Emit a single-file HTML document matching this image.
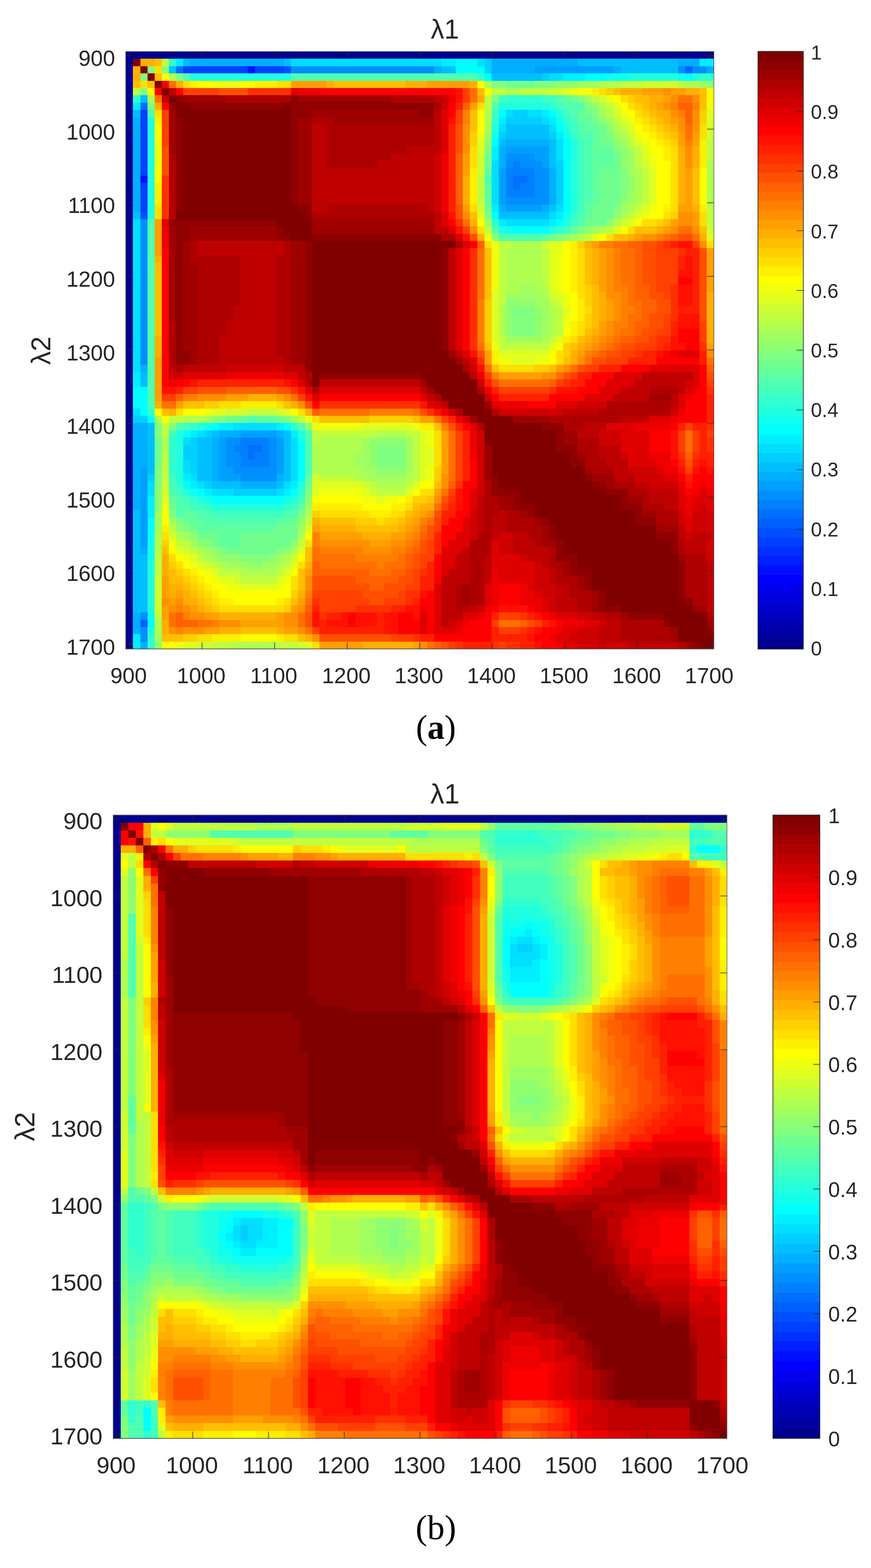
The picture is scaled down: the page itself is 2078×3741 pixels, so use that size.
<!DOCTYPE html>
<html lang="en"><head><meta charset="utf-8"><title>Correlation maps</title>
<style>
html,body{margin:0;padding:0;background:#fff;}
body{width:2078px;height:3741px;overflow:hidden;}
svg{display:block;}
text{font-family:"Liberation Sans","DejaVu Sans",sans-serif;fill:#262626;}
text.cap{font-family:"Liberation Serif","DejaVu Serif",serif;fill:#000;}
</style></head><body>
<svg width="2078" height="3741" viewBox="0 0 2078 3741">
<rect width="2078" height="3741" fill="#fff"/>
<g transform="translate(300.30 123.10) scale(17.10732 17.37927)" shape-rendering="crispEdges">
<path fill="#00008f" d="M0 0h82v1h-82zM0 1h1v1h-1zM0 2h1v1h-1zM0 3h1v1h-1zM0 4h1v1h-1zM0 5h1v1h-1zM0 6h1v1h-1zM0 7h1v1h-1zM0 8h1v1h-1zM0 9h1v1h-1zM0 10h1v1h-1zM0 11h1v1h-1zM0 12h1v1h-1zM0 13h1v1h-1zM0 14h1v1h-1zM0 15h1v1h-1zM0 16h1v1h-1zM0 17h1v1h-1zM0 18h1v1h-1zM0 19h1v1h-1zM0 20h1v1h-1zM0 21h1v1h-1zM0 22h1v1h-1zM0 23h1v1h-1zM0 24h1v1h-1zM0 25h1v1h-1zM0 26h1v1h-1zM0 27h1v1h-1zM0 28h1v1h-1zM0 29h1v1h-1zM0 30h1v1h-1zM0 31h1v1h-1zM0 32h1v1h-1zM0 33h1v1h-1zM0 34h1v1h-1zM0 35h1v1h-1zM0 36h1v1h-1zM0 37h1v1h-1zM0 38h1v1h-1zM0 39h1v1h-1zM0 40h1v1h-1zM0 41h1v1h-1zM0 42h1v1h-1zM0 43h1v1h-1zM0 44h1v1h-1zM0 45h1v1h-1zM0 46h1v1h-1zM0 47h1v1h-1zM0 48h1v1h-1zM0 49h1v1h-1zM0 50h1v1h-1zM0 51h1v1h-1zM0 52h1v1h-1zM0 53h1v1h-1zM0 54h1v1h-1zM0 55h1v1h-1zM0 56h1v1h-1zM0 57h1v1h-1zM0 58h1v1h-1zM0 59h1v1h-1zM0 60h1v1h-1zM0 61h1v1h-1zM0 62h1v1h-1zM0 63h1v1h-1zM0 64h1v1h-1zM0 65h1v1h-1zM0 66h1v1h-1zM0 67h1v1h-1zM0 68h1v1h-1zM0 69h1v1h-1zM0 70h1v1h-1zM0 71h1v1h-1zM0 72h1v1h-1zM0 73h1v1h-1zM0 74h1v1h-1zM0 75h1v1h-1zM0 76h1v1h-1zM0 77h1v1h-1zM0 78h1v1h-1zM0 79h1v1h-1zM0 80h1v1h-1zM0 81h1v1h-1z"/>
<path fill="#800000" d="M1 1h1v1h-1zM2 2h1v1h-1zM3 3h1v1h-1zM4 4h1v1h-1zM5 5h1v1h-1zM6 6h1v1h-1zM7 7h2v1h-2zM22 7h1v1h-1zM7 8h16v1h-16zM8 9h15v1h-15zM8 10h15v1h-15zM8 11h15v1h-15zM8 12h15v1h-15zM8 13h15v1h-15zM8 14h15v1h-15zM8 15h15v1h-15zM8 16h15v1h-15zM8 17h15v1h-15zM8 18h15v1h-15zM8 19h15v1h-15zM8 20h15v1h-15zM8 21h16v1h-16zM7 22h18v1h-18zM21 23h5v1h-5zM22 24h4v1h-4zM23 25h3v1h-3zM26 26h20v1h-20zM26 27h18v1h-18zM26 28h18v1h-18zM26 29h18v1h-18zM26 30h18v1h-18zM26 31h18v1h-18zM26 32h18v1h-18zM26 33h18v1h-18zM26 34h18v1h-18zM26 35h18v1h-18zM26 36h18v1h-18zM26 37h18v1h-18zM26 38h18v1h-18zM26 39h18v1h-18zM26 40h18v1h-18zM26 41h19v1h-19zM26 42h20v1h-20zM26 43h21v1h-21zM26 44h1v1h-1zM41 44h7v1h-7zM26 45h1v1h-1zM42 45h7v1h-7zM43 46h6v1h-6zM44 47h6v1h-6zM45 48h5v1h-5zM47 49h4v1h-4zM49 50h5v1h-5zM50 51h8v1h-8zM50 52h10v1h-10zM50 53h10v1h-10zM51 54h9v1h-9zM51 55h11v1h-11zM51 56h11v1h-11zM51 57h13v1h-13zM52 58h12v1h-12zM52 59h13v1h-13zM55 60h12v1h-12zM55 61h14v1h-14zM57 62h12v1h-12zM57 63h14v1h-14zM59 64h12v1h-12zM60 65h14v1h-14zM60 66h14v1h-14zM61 67h15v1h-15zM61 68h15v1h-15zM63 69h14v1h-14zM63 70h14v1h-14zM65 71h12v1h-12zM65 72h12v1h-12zM65 73h12v1h-12zM67 74h10v1h-10zM67 75h11v1h-11zM69 76h10v1h-10zM75 77h6v1h-6zM76 78h5v1h-5zM77 79h4v1h-4zM77 80h5v1h-5zM80 81h2v1h-2z"/>
<path fill="#ffaf00" d="M2 1h2v1h-2zM1 2h1v1h-1zM1 3h1v1h-1zM7 4h1v1h-1zM28 4h1v1h-1zM39 4h3v1h-3zM48 4h1v1h-1zM69 5h3v1h-3zM78 5h2v1h-2zM49 6h1v1h-1zM73 6h2v1h-2zM4 7h1v1h-1zM73 7h1v1h-1zM74 8h2v1h-2zM75 9h1v1h-1zM76 10h1v1h-1zM77 13h1v1h-1zM79 13h1v1h-1zM77 14h1v1h-1zM79 14h1v1h-1zM77 15h1v1h-1zM79 15h1v1h-1zM77 16h1v1h-1zM47 17h1v1h-1zM77 17h1v1h-1zM47 18h1v1h-1zM77 18h1v1h-1zM47 19h1v1h-1zM77 19h1v1h-1zM47 20h1v1h-1zM77 20h1v1h-1zM79 21h1v1h-1zM48 23h1v1h-1zM74 24h1v1h-1zM49 25h1v1h-1zM70 25h1v1h-1zM80 25h1v1h-1zM64 26h1v1h-1zM65 27h1v1h-1zM4 28h1v1h-1zM65 28h1v1h-1zM65 29h1v1h-1zM65 30h1v1h-1zM65 31h1v1h-1zM66 33h1v1h-1zM81 33h1v1h-1zM66 34h1v1h-1zM81 34h1v1h-1zM66 35h1v1h-1zM81 35h1v1h-1zM66 36h1v1h-1zM81 36h1v1h-1zM81 37h1v1h-1zM65 38h1v1h-1zM81 38h1v1h-1zM4 39h1v1h-1zM64 39h1v1h-1zM81 39h1v1h-1zM4 40h1v1h-1zM63 40h1v1h-1zM4 41h1v1h-1zM62 41h1v1h-1zM62 42h1v1h-1zM17 47h4v1h-4zM4 48h1v1h-1zM23 48h1v1h-1zM6 49h1v1h-1zM25 49h1v1h-1zM41 62h2v1h-2zM40 63h1v1h-1zM26 64h1v1h-1zM39 64h1v1h-1zM27 65h5v1h-5zM38 65h1v1h-1zM33 66h4v1h-4zM5 69h1v1h-1zM5 70h1v1h-1zM25 70h1v1h-1zM5 71h1v1h-1zM6 73h2v1h-2zM6 74h1v1h-1zM8 74h1v1h-1zM24 74h1v1h-1zM8 75h2v1h-2zM10 76h1v1h-1zM13 77h8v1h-8zM5 78h1v1h-1zM5 79h1v1h-1zM13 79h3v1h-3zM21 79h1v1h-1zM25 80h1v1h-1zM33 81h7v1h-7z"/>
<path fill="#ffbf00" d="M4 1h1v1h-1zM4 3h1v1h-1zM1 4h1v1h-1zM3 4h1v1h-1zM29 4h10v1h-10zM49 5h1v1h-1zM68 5h1v1h-1zM80 5h1v1h-1zM71 6h2v1h-2zM80 6h1v1h-1zM72 7h1v1h-1zM80 7h1v1h-1zM48 8h1v1h-1zM73 8h1v1h-1zM48 9h1v1h-1zM74 9h1v1h-1zM48 10h1v1h-1zM75 10h1v1h-1zM76 11h1v1h-1zM79 16h1v1h-1zM79 17h1v1h-1zM79 18h1v1h-1zM79 19h1v1h-1zM79 20h1v1h-1zM48 22h1v1h-1zM75 23h1v1h-1zM71 24h3v1h-3zM80 24h1v1h-1zM68 25h2v1h-2zM50 27h1v1h-1zM64 27h1v1h-1zM50 28h1v1h-1zM64 28h1v1h-1zM4 29h1v1h-1zM50 29h1v1h-1zM64 29h1v1h-1zM4 30h1v1h-1zM50 30h1v1h-1zM64 30h1v1h-1zM4 31h1v1h-1zM50 31h1v1h-1zM64 31h1v1h-1zM4 32h1v1h-1zM50 32h1v1h-1zM65 32h1v1h-1zM4 33h1v1h-1zM50 33h1v1h-1zM65 33h1v1h-1zM4 34h1v1h-1zM65 34h1v1h-1zM4 35h1v1h-1zM65 35h1v1h-1zM4 36h1v1h-1zM65 36h1v1h-1zM4 37h1v1h-1zM65 37h1v1h-1zM4 38h1v1h-1zM64 38h1v1h-1zM63 39h1v1h-1zM50 40h1v1h-1zM62 40h1v1h-1zM61 42h1v1h-1zM51 43h1v1h-1zM59 43h1v1h-1zM8 48h3v1h-3zM22 48h1v1h-1zM5 49h1v1h-1zM27 50h7v1h-7zM40 50h1v1h-1zM43 51h1v1h-1zM43 59h1v1h-1zM42 61h1v1h-1zM40 62h1v1h-1zM39 63h1v1h-1zM27 64h5v1h-5zM38 64h1v1h-1zM32 65h6v1h-6zM5 68h1v1h-1zM25 68h1v1h-1zM25 69h1v1h-1zM6 71h1v1h-1zM24 71h1v1h-1zM6 72h2v1h-2zM24 72h1v1h-1zM8 73h1v1h-1zM24 73h1v1h-1zM9 74h1v1h-1zM10 75h1v1h-1zM23 75h1v1h-1zM11 76h1v1h-1zM16 79h5v1h-5zM5 80h3v1h-3zM24 80h1v1h-1z"/>
<path fill="#bfff40" d="M5 1h1v1h-1zM69 4h3v1h-3zM77 4h1v1h-1zM1 5h1v1h-1zM51 5h2v1h-2zM55 5h4v1h-4zM50 6h1v1h-1zM65 6h1v1h-1zM50 7h1v1h-1zM67 7h1v1h-1zM67 8h1v1h-1zM68 9h1v1h-1zM69 10h1v1h-1zM70 12h1v1h-1zM81 12h1v1h-1zM71 13h1v1h-1zM81 13h1v1h-1zM71 14h1v1h-1zM81 14h1v1h-1zM71 15h1v1h-1zM72 16h1v1h-1zM49 17h1v1h-1zM72 17h1v1h-1zM49 18h1v1h-1zM72 18h1v1h-1zM49 19h1v1h-1zM72 19h1v1h-1zM49 20h1v1h-1zM72 20h1v1h-1zM71 21h1v1h-1zM81 21h1v1h-1zM70 22h1v1h-1zM81 22h1v1h-1zM81 23h1v1h-1zM50 24h1v1h-1zM67 24h1v1h-1zM64 25h1v1h-1zM52 26h2v1h-2zM52 27h1v1h-1zM58 27h1v1h-1zM52 28h1v1h-1zM58 28h1v1h-1zM52 29h1v1h-1zM58 29h1v1h-1zM52 30h1v1h-1zM58 30h1v1h-1zM52 31h1v1h-1zM58 31h1v1h-1zM52 32h1v1h-1zM52 33h1v1h-1zM52 34h1v1h-1zM59 34h1v1h-1zM60 35h1v1h-1zM60 36h1v1h-1zM60 37h1v1h-1zM60 38h1v1h-1zM52 39h1v1h-1zM59 39h1v1h-1zM52 40h7v1h-7zM17 49h4v1h-4zM6 50h2v1h-2zM24 50h1v1h-1zM5 51h1v1h-1zM5 52h1v1h-1zM26 52h9v1h-9zM39 52h2v1h-2zM26 53h1v1h-1zM40 53h1v1h-1zM40 54h1v1h-1zM5 55h1v1h-1zM40 55h1v1h-1zM5 56h1v1h-1zM40 56h1v1h-1zM5 57h1v1h-1zM40 57h1v1h-1zM5 58h1v1h-1zM27 58h5v1h-5zM40 58h1v1h-1zM34 59h1v1h-1zM39 59h1v1h-1zM35 60h4v1h-4zM25 64h1v1h-1zM6 65h1v1h-1zM7 67h2v1h-2zM24 67h1v1h-1zM9 68h1v1h-1zM4 69h1v1h-1zM10 69h1v1h-1zM4 70h1v1h-1zM12 70h1v1h-1zM22 70h1v1h-1zM4 71h1v1h-1zM13 71h3v1h-3zM21 71h1v1h-1zM16 72h5v1h-5zM4 77h1v1h-1zM12 81h3v1h-3zM21 81h3v1h-3z"/>
<path fill="#30ffcf" d="M6 1h1v1h-1zM49 3h1v1h-1zM80 3h2v1h-2zM1 6h1v1h-1zM53 6h5v1h-5zM59 7h1v1h-1zM51 9h1v1h-1zM61 9h1v1h-1zM62 11h1v1h-1zM62 22h1v1h-1zM51 23h1v1h-1zM60 24h1v1h-1zM3 49h1v1h-1zM9 51h1v1h-1zM23 51h1v1h-1zM6 53h1v1h-1zM6 54h1v1h-1zM6 55h1v1h-1zM6 56h1v1h-1zM6 57h1v1h-1zM7 59h1v1h-1zM24 60h1v1h-1zM9 61h1v1h-1zM11 62h1v1h-1zM22 62h1v1h-1zM3 80h1v1h-1zM3 81h1v1h-1z"/>
<path fill="#00efff" d="M7 1h1v1h-1zM44 1h2v1h-2zM80 1h2v1h-2zM61 3h3v1h-3zM1 7h1v1h-1zM58 8h1v1h-1zM52 9h1v1h-1zM59 9h1v1h-1zM60 11h1v1h-1zM51 13h1v1h-1zM51 14h1v1h-1zM51 21h1v1h-1zM60 22h1v1h-1zM52 23h1v1h-1zM59 23h1v1h-1zM1 44h1v1h-1zM1 45h1v1h-1zM13 51h2v1h-2zM21 51h1v1h-1zM9 52h1v1h-1zM23 52h1v1h-1zM8 58h1v1h-1zM9 59h1v1h-1zM23 59h1v1h-1zM11 60h1v1h-1zM22 60h1v1h-1zM3 61h1v1h-1zM3 62h1v1h-1zM3 63h1v1h-1zM1 80h1v1h-1zM1 81h1v1h-1z"/>
<path fill="#00bfff" d="M8 1h1v1h-1zM22 1h1v1h-1zM63 1h14v1h-14zM6 2h1v1h-1zM44 2h2v1h-2zM69 2h8v1h-8zM51 3h7v1h-7zM2 6h1v1h-1zM1 8h1v1h-1zM53 10h6v1h-6zM53 11h6v1h-6zM52 12h1v1h-1zM59 12h1v1h-1zM59 13h1v1h-1zM59 14h1v1h-1zM59 15h1v1h-1zM59 21h1v1h-1zM1 22h1v1h-1zM52 22h7v1h-7zM2 44h1v1h-1zM2 45h1v1h-1zM3 51h1v1h-1zM3 52h1v1h-1zM12 52h1v1h-1zM22 52h1v1h-1zM3 53h1v1h-1zM10 53h2v1h-2zM22 53h1v1h-1zM3 54h1v1h-1zM10 54h2v1h-2zM22 54h1v1h-1zM3 55h1v1h-1zM10 55h2v1h-2zM22 55h1v1h-1zM3 56h1v1h-1zM10 56h2v1h-2zM22 56h1v1h-1zM3 57h1v1h-1zM10 57h2v1h-2zM22 57h1v1h-1zM10 58h2v1h-2zM22 58h1v1h-1zM12 59h4v1h-4zM21 59h1v1h-1zM1 63h1v1h-1zM1 64h1v1h-1zM1 65h1v1h-1zM1 66h1v1h-1zM1 67h1v1h-1zM1 68h1v1h-1zM1 69h2v1h-2zM1 70h2v1h-2zM1 71h2v1h-2zM1 72h2v1h-2zM1 73h2v1h-2zM1 74h2v1h-2zM1 75h2v1h-2zM1 76h2v1h-2z"/>
<path fill="#00afff" d="M9 1h13v1h-13zM51 1h12v1h-12zM77 1h3v1h-3zM43 2h1v1h-1zM51 2h6v1h-6zM68 2h1v1h-1zM81 2h1v1h-1zM1 9h1v1h-1zM1 10h1v1h-1zM1 11h1v1h-1zM1 12h1v1h-1zM53 12h6v1h-6zM1 13h1v1h-1zM52 13h1v1h-1zM1 14h1v1h-1zM52 14h1v1h-1zM1 15h1v1h-1zM52 15h1v1h-1zM1 16h1v1h-1zM59 16h1v1h-1zM1 17h1v1h-1zM59 17h1v1h-1zM1 18h1v1h-1zM59 18h1v1h-1zM1 19h1v1h-1zM59 19h1v1h-1zM1 20h1v1h-1zM59 20h1v1h-1zM1 21h1v1h-1zM52 21h1v1h-1zM58 21h1v1h-1zM2 43h1v1h-1zM1 51h2v1h-2zM1 52h2v1h-2zM13 52h3v1h-3zM21 52h1v1h-1zM1 53h2v1h-2zM12 53h1v1h-1zM1 54h2v1h-2zM12 54h1v1h-1zM1 55h2v1h-2zM12 55h1v1h-1zM1 56h2v1h-2zM12 56h1v1h-1zM1 57h1v1h-1zM12 57h1v1h-1zM1 58h1v1h-1zM12 58h1v1h-1zM21 58h1v1h-1zM1 59h1v1h-1zM16 59h5v1h-5zM1 60h1v1h-1zM1 61h1v1h-1zM1 62h1v1h-1zM2 68h1v1h-1zM1 77h1v1h-1zM1 78h1v1h-1zM1 79h1v1h-1zM2 81h1v1h-1z"/>
<path fill="#00dfff" d="M23 1h21v1h-21zM49 1h1v1h-1zM59 3h2v1h-2zM53 8h1v1h-1zM56 8h2v1h-2zM58 9h1v1h-1zM52 10h1v1h-1zM59 10h1v1h-1zM60 12h1v1h-1zM60 13h1v1h-1zM60 14h1v1h-1zM51 15h1v1h-1zM51 16h1v1h-1zM51 17h1v1h-1zM51 18h1v1h-1zM51 19h1v1h-1zM51 20h1v1h-1zM60 21h1v1h-1zM59 22h1v1h-1zM1 23h1v1h-1zM53 23h6v1h-6zM1 24h1v1h-1zM1 25h1v1h-1zM1 26h1v1h-1zM1 27h1v1h-1zM1 28h1v1h-1zM1 29h1v1h-1zM1 30h1v1h-1zM1 31h1v1h-1zM1 32h1v1h-1zM1 33h1v1h-1zM1 34h1v1h-1zM1 35h1v1h-1zM1 36h1v1h-1zM1 37h1v1h-1zM1 38h1v1h-1zM1 39h1v1h-1zM1 40h1v1h-1zM1 41h1v1h-1zM1 42h1v1h-1zM1 43h1v1h-1zM1 49h1v1h-1zM15 51h6v1h-6zM10 52h1v1h-1zM8 53h1v1h-1zM23 53h1v1h-1zM23 54h1v1h-1zM23 55h1v1h-1zM8 56h1v1h-1zM23 56h1v1h-1zM8 57h1v1h-1zM23 57h1v1h-1zM9 58h1v1h-1zM23 58h1v1h-1zM3 59h1v1h-1zM10 59h1v1h-1zM22 59h1v1h-1zM3 60h1v1h-1zM12 60h3v1h-3zM21 60h1v1h-1z"/>
<path fill="#00ffff" d="M46 1h3v1h-3zM46 2h4v1h-4zM50 3h1v1h-1zM64 3h3v1h-3zM78 3h1v1h-1zM52 8h1v1h-1zM59 8h1v1h-1zM60 10h1v1h-1zM51 12h1v1h-1zM61 12h1v1h-1zM61 13h1v1h-1zM61 14h1v1h-1zM61 15h1v1h-1zM61 16h1v1h-1zM61 17h1v1h-1zM61 18h1v1h-1zM61 19h1v1h-1zM61 20h1v1h-1zM61 21h1v1h-1zM51 22h1v1h-1zM60 23h1v1h-1zM54 24h5v1h-5zM1 46h2v1h-2zM1 47h2v1h-2zM1 48h2v1h-2zM2 49h1v1h-1zM3 50h1v1h-1zM12 51h1v1h-1zM22 51h1v1h-1zM8 52h1v1h-1zM24 54h1v1h-1zM24 55h1v1h-1zM24 56h1v1h-1zM24 57h1v1h-1zM24 58h1v1h-1zM8 59h1v1h-1zM10 60h1v1h-1zM23 60h1v1h-1zM12 61h10v1h-10zM3 64h1v1h-1zM3 65h1v1h-1zM3 66h1v1h-1zM3 78h1v1h-1z"/>
<path fill="#00cfff" d="M50 1h1v1h-1zM50 2h1v1h-1zM58 3h1v1h-1zM54 8h2v1h-2zM53 9h5v1h-5zM52 11h1v1h-1zM59 11h1v1h-1zM60 15h1v1h-1zM60 16h1v1h-1zM60 17h1v1h-1zM60 18h1v1h-1zM60 19h1v1h-1zM60 20h1v1h-1zM1 50h2v1h-2zM11 52h1v1h-1zM9 53h1v1h-1zM8 54h2v1h-2zM8 55h2v1h-2zM9 56h1v1h-1zM9 57h1v1h-1zM3 58h1v1h-1zM11 59h1v1h-1zM15 60h6v1h-6z"/>
<path fill="#80ff80" d="M3 2h1v1h-1zM5 2h1v1h-1zM2 3h1v1h-1zM7 3h1v1h-1zM51 4h2v1h-2zM57 4h3v1h-3zM2 5h1v1h-1zM51 6h1v1h-1zM63 6h1v1h-1zM3 7h1v1h-1zM64 7h1v1h-1zM65 8h1v1h-1zM67 11h1v1h-1zM50 13h1v1h-1zM68 13h1v1h-1zM69 16h1v1h-1zM69 17h1v1h-1zM69 18h1v1h-1zM69 19h1v1h-1zM68 21h1v1h-1zM50 22h1v1h-1zM63 24h1v1h-1zM60 25h1v1h-1zM54 35h3v1h-3zM54 36h3v1h-3zM54 37h3v1h-3zM54 38h3v1h-3zM13 50h1v1h-1zM22 50h1v1h-1zM4 51h1v1h-1zM6 51h1v1h-1zM4 52h1v1h-1zM35 54h4v1h-4zM35 55h4v1h-4zM35 56h4v1h-4zM4 57h1v1h-1zM4 58h1v1h-1zM4 59h1v1h-1zM25 60h1v1h-1zM6 63h1v1h-1zM24 63h1v1h-1zM7 64h1v1h-1zM8 65h1v1h-1zM11 67h1v1h-1zM13 68h1v1h-1zM21 68h1v1h-1zM16 69h4v1h-4z"/>
<path fill="#ffdf00" d="M4 2h1v1h-1zM2 4h1v1h-1zM8 4h1v1h-1zM21 4h2v1h-2zM66 5h1v1h-1zM69 6h1v1h-1zM49 7h1v1h-1zM70 7h1v1h-1zM4 8h1v1h-1zM71 8h1v1h-1zM72 9h1v1h-1zM73 10h1v1h-1zM80 10h1v1h-1zM74 11h1v1h-1zM80 11h1v1h-1zM75 12h1v1h-1zM48 13h1v1h-1zM76 13h1v1h-1zM48 14h1v1h-1zM76 14h1v1h-1zM48 15h1v1h-1zM76 15h1v1h-1zM76 16h1v1h-1zM76 17h1v1h-1zM76 18h1v1h-1zM76 19h1v1h-1zM76 20h1v1h-1zM4 21h1v1h-1zM48 21h1v1h-1zM76 21h1v1h-1zM4 22h1v1h-1zM75 22h1v1h-1zM80 22h1v1h-1zM72 23h2v1h-2zM80 23h1v1h-1zM49 24h1v1h-1zM70 24h1v1h-1zM67 25h1v1h-1zM50 26h1v1h-1zM81 26h1v1h-1zM63 27h1v1h-1zM63 28h1v1h-1zM63 29h1v1h-1zM63 30h1v1h-1zM63 31h1v1h-1zM63 32h1v1h-1zM63 33h1v1h-1zM64 35h1v1h-1zM63 37h1v1h-1zM63 38h1v1h-1zM62 39h1v1h-1zM60 41h1v1h-1zM60 42h1v1h-1zM52 43h5v1h-5zM13 48h3v1h-3zM21 48h1v1h-1zM7 49h1v1h-1zM24 49h1v1h-1zM26 50h1v1h-1zM43 52h1v1h-1zM43 53h1v1h-1zM43 54h1v1h-1zM43 55h1v1h-1zM43 56h1v1h-1zM41 60h2v1h-2zM39 62h1v1h-1zM27 63h7v1h-7zM37 63h2v1h-2zM35 64h1v1h-1zM5 66h1v1h-1zM25 67h1v1h-1zM6 69h1v1h-1zM7 70h1v1h-1zM24 70h1v1h-1zM8 71h1v1h-1zM9 72h1v1h-1zM23 72h1v1h-1zM10 73h1v1h-1zM23 73h1v1h-1zM11 74h1v1h-1zM12 75h1v1h-1zM22 75h1v1h-1zM13 76h9v1h-9zM10 80h2v1h-2zM22 80h2v1h-2zM26 81h1v1h-1z"/>
<path fill="#0070ff" d="M7 2h1v1h-1zM2 7h1v1h-1zM54 17h2v1h-2zM54 18h1v1h-1zM17 54h2v1h-2zM17 55h1v1h-1z"/>
<path fill="#0040ff" d="M8 2h9v1h-9zM18 2h4v1h-4zM2 8h1v1h-1zM2 9h1v1h-1zM2 10h1v1h-1zM2 11h1v1h-1zM2 12h1v1h-1zM2 13h1v1h-1zM2 14h1v1h-1zM2 15h1v1h-1zM2 16h1v1h-1zM2 18h1v1h-1zM2 19h1v1h-1zM2 20h1v1h-1zM2 21h1v1h-1z"/>
<path fill="#0010ff" d="M17 2h1v1h-1zM2 17h1v1h-1z"/>
<path fill="#0050ff" d="M22 2h1v1h-1zM2 22h1v1h-1z"/>
<path fill="#008fff" d="M23 2h20v1h-20zM77 2h1v1h-1zM79 2h2v1h-2zM53 14h4v1h-4zM53 15h1v1h-1zM55 15h3v1h-3zM57 16h2v1h-2zM57 17h2v1h-2zM57 18h2v1h-2zM57 19h2v1h-2zM53 20h6v1h-6zM2 23h1v1h-1zM2 24h1v1h-1zM2 25h1v1h-1zM2 26h1v1h-1zM2 27h1v1h-1zM2 28h1v1h-1zM2 29h1v1h-1zM2 30h1v1h-1zM2 31h1v1h-1zM2 32h1v1h-1zM2 33h1v1h-1zM2 34h1v1h-1zM2 35h1v1h-1zM2 36h1v1h-1zM2 37h1v1h-1zM2 38h1v1h-1zM2 39h1v1h-1zM2 40h1v1h-1zM2 41h1v1h-1zM2 42h1v1h-1zM14 53h2v1h-2zM20 53h1v1h-1zM14 54h1v1h-1zM20 54h1v1h-1zM14 55h2v1h-2zM20 55h1v1h-1zM14 56h2v1h-2zM20 56h1v1h-1zM15 57h6v1h-6zM16 58h5v1h-5zM2 77h1v1h-1zM2 79h1v1h-1zM2 80h1v1h-1z"/>
<path fill="#009fff" d="M57 2h11v1h-11zM53 13h6v1h-6zM57 14h2v1h-2zM58 15h1v1h-1zM52 16h1v1h-1zM52 17h1v1h-1zM52 18h1v1h-1zM52 19h1v1h-1zM52 20h1v1h-1zM53 21h5v1h-5zM16 52h5v1h-5zM13 53h1v1h-1zM21 53h1v1h-1zM13 54h1v1h-1zM21 54h1v1h-1zM13 55h1v1h-1zM21 55h1v1h-1zM13 56h1v1h-1zM21 56h1v1h-1zM2 57h1v1h-1zM13 57h2v1h-2zM21 57h1v1h-1zM2 58h1v1h-1zM13 58h3v1h-3zM2 59h1v1h-1zM2 60h1v1h-1zM2 61h1v1h-1zM2 62h1v1h-1zM2 63h1v1h-1zM2 64h1v1h-1zM2 65h1v1h-1zM2 66h1v1h-1zM2 67h1v1h-1z"/>
<path fill="#0060ff" d="M78 2h1v1h-1zM2 78h1v1h-1z"/>
<path fill="#ffff00" d="M5 3h1v1h-1zM10 4h2v1h-2zM16 4h2v1h-2zM49 4h1v1h-1zM3 5h1v1h-1zM50 5h1v1h-1zM63 5h2v1h-2zM81 5h1v1h-1zM68 6h1v1h-1zM81 6h1v1h-1zM69 7h1v1h-1zM49 8h1v1h-1zM70 8h1v1h-1zM49 9h1v1h-1zM4 10h1v1h-1zM49 10h1v1h-1zM71 10h1v1h-1zM4 11h1v1h-1zM72 11h1v1h-1zM73 12h1v1h-1zM73 13h2v1h-2zM74 14h1v1h-1zM74 15h2v1h-2zM4 16h1v1h-1zM74 16h2v1h-2zM80 16h1v1h-1zM4 17h1v1h-1zM74 17h2v1h-2zM80 17h1v1h-1zM74 18h2v1h-2zM80 18h1v1h-1zM74 19h2v1h-2zM80 19h1v1h-1zM74 20h2v1h-2zM80 20h1v1h-1zM74 21h1v1h-1zM73 22h2v1h-2zM49 23h1v1h-1zM71 23h1v1h-1zM69 24h1v1h-1zM66 25h1v1h-1zM61 26h1v1h-1zM61 27h1v1h-1zM61 28h1v1h-1zM61 29h1v1h-1zM61 30h1v1h-1zM61 31h1v1h-1zM61 32h1v1h-1zM62 33h1v1h-1zM62 34h1v1h-1zM62 35h1v1h-1zM62 36h1v1h-1zM61 38h1v1h-1zM60 40h1v1h-1zM59 41h1v1h-1zM59 42h1v1h-1zM4 49h1v1h-1zM8 49h3v1h-3zM23 49h1v1h-1zM5 50h1v1h-1zM41 59h2v1h-2zM40 60h1v1h-1zM26 61h7v1h-7zM38 61h1v1h-1zM33 62h4v1h-4zM5 63h1v1h-1zM5 64h1v1h-1zM25 66h1v1h-1zM6 68h1v1h-1zM7 69h1v1h-1zM24 69h1v1h-1zM8 70h1v1h-1zM10 71h1v1h-1zM23 71h1v1h-1zM11 72h1v1h-1zM12 73h2v1h-2zM22 73h1v1h-1zM13 74h10v1h-10zM15 75h6v1h-6zM16 80h5v1h-5zM5 81h2v1h-2z"/>
<path fill="#afff50" d="M6 3h1v1h-1zM50 4h1v1h-1zM66 4h3v1h-3zM78 4h2v1h-2zM53 5h2v1h-2zM3 6h1v1h-1zM66 7h1v1h-1zM50 8h1v1h-1zM50 9h1v1h-1zM50 10h1v1h-1zM68 10h1v1h-1zM69 11h1v1h-1zM70 13h1v1h-1zM81 15h1v1h-1zM71 16h1v1h-1zM81 16h1v1h-1zM71 17h1v1h-1zM81 17h1v1h-1zM71 18h1v1h-1zM81 18h1v1h-1zM71 19h1v1h-1zM81 19h1v1h-1zM71 20h1v1h-1zM81 20h1v1h-1zM70 21h1v1h-1zM69 22h1v1h-1zM68 23h1v1h-1zM66 24h1v1h-1zM63 25h1v1h-1zM54 26h4v1h-4zM53 27h5v1h-5zM53 28h5v1h-5zM53 29h5v1h-5zM53 30h5v1h-5zM53 31h5v1h-5zM53 32h2v1h-2zM57 32h2v1h-2zM58 33h1v1h-1zM52 35h1v1h-1zM59 35h1v1h-1zM52 36h1v1h-1zM59 36h1v1h-1zM52 37h1v1h-1zM59 37h1v1h-1zM52 38h1v1h-1zM59 38h1v1h-1zM58 39h1v1h-1zM4 50h1v1h-1zM8 50h3v1h-3zM35 52h4v1h-4zM5 53h1v1h-1zM27 53h6v1h-6zM5 54h1v1h-1zM26 54h7v1h-7zM26 55h6v1h-6zM26 56h6v1h-6zM26 57h7v1h-7zM32 58h2v1h-2zM39 58h1v1h-1zM35 59h4v1h-4zM25 63h1v1h-1zM4 66h1v1h-1zM7 66h1v1h-1zM24 66h1v1h-1zM4 67h1v1h-1zM4 68h1v1h-1zM10 68h1v1h-1zM23 68h1v1h-1zM11 69h1v1h-1zM22 69h1v1h-1zM13 70h1v1h-1zM21 70h1v1h-1zM16 71h5v1h-5zM4 78h1v1h-1zM4 79h1v1h-1zM15 81h6v1h-6z"/>
<path fill="#50ffaf" d="M8 3h1v1h-1zM23 3h26v1h-26zM60 6h1v1h-1zM51 7h1v1h-1zM61 7h3v1h-3zM3 8h1v1h-1zM62 8h1v1h-1zM63 10h1v1h-1zM63 11h2v1h-2zM64 12h1v1h-1zM64 13h1v1h-1zM64 14h1v1h-1zM64 15h1v1h-1zM64 16h1v1h-1zM50 17h1v1h-1zM64 17h1v1h-1zM64 18h1v1h-1zM64 19h1v1h-1zM64 20h1v1h-1zM63 22h1v1h-1zM3 23h1v1h-1zM63 23h1v1h-1zM3 24h1v1h-1zM51 24h1v1h-1zM3 25h1v1h-1zM52 25h6v1h-6zM3 26h1v1h-1zM3 27h1v1h-1zM3 28h1v1h-1zM3 29h1v1h-1zM3 30h1v1h-1zM3 31h1v1h-1zM3 32h1v1h-1zM3 33h1v1h-1zM3 34h1v1h-1zM3 35h1v1h-1zM3 36h1v1h-1zM3 37h1v1h-1zM3 38h1v1h-1zM3 39h1v1h-1zM3 40h1v1h-1zM3 41h1v1h-1zM3 42h1v1h-1zM3 43h1v1h-1zM3 44h1v1h-1zM3 45h1v1h-1zM3 46h1v1h-1zM3 47h1v1h-1zM3 48h1v1h-1zM17 50h1v1h-1zM7 51h1v1h-1zM24 51h1v1h-1zM25 52h1v1h-1zM25 53h1v1h-1zM25 54h1v1h-1zM25 55h1v1h-1zM25 56h1v1h-1zM25 57h1v1h-1zM6 60h1v1h-1zM7 61h1v1h-1zM7 62h2v1h-2zM7 63h1v1h-1zM10 63h2v1h-2zM22 63h2v1h-2zM11 64h10v1h-10z"/>
<path fill="#20ffdf" d="M9 3h14v1h-14zM70 3h7v1h-7zM79 3h1v1h-1zM52 7h7v1h-7zM60 8h1v1h-1zM3 9h1v1h-1zM3 10h1v1h-1zM51 10h1v1h-1zM61 10h1v1h-1zM3 11h1v1h-1zM3 12h1v1h-1zM62 12h1v1h-1zM3 13h1v1h-1zM62 13h1v1h-1zM3 14h1v1h-1zM62 14h1v1h-1zM3 15h1v1h-1zM62 15h1v1h-1zM3 16h1v1h-1zM62 16h1v1h-1zM3 17h1v1h-1zM62 17h1v1h-1zM3 18h1v1h-1zM62 18h1v1h-1zM3 19h1v1h-1zM62 19h1v1h-1zM3 20h1v1h-1zM62 20h1v1h-1zM3 21h1v1h-1zM62 21h1v1h-1zM3 22h1v1h-1zM61 23h1v1h-1zM52 24h1v1h-1zM59 24h1v1h-1zM10 51h1v1h-1zM7 52h1v1h-1zM24 52h1v1h-1zM7 53h1v1h-1zM7 54h1v1h-1zM7 55h1v1h-1zM7 56h1v1h-1zM7 57h1v1h-1zM7 58h1v1h-1zM24 59h1v1h-1zM8 60h1v1h-1zM10 61h1v1h-1zM23 61h1v1h-1zM12 62h10v1h-10zM3 70h1v1h-1zM3 71h1v1h-1zM3 72h1v1h-1zM3 73h1v1h-1zM3 74h1v1h-1zM3 75h1v1h-1zM3 76h1v1h-1zM3 79h1v1h-1z"/>
<path fill="#10ffef" d="M67 3h3v1h-3zM77 3h1v1h-1zM60 9h1v1h-1zM51 11h1v1h-1zM61 11h1v1h-1zM61 22h1v1h-1zM53 24h1v1h-1zM11 51h1v1h-1zM24 53h1v1h-1zM9 60h1v1h-1zM11 61h1v1h-1zM22 61h1v1h-1zM3 67h1v1h-1zM3 68h1v1h-1zM3 69h1v1h-1zM3 77h1v1h-1z"/>
<path fill="#ff0000" d="M5 4h1v1h-1zM4 5h1v1h-1zM7 5h1v1h-1zM27 5h19v1h-19zM5 7h1v1h-1zM45 7h1v1h-1zM45 8h1v1h-1zM45 23h1v1h-1zM48 26h1v1h-1zM5 27h1v1h-1zM47 27h1v1h-1zM5 28h1v1h-1zM47 28h1v1h-1zM5 29h1v1h-1zM47 29h1v1h-1zM5 30h1v1h-1zM47 30h1v1h-1zM5 31h1v1h-1zM47 31h1v1h-1zM77 31h2v1h-2zM5 32h1v1h-1zM47 32h1v1h-1zM5 33h1v1h-1zM47 33h1v1h-1zM5 34h1v1h-1zM47 34h1v1h-1zM5 35h1v1h-1zM47 35h1v1h-1zM5 36h1v1h-1zM47 36h1v1h-1zM5 37h1v1h-1zM47 37h1v1h-1zM5 38h1v1h-1zM47 38h1v1h-1zM77 38h3v1h-3zM5 39h1v1h-1zM47 39h1v1h-1zM77 39h3v1h-3zM5 40h1v1h-1zM47 40h1v1h-1zM78 40h2v1h-2zM5 41h1v1h-1zM75 41h1v1h-1zM5 42h1v1h-1zM74 42h6v1h-6zM5 43h1v1h-1zM69 43h4v1h-4zM80 43h1v1h-1zM5 44h1v1h-1zM65 44h3v1h-3zM80 44h1v1h-1zM5 45h1v1h-1zM7 45h2v1h-2zM23 45h1v1h-1zM64 45h3v1h-3zM80 45h1v1h-1zM63 46h3v1h-3zM80 46h1v1h-1zM27 47h14v1h-14zM51 47h1v1h-1zM59 47h5v1h-5zM79 47h2v1h-2zM26 48h1v1h-1zM56 48h4v1h-4zM78 48h3v1h-3zM78 49h3v1h-3zM77 50h4v1h-4zM47 51h1v1h-1zM76 51h1v1h-1zM73 52h3v1h-3zM73 53h3v1h-3zM73 54h3v1h-3zM48 56h1v1h-1zM76 56h1v1h-1zM48 57h1v1h-1zM80 57h1v1h-1zM48 58h1v1h-1zM77 58h1v1h-1zM79 58h3v1h-3zM47 59h2v1h-2zM79 59h1v1h-1zM81 59h1v1h-1zM47 60h1v1h-1zM78 60h1v1h-1zM47 61h1v1h-1zM47 62h1v1h-1zM46 63h2v1h-2zM45 64h2v1h-2zM44 65h3v1h-3zM44 66h2v1h-2zM44 67h1v1h-1zM43 69h1v1h-1zM43 70h1v1h-1zM43 71h1v1h-1zM43 72h1v1h-1zM52 73h3v1h-3zM42 74h1v1h-1zM52 74h3v1h-3zM41 75h2v1h-2zM52 75h3v1h-3zM42 76h1v1h-1zM51 76h1v1h-1zM56 76h1v1h-1zM31 77h1v1h-1zM38 77h2v1h-2zM42 77h1v1h-1zM50 77h1v1h-1zM58 77h1v1h-1zM31 78h1v1h-1zM38 78h3v1h-3zM42 78h1v1h-1zM48 78h3v1h-3zM60 78h1v1h-1zM38 79h3v1h-3zM42 79h1v1h-1zM47 79h4v1h-4zM58 79h2v1h-2zM43 80h8v1h-8zM57 80h2v1h-2zM58 81h2v1h-2z"/>
<path fill="#ff7000" d="M6 4h1v1h-1zM48 5h1v1h-1zM4 6h1v1h-1zM48 6h1v1h-1zM77 6h2v1h-2zM78 10h1v1h-1zM78 11h1v1h-1zM47 23h1v1h-1zM77 24h2v1h-2zM75 25h1v1h-1zM79 25h1v1h-1zM68 26h2v1h-2zM49 27h1v1h-1zM69 27h2v1h-2zM49 28h1v1h-1zM69 28h2v1h-2zM49 29h1v1h-1zM69 29h2v1h-2zM49 30h1v1h-1zM69 30h2v1h-2zM49 31h1v1h-1zM69 31h2v1h-2zM49 32h1v1h-1zM70 32h1v1h-1zM49 33h1v1h-1zM70 33h1v1h-1zM70 34h2v1h-2zM71 35h1v1h-1zM70 36h2v1h-2zM70 37h1v1h-1zM69 38h2v1h-2zM68 39h1v1h-1zM49 40h1v1h-1zM67 40h1v1h-1zM65 41h1v1h-1zM64 42h1v1h-1zM81 42h1v1h-1zM50 43h1v1h-1zM62 43h1v1h-1zM60 44h1v1h-1zM52 45h7v1h-7zM23 47h1v1h-1zM5 48h2v1h-2zM27 49h7v1h-7zM40 49h1v1h-1zM43 50h1v1h-1zM45 52h1v1h-1zM78 52h1v1h-1zM45 53h1v1h-1zM78 53h1v1h-1zM45 54h1v1h-1zM78 54h1v1h-1zM45 55h1v1h-1zM45 56h1v1h-1zM45 57h1v1h-1zM45 58h1v1h-1zM44 60h1v1h-1zM43 62h1v1h-1zM42 64h1v1h-1zM41 65h1v1h-1zM40 67h1v1h-1zM26 68h1v1h-1zM39 68h1v1h-1zM26 69h6v1h-6zM38 69h1v1h-1zM27 70h8v1h-8zM36 70h3v1h-3zM34 71h3v1h-3zM25 75h1v1h-1zM6 77h1v1h-1zM24 77h1v1h-1zM6 78h1v1h-1zM10 78h2v1h-2zM24 78h1v1h-1zM52 78h3v1h-3zM25 79h1v1h-1zM42 81h1v1h-1z"/>
<path fill="#ffef00" d="M9 4h1v1h-1zM18 4h3v1h-3zM65 5h1v1h-1zM4 9h1v1h-1zM71 9h1v1h-1zM72 10h1v1h-1zM73 11h1v1h-1zM74 12h1v1h-1zM80 12h1v1h-1zM75 13h1v1h-1zM80 13h1v1h-1zM75 14h1v1h-1zM80 14h1v1h-1zM80 15h1v1h-1zM48 16h1v1h-1zM48 17h1v1h-1zM4 18h1v1h-1zM48 18h1v1h-1zM4 19h1v1h-1zM48 19h1v1h-1zM4 20h1v1h-1zM48 20h1v1h-1zM75 21h1v1h-1zM80 21h1v1h-1zM62 26h1v1h-1zM62 27h1v1h-1zM62 28h1v1h-1zM62 29h1v1h-1zM62 30h1v1h-1zM62 31h1v1h-1zM62 32h1v1h-1zM63 34h1v1h-1zM63 35h1v1h-1zM63 36h1v1h-1zM62 37h1v1h-1zM62 38h1v1h-1zM61 39h1v1h-1zM51 41h1v1h-1zM51 42h1v1h-1zM16 48h5v1h-5zM41 51h2v1h-2zM39 61h1v1h-1zM26 62h7v1h-7zM37 62h2v1h-2zM34 63h3v1h-3zM5 65h1v1h-1zM9 71h1v1h-1zM10 72h1v1h-1zM11 73h1v1h-1zM12 74h1v1h-1zM13 75h2v1h-2zM21 75h1v1h-1zM12 80h4v1h-4zM21 80h1v1h-1z"/>
<path fill="#efff10" d="M12 4h4v1h-4zM62 5h1v1h-1zM67 6h1v1h-1zM81 7h1v1h-1zM69 8h1v1h-1zM70 9h1v1h-1zM49 11h1v1h-1zM71 11h1v1h-1zM4 12h1v1h-1zM72 12h1v1h-1zM4 13h1v1h-1zM4 14h1v1h-1zM73 14h1v1h-1zM4 15h1v1h-1zM73 15h1v1h-1zM73 21h1v1h-1zM72 22h1v1h-1zM50 25h1v1h-1zM51 26h1v1h-1zM51 27h1v1h-1zM60 27h1v1h-1zM51 28h1v1h-1zM60 28h1v1h-1zM51 29h1v1h-1zM60 29h1v1h-1zM51 30h1v1h-1zM60 30h1v1h-1zM51 31h1v1h-1zM60 31h1v1h-1zM51 32h1v1h-1zM60 32h1v1h-1zM61 33h1v1h-1zM61 34h1v1h-1zM61 36h1v1h-1zM61 37h1v1h-1zM51 40h1v1h-1zM52 42h2v1h-2zM57 42h2v1h-2zM11 49h1v1h-1zM25 50h1v1h-1zM26 51h7v1h-7zM40 51h1v1h-1zM42 52h1v1h-1zM42 53h1v1h-1zM42 57h1v1h-1zM42 58h1v1h-1zM27 60h6v1h-6zM33 61h2v1h-2zM36 61h2v1h-2zM5 62h1v1h-1zM6 67h1v1h-1zM8 69h1v1h-1zM9 70h1v1h-1zM11 71h1v1h-1zM12 72h1v1h-1zM22 72h1v1h-1zM14 73h2v1h-2zM21 73h1v1h-1zM7 81h1v1h-1z"/>
<path fill="#ff9f00" d="M23 4h5v1h-5zM42 4h6v1h-6zM72 5h3v1h-3zM76 5h2v1h-2zM75 6h1v1h-1zM48 7h1v1h-1zM74 7h1v1h-1zM76 9h1v1h-1zM77 11h1v1h-1zM79 11h1v1h-1zM77 12h1v1h-1zM79 12h1v1h-1zM47 14h1v1h-1zM47 15h1v1h-1zM47 16h1v1h-1zM78 16h1v1h-1zM78 17h1v1h-1zM78 18h1v1h-1zM78 19h1v1h-1zM78 20h1v1h-1zM47 21h1v1h-1zM77 21h2v1h-2zM79 22h1v1h-1zM4 23h1v1h-1zM76 23h1v1h-1zM79 23h1v1h-1zM4 24h1v1h-1zM75 24h1v1h-1zM4 25h1v1h-1zM71 25h1v1h-1zM4 26h1v1h-1zM65 26h1v1h-1zM4 27h1v1h-1zM66 27h1v1h-1zM81 27h1v1h-1zM66 28h1v1h-1zM81 28h1v1h-1zM66 29h1v1h-1zM81 29h1v1h-1zM66 30h1v1h-1zM81 30h1v1h-1zM66 31h1v1h-1zM81 31h1v1h-1zM66 32h1v1h-1zM81 32h1v1h-1zM67 34h1v1h-1zM67 35h1v1h-1zM67 36h1v1h-1zM66 37h1v1h-1zM66 38h1v1h-1zM65 39h1v1h-1zM64 40h1v1h-1zM81 40h1v1h-1zM50 41h1v1h-1zM63 41h1v1h-1zM4 42h1v1h-1zM50 42h1v1h-1zM4 43h1v1h-1zM60 43h1v1h-1zM4 44h1v1h-1zM52 44h6v1h-6zM4 45h1v1h-1zM4 46h1v1h-1zM4 47h1v1h-1zM14 47h3v1h-3zM21 47h1v1h-1zM7 48h1v1h-1zM41 50h2v1h-2zM44 52h1v1h-1zM44 53h1v1h-1zM44 54h1v1h-1zM44 55h1v1h-1zM44 56h1v1h-1zM44 57h1v1h-1zM43 60h1v1h-1zM41 63h1v1h-1zM40 64h1v1h-1zM26 65h1v1h-1zM39 65h1v1h-1zM27 66h6v1h-6zM37 66h2v1h-2zM34 67h3v1h-3zM25 71h1v1h-1zM5 72h1v1h-1zM5 73h1v1h-1zM5 74h1v1h-1zM7 74h1v1h-1zM6 75h1v1h-1zM24 75h1v1h-1zM5 76h1v1h-1zM9 76h1v1h-1zM23 76h1v1h-1zM5 77h1v1h-1zM11 77h2v1h-2zM21 77h1v1h-1zM16 78h6v1h-6zM11 79h2v1h-2zM22 79h2v1h-2zM27 81h6v1h-6zM40 81h1v1h-1z"/>
<path fill="#70ff8f" d="M53 4h4v1h-4zM62 6h1v1h-1zM64 8h1v1h-1zM65 9h1v1h-1zM66 10h1v1h-1zM66 11h1v1h-1zM66 12h2v1h-2zM50 14h1v1h-1zM68 14h1v1h-1zM50 15h1v1h-1zM68 15h1v1h-1zM66 16h3v1h-3zM66 17h3v1h-3zM66 18h3v1h-3zM66 19h3v1h-3zM66 20h3v1h-3zM50 21h1v1h-1zM65 21h3v1h-3zM65 22h3v1h-3zM64 23h3v1h-3zM59 25h1v1h-1zM14 50h2v1h-2zM21 50h1v1h-1zM4 53h1v1h-1zM4 54h1v1h-1zM4 55h1v1h-1zM4 56h1v1h-1zM25 59h1v1h-1zM6 62h1v1h-1zM8 64h1v1h-1zM23 64h1v1h-1zM9 65h1v1h-1zM21 65h3v1h-3zM10 66h3v1h-3zM16 66h8v1h-8zM12 67h1v1h-1zM16 67h7v1h-7zM14 68h7v1h-7z"/>
<path fill="#8fff70" d="M60 4h3v1h-3zM81 4h1v1h-1zM65 7h1v1h-1zM66 9h1v1h-1zM67 10h1v1h-1zM50 12h1v1h-1zM68 12h1v1h-1zM69 13h1v1h-1zM69 14h1v1h-1zM69 15h1v1h-1zM70 17h1v1h-1zM70 18h1v1h-1zM69 20h1v1h-1zM68 22h1v1h-1zM67 23h1v1h-1zM64 24h1v1h-1zM51 25h1v1h-1zM61 25h1v1h-1zM53 34h4v1h-4zM53 35h1v1h-1zM57 35h1v1h-1zM53 36h1v1h-1zM57 36h1v1h-1zM53 37h1v1h-1zM57 37h1v1h-1zM53 38h1v1h-1zM57 38h1v1h-1zM12 50h1v1h-1zM25 51h1v1h-1zM34 53h5v1h-5zM34 54h1v1h-1zM34 55h1v1h-1zM34 56h1v1h-1zM35 57h4v1h-4zM4 60h1v1h-1zM4 61h1v1h-1zM25 61h1v1h-1zM4 62h1v1h-1zM24 64h1v1h-1zM7 65h1v1h-1zM9 66h1v1h-1zM10 67h1v1h-1zM23 67h1v1h-1zM12 68h1v1h-1zM22 68h1v1h-1zM13 69h3v1h-3zM20 69h1v1h-1zM17 70h2v1h-2zM4 81h1v1h-1z"/>
<path fill="#9fff60" d="M63 4h3v1h-3zM80 4h1v1h-1zM64 6h1v1h-1zM66 8h1v1h-1zM67 9h1v1h-1zM50 11h1v1h-1zM68 11h1v1h-1zM69 12h1v1h-1zM70 14h1v1h-1zM70 15h1v1h-1zM70 16h1v1h-1zM70 19h1v1h-1zM70 20h1v1h-1zM69 21h1v1h-1zM50 23h1v1h-1zM65 24h1v1h-1zM62 25h1v1h-1zM55 32h2v1h-2zM53 33h5v1h-5zM57 34h2v1h-2zM58 35h1v1h-1zM58 36h1v1h-1zM58 37h1v1h-1zM58 38h1v1h-1zM53 39h5v1h-5zM11 50h1v1h-1zM23 50h1v1h-1zM33 53h1v1h-1zM39 53h1v1h-1zM33 54h1v1h-1zM39 54h1v1h-1zM32 55h2v1h-2zM39 55h1v1h-1zM32 56h2v1h-2zM39 56h1v1h-1zM33 57h2v1h-2zM39 57h1v1h-1zM34 58h5v1h-5zM25 62h1v1h-1zM4 63h1v1h-1zM4 64h1v1h-1zM6 64h1v1h-1zM4 65h1v1h-1zM24 65h1v1h-1zM8 66h1v1h-1zM9 67h1v1h-1zM11 68h1v1h-1zM12 69h1v1h-1zM21 69h1v1h-1zM14 70h3v1h-3zM19 70h2v1h-2zM4 80h1v1h-1z"/>
<path fill="#cfff30" d="M72 4h5v1h-5zM59 5h2v1h-2zM66 6h1v1h-1zM68 8h1v1h-1zM81 10h1v1h-1zM70 11h1v1h-1zM81 11h1v1h-1zM49 14h1v1h-1zM49 15h1v1h-1zM72 15h1v1h-1zM49 16h1v1h-1zM49 21h1v1h-1zM69 23h1v1h-1zM81 24h1v1h-1zM58 26h1v1h-1zM59 33h1v1h-1zM60 34h1v1h-1zM14 49h3v1h-3zM21 49h1v1h-1zM26 58h1v1h-1zM5 59h1v1h-1zM33 59h1v1h-1zM5 60h1v1h-1zM34 60h1v1h-1zM6 66h1v1h-1zM8 68h1v1h-1zM23 69h1v1h-1zM11 70h1v1h-1zM4 72h1v1h-1zM15 72h1v1h-1zM4 73h1v1h-1zM4 74h1v1h-1zM4 75h1v1h-1zM4 76h1v1h-1zM10 81h2v1h-2zM24 81h1v1h-1z"/>
<path fill="#bf0000" d="M6 5h1v1h-1zM5 6h1v1h-1zM43 6h1v1h-1zM43 8h1v1h-1zM43 9h1v1h-1zM26 10h2v1h-2zM43 10h1v1h-1zM26 11h2v1h-2zM43 11h1v1h-1zM26 12h2v1h-2zM43 12h1v1h-1zM26 13h2v1h-2zM39 13h5v1h-5zM26 14h2v1h-2zM37 14h6v1h-6zM26 15h2v1h-2zM35 15h8v1h-8zM26 16h17v1h-17zM26 17h17v1h-17zM26 18h17v1h-17zM26 19h17v1h-17zM26 20h17v1h-17zM26 21h2v1h-2zM42 21h1v1h-1zM43 22h1v1h-1zM43 23h1v1h-1zM43 24h2v1h-2zM10 26h12v1h-12zM10 27h12v1h-12zM45 27h1v1h-1zM16 28h5v1h-5zM45 28h1v1h-1zM16 29h5v1h-5zM45 29h1v1h-1zM16 30h5v1h-5zM45 30h1v1h-1zM16 31h5v1h-5zM45 31h1v1h-1zM16 32h5v1h-5zM45 32h1v1h-1zM16 33h5v1h-5zM45 33h1v1h-1zM16 34h5v1h-5zM45 34h1v1h-1zM15 35h6v1h-6zM45 35h1v1h-1zM15 36h6v1h-6zM45 36h1v1h-1zM14 37h7v1h-7zM45 37h1v1h-1zM14 38h7v1h-7zM45 38h1v1h-1zM13 39h8v1h-8zM45 39h1v1h-1zM13 40h8v1h-8zM45 40h1v1h-1zM13 41h8v1h-8zM46 41h1v1h-1zM13 42h9v1h-9zM47 42h1v1h-1zM6 43h1v1h-1zM8 43h6v1h-6zM22 43h3v1h-3zM24 44h1v1h-1zM48 44h1v1h-1zM72 44h7v1h-7zM27 45h14v1h-14zM71 45h7v1h-7zM41 46h1v1h-1zM69 46h4v1h-4zM77 46h1v1h-1zM42 47h1v1h-1zM68 47h5v1h-5zM76 47h1v1h-1zM44 48h1v1h-1zM76 48h1v1h-1zM61 49h5v1h-5zM69 50h4v1h-4zM64 51h3v1h-3zM63 52h3v1h-3zM66 54h3v1h-3zM66 55h3v1h-3zM67 56h3v1h-3zM68 57h2v1h-2zM68 58h3v1h-3zM71 59h2v1h-2zM73 60h4v1h-4zM49 61h1v1h-1zM73 61h4v1h-4zM49 62h1v1h-1zM75 62h2v1h-2zM49 63h1v1h-1zM52 63h1v1h-1zM49 64h1v1h-1zM51 64h2v1h-2zM49 65h1v1h-1zM51 65h2v1h-2zM77 65h1v1h-1zM51 66h1v1h-1zM54 66h2v1h-2zM77 66h1v1h-1zM79 66h3v1h-3zM54 67h3v1h-3zM78 67h3v1h-3zM47 68h1v1h-1zM54 68h5v1h-5zM78 68h3v1h-3zM46 69h2v1h-2zM50 69h1v1h-1zM56 69h3v1h-3zM46 70h2v1h-2zM50 70h1v1h-1zM58 70h1v1h-1zM81 70h1v1h-1zM45 71h3v1h-3zM50 71h1v1h-1zM59 71h1v1h-1zM81 71h1v1h-1zM44 72h4v1h-4zM50 72h1v1h-1zM59 72h1v1h-1zM81 72h1v1h-1zM44 73h2v1h-2zM60 73h2v1h-2zM81 73h1v1h-1zM44 74h2v1h-2zM60 74h2v1h-2zM81 74h1v1h-1zM44 75h2v1h-2zM60 75h3v1h-3zM81 75h1v1h-1zM44 76h2v1h-2zM47 76h2v1h-2zM60 76h3v1h-3zM81 76h1v1h-1zM44 77h3v1h-3zM65 77h2v1h-2zM44 78h1v1h-1zM67 78h2v1h-2zM66 79h3v1h-3zM66 80h3v1h-3zM66 81h1v1h-1zM70 81h7v1h-7z"/>
<path fill="#ff4000" d="M8 5h5v1h-5zM47 5h1v1h-1zM47 6h1v1h-1zM5 8h1v1h-1zM46 8h1v1h-1zM5 9h1v1h-1zM46 9h1v1h-1zM5 10h1v1h-1zM5 11h1v1h-1zM5 12h1v1h-1zM47 24h1v1h-1zM74 26h1v1h-1zM79 26h1v1h-1zM74 27h3v1h-3zM74 28h3v1h-3zM74 29h3v1h-3zM74 30h3v1h-3zM74 31h3v1h-3zM74 32h2v1h-2zM75 33h1v1h-1zM75 36h1v1h-1zM75 37h1v1h-1zM80 37h1v1h-1zM74 38h2v1h-2zM80 38h1v1h-1zM73 39h1v1h-1zM80 39h1v1h-1zM71 40h3v1h-3zM69 41h2v1h-2zM67 42h3v1h-3zM64 43h2v1h-2zM50 44h1v1h-1zM62 44h1v1h-1zM60 45h1v1h-1zM81 45h1v1h-1zM8 46h2v1h-2zM52 46h7v1h-7zM5 47h2v1h-2zM24 47h1v1h-1zM44 50h1v1h-1zM78 51h1v1h-1zM46 52h1v1h-1zM77 52h1v1h-1zM79 52h1v1h-1zM81 52h1v1h-1zM46 53h1v1h-1zM77 53h1v1h-1zM79 53h1v1h-1zM46 54h1v1h-1zM77 54h1v1h-1zM79 54h1v1h-1zM46 55h1v1h-1zM46 56h1v1h-1zM46 57h1v1h-1zM78 57h1v1h-1zM46 58h1v1h-1zM45 60h1v1h-1zM44 62h1v1h-1zM43 64h1v1h-1zM43 65h1v1h-1zM42 67h1v1h-1zM42 68h1v1h-1zM41 69h2v1h-2zM41 70h1v1h-1zM40 71h1v1h-1zM40 72h1v1h-1zM39 73h2v1h-2zM26 74h7v1h-7zM38 74h1v1h-1zM27 75h7v1h-7zM36 75h3v1h-3zM27 76h5v1h-5zM52 77h3v1h-3zM51 78h1v1h-1zM57 78h1v1h-1zM26 79h1v1h-1zM52 79h3v1h-3zM37 80h3v1h-3zM45 81h1v1h-1zM52 81h1v1h-1z"/>
<path fill="#ff5000" d="M13 5h4v1h-4zM46 10h1v1h-1zM46 11h1v1h-1zM46 12h1v1h-1zM5 13h1v1h-1zM46 13h1v1h-1zM5 14h1v1h-1zM5 15h1v1h-1zM5 16h1v1h-1zM46 21h1v1h-1zM46 22h1v1h-1zM48 25h1v1h-1zM77 25h2v1h-2zM72 26h2v1h-2zM72 27h2v1h-2zM80 27h1v1h-1zM72 28h2v1h-2zM80 28h1v1h-1zM72 29h2v1h-2zM80 29h1v1h-1zM72 30h2v1h-2zM80 30h1v1h-1zM72 31h2v1h-2zM80 31h1v1h-1zM73 32h1v1h-1zM80 32h1v1h-1zM73 33h2v1h-2zM80 33h1v1h-1zM74 34h2v1h-2zM80 34h1v1h-1zM74 35h2v1h-2zM80 35h1v1h-1zM73 36h2v1h-2zM80 36h1v1h-1zM73 37h2v1h-2zM72 38h2v1h-2zM71 39h2v1h-2zM69 40h2v1h-2zM49 41h1v1h-1zM67 41h2v1h-2zM65 42h2v1h-2zM63 43h1v1h-1zM61 44h1v1h-1zM81 44h1v1h-1zM51 45h1v1h-1zM10 46h4v1h-4zM21 46h2v1h-2zM25 48h1v1h-1zM41 49h1v1h-1zM45 51h1v1h-1zM78 56h1v1h-1zM44 61h1v1h-1zM43 63h1v1h-1zM42 65h1v1h-1zM42 66h1v1h-1zM41 67h1v1h-1zM41 68h1v1h-1zM40 69h1v1h-1zM40 70h1v1h-1zM39 71h1v1h-1zM26 72h6v1h-6zM38 72h2v1h-2zM26 73h8v1h-8zM36 73h3v1h-3zM33 74h5v1h-5zM34 75h2v1h-2zM25 77h1v1h-1zM25 78h1v1h-1zM56 78h1v1h-1zM27 80h10v1h-10zM44 81h1v1h-1z"/>
<path fill="#ff3000" d="M17 5h6v1h-6zM5 17h1v1h-1zM5 18h1v1h-1zM5 19h1v1h-1zM5 20h1v1h-1zM5 21h1v1h-1zM5 22h1v1h-1zM46 23h1v1h-1zM75 26h1v1h-1zM48 27h1v1h-1zM77 27h1v1h-1zM48 28h1v1h-1zM48 29h1v1h-1zM48 30h1v1h-1zM48 31h1v1h-1zM48 32h1v1h-1zM76 32h1v1h-1zM48 33h1v1h-1zM76 33h1v1h-1zM48 34h1v1h-1zM76 34h1v1h-1zM48 35h1v1h-1zM76 35h1v1h-1zM48 36h1v1h-1zM76 36h1v1h-1zM48 37h1v1h-1zM48 38h1v1h-1zM48 39h1v1h-1zM74 39h2v1h-2zM48 40h1v1h-1zM74 40h1v1h-1zM80 40h1v1h-1zM71 41h1v1h-1zM49 42h1v1h-1zM61 45h1v1h-1zM23 46h1v1h-1zM59 46h1v1h-1zM81 46h1v1h-1zM27 48h14v1h-14zM42 49h1v1h-1zM81 51h1v1h-1zM81 53h1v1h-1zM81 54h1v1h-1zM77 55h1v1h-1zM79 55h1v1h-1zM46 59h1v1h-1zM45 61h1v1h-1zM41 71h1v1h-1zM39 74h2v1h-2zM26 75h1v1h-1zM39 75h1v1h-1zM32 76h5v1h-5zM27 77h1v1h-1zM55 77h1v1h-1zM55 79h1v1h-1zM40 80h1v1h-1zM46 81h1v1h-1zM51 81h1v1h-1zM53 81h2v1h-2z"/>
<path fill="#df0000" d="M23 5h1v1h-1zM44 8h1v1h-1zM44 9h1v1h-1zM44 10h1v1h-1zM44 11h1v1h-1zM44 12h1v1h-1zM44 13h1v1h-1zM44 22h1v1h-1zM5 23h1v1h-1zM44 23h1v1h-1zM45 24h1v1h-1zM46 25h1v1h-1zM47 26h1v1h-1zM46 27h1v1h-1zM46 28h1v1h-1zM46 29h1v1h-1zM46 30h1v1h-1zM46 31h1v1h-1zM46 32h1v1h-1zM46 33h1v1h-1zM46 34h1v1h-1zM46 35h1v1h-1zM46 36h1v1h-1zM46 37h1v1h-1zM46 38h1v1h-1zM46 39h1v1h-1zM46 40h1v1h-1zM47 41h1v1h-1zM77 41h3v1h-3zM48 42h1v1h-1zM73 43h7v1h-7zM8 44h6v1h-6zM22 44h2v1h-2zM68 44h4v1h-4zM79 44h1v1h-1zM24 45h1v1h-1zM67 45h4v1h-4zM79 45h1v1h-1zM25 46h1v1h-1zM27 46h14v1h-14zM66 46h3v1h-3zM78 46h1v1h-1zM26 47h1v1h-1zM41 47h1v1h-1zM64 47h4v1h-4zM77 47h1v1h-1zM42 48h1v1h-1zM51 48h1v1h-1zM60 48h3v1h-3zM77 48h1v1h-1zM73 50h3v1h-3zM48 51h1v1h-1zM67 51h4v1h-4zM69 52h4v1h-4zM69 53h4v1h-4zM69 54h4v1h-4zM70 55h3v1h-3zM70 56h4v1h-4zM74 57h1v1h-1zM75 58h2v1h-2zM48 60h1v1h-1zM77 60h1v1h-1zM80 60h1v1h-1zM48 61h1v1h-1zM77 61h1v1h-1zM79 61h3v1h-3zM48 62h1v1h-1zM77 62h1v1h-1zM79 62h1v1h-1zM81 62h1v1h-1zM47 64h1v1h-1zM78 64h1v1h-1zM47 65h1v1h-1zM78 65h1v1h-1zM46 66h2v1h-2zM45 67h3v1h-3zM51 67h1v1h-1zM44 68h3v1h-3zM51 68h1v1h-1zM44 69h2v1h-2zM51 69h4v1h-4zM44 70h2v1h-2zM51 70h6v1h-6zM44 71h1v1h-1zM52 71h5v1h-5zM52 72h5v1h-5zM43 73h1v1h-1zM50 73h1v1h-1zM56 73h1v1h-1zM43 74h1v1h-1zM50 74h1v1h-1zM57 74h1v1h-1zM43 75h1v1h-1zM50 75h1v1h-1zM58 75h1v1h-1zM43 76h1v1h-1zM58 76h1v1h-1zM41 77h1v1h-1zM43 77h1v1h-1zM47 77h2v1h-2zM60 77h3v1h-3zM41 78h1v1h-1zM43 78h1v1h-1zM46 78h1v1h-1zM64 78h2v1h-2zM41 79h1v1h-1zM43 79h3v1h-3zM61 79h2v1h-2zM60 80h2v1h-2zM61 81h2v1h-2z"/>
<path fill="#ef0000" d="M24 5h3v1h-3zM45 6h1v1h-1zM44 14h1v1h-1zM44 15h1v1h-1zM44 16h1v1h-1zM44 17h1v1h-1zM44 18h1v1h-1zM44 19h1v1h-1zM44 20h1v1h-1zM44 21h1v1h-1zM5 24h1v1h-1zM5 25h1v1h-1zM5 26h1v1h-1zM76 41h1v1h-1zM14 44h8v1h-8zM49 44h1v1h-1zM6 45h1v1h-1zM50 46h1v1h-1zM79 46h1v1h-1zM78 47h1v1h-1zM52 48h4v1h-4zM44 49h1v1h-1zM77 49h1v1h-1zM46 50h1v1h-1zM76 50h1v1h-1zM71 51h5v1h-5zM48 52h1v1h-1zM48 53h1v1h-1zM48 54h1v1h-1zM48 55h1v1h-1zM73 55h3v1h-3zM74 56h2v1h-2zM75 57h2v1h-2zM77 59h1v1h-1zM80 59h1v1h-1zM79 60h1v1h-1zM81 60h1v1h-1zM78 61h1v1h-1zM78 62h1v1h-1zM78 63h1v1h-1zM51 71h1v1h-1zM51 72h1v1h-1zM51 73h1v1h-1zM55 73h1v1h-1zM51 74h1v1h-1zM55 74h2v1h-2zM51 75h1v1h-1zM55 75h3v1h-3zM41 76h1v1h-1zM50 76h1v1h-1zM57 76h1v1h-1zM49 77h1v1h-1zM59 77h1v1h-1zM47 78h1v1h-1zM61 78h3v1h-3zM46 79h1v1h-1zM60 79h1v1h-1zM59 80h1v1h-1zM60 81h1v1h-1z"/>
<path fill="#ff1000" d="M46 5h1v1h-1zM46 6h1v1h-1zM45 9h1v1h-1zM45 22h1v1h-1zM46 24h1v1h-1zM47 25h1v1h-1zM77 26h2v1h-2zM78 28h1v1h-1zM78 29h1v1h-1zM77 30h2v1h-2zM77 32h2v1h-2zM77 33h2v1h-2zM77 34h2v1h-2zM77 36h3v1h-3zM77 37h3v1h-3zM76 39h1v1h-1zM76 40h2v1h-2zM48 41h1v1h-1zM74 41h1v1h-1zM49 43h1v1h-1zM9 45h1v1h-1zM22 45h1v1h-1zM5 46h2v1h-2zM24 46h1v1h-1zM60 46h3v1h-3zM25 47h1v1h-1zM41 48h1v1h-1zM43 49h1v1h-1zM76 52h1v1h-1zM76 53h1v1h-1zM76 54h1v1h-1zM76 55h1v1h-1zM80 56h1v1h-1zM77 57h1v1h-1zM79 57h1v1h-1zM81 57h1v1h-1zM78 59h1v1h-1zM46 60h1v1h-1zM46 61h1v1h-1zM46 62h1v1h-1zM41 74h1v1h-1zM39 76h2v1h-2zM52 76h4v1h-4zM26 77h1v1h-1zM30 77h1v1h-1zM32 77h3v1h-3zM36 77h2v1h-2zM40 77h1v1h-1zM57 77h1v1h-1zM26 78h1v1h-1zM28 78h3v1h-3zM32 78h3v1h-3zM36 78h2v1h-2zM59 78h1v1h-1zM36 79h2v1h-2zM57 79h1v1h-1zM56 80h1v1h-1zM57 81h1v1h-1z"/>
<path fill="#dfff20" d="M61 5h1v1h-1zM68 7h1v1h-1zM81 8h1v1h-1zM69 9h1v1h-1zM81 9h1v1h-1zM70 10h1v1h-1zM49 12h1v1h-1zM71 12h1v1h-1zM49 13h1v1h-1zM72 13h1v1h-1zM72 14h1v1h-1zM73 16h1v1h-1zM73 17h1v1h-1zM73 18h1v1h-1zM73 19h1v1h-1zM73 20h1v1h-1zM72 21h1v1h-1zM49 22h1v1h-1zM71 22h1v1h-1zM70 23h1v1h-1zM68 24h1v1h-1zM65 25h1v1h-1zM81 25h1v1h-1zM59 26h2v1h-2zM59 27h1v1h-1zM59 28h1v1h-1zM59 29h1v1h-1zM59 30h1v1h-1zM59 31h1v1h-1zM59 32h1v1h-1zM51 33h1v1h-1zM60 33h1v1h-1zM51 34h1v1h-1zM51 35h1v1h-1zM61 35h1v1h-1zM51 36h1v1h-1zM51 37h1v1h-1zM51 38h1v1h-1zM51 39h1v1h-1zM60 39h1v1h-1zM59 40h1v1h-1zM52 41h7v1h-7zM54 42h3v1h-3zM12 49h2v1h-2zM22 49h1v1h-1zM33 51h7v1h-7zM41 52h1v1h-1zM41 53h1v1h-1zM41 54h2v1h-2zM41 55h2v1h-2zM41 56h2v1h-2zM41 57h1v1h-1zM41 58h1v1h-1zM26 59h7v1h-7zM40 59h1v1h-1zM26 60h1v1h-1zM33 60h1v1h-1zM39 60h1v1h-1zM5 61h1v1h-1zM35 61h1v1h-1zM25 65h1v1h-1zM7 68h1v1h-1zM24 68h1v1h-1zM9 69h1v1h-1zM10 70h1v1h-1zM23 70h1v1h-1zM12 71h1v1h-1zM22 71h1v1h-1zM13 72h2v1h-2zM21 72h1v1h-1zM16 73h5v1h-5zM8 81h2v1h-2zM25 81h1v1h-1z"/>
<path fill="#ffcf00" d="M67 5h1v1h-1zM70 6h1v1h-1zM71 7h1v1h-1zM72 8h1v1h-1zM80 8h1v1h-1zM73 9h1v1h-1zM80 9h1v1h-1zM74 10h1v1h-1zM48 11h1v1h-1zM75 11h1v1h-1zM48 12h1v1h-1zM76 12h1v1h-1zM76 22h1v1h-1zM74 23h1v1h-1zM63 26h1v1h-1zM64 32h1v1h-1zM64 33h1v1h-1zM50 34h1v1h-1zM64 34h1v1h-1zM50 35h1v1h-1zM50 36h1v1h-1zM64 36h1v1h-1zM50 37h1v1h-1zM64 37h1v1h-1zM50 38h1v1h-1zM50 39h1v1h-1zM61 40h1v1h-1zM61 41h1v1h-1zM57 43h2v1h-2zM11 48h2v1h-2zM34 50h6v1h-6zM43 57h1v1h-1zM43 58h1v1h-1zM40 61h2v1h-2zM26 63h1v1h-1zM32 64h3v1h-3zM36 64h2v1h-2zM5 67h1v1h-1zM6 70h1v1h-1zM7 71h1v1h-1zM8 72h1v1h-1zM9 73h1v1h-1zM10 74h1v1h-1zM23 74h1v1h-1zM11 75h1v1h-1zM12 76h1v1h-1zM22 76h1v1h-1zM8 80h2v1h-2z"/>
<path fill="#ff8f00" d="M75 5h1v1h-1zM76 6h1v1h-1zM79 6h1v1h-1zM75 7h1v1h-1zM76 8h1v1h-1zM79 8h1v1h-1zM77 9h1v1h-1zM79 9h1v1h-1zM47 10h1v1h-1zM77 10h1v1h-1zM79 10h1v1h-1zM47 11h1v1h-1zM47 12h1v1h-1zM47 13h1v1h-1zM78 13h1v1h-1zM78 14h1v1h-1zM78 15h1v1h-1zM47 22h1v1h-1zM77 22h2v1h-2zM77 23h2v1h-2zM48 24h1v1h-1zM76 24h1v1h-1zM79 24h1v1h-1zM72 25h2v1h-2zM80 26h1v1h-1zM67 27h1v1h-1zM67 28h1v1h-1zM67 29h1v1h-1zM67 30h1v1h-1zM67 31h1v1h-1zM67 32h1v1h-1zM67 33h2v1h-2zM68 34h1v1h-1zM68 35h1v1h-1zM68 36h1v1h-1zM67 37h1v1h-1zM67 38h1v1h-1zM66 39h1v1h-1zM65 40h1v1h-1zM81 41h1v1h-1zM63 42h1v1h-1zM61 43h1v1h-1zM58 44h2v1h-2zM10 47h4v1h-4zM22 47h1v1h-1zM24 48h1v1h-1zM44 58h1v1h-1zM44 59h1v1h-1zM43 61h1v1h-1zM42 63h1v1h-1zM40 65h1v1h-1zM39 66h1v1h-1zM27 67h7v1h-7zM37 67h2v1h-2zM33 68h4v1h-4zM25 72h1v1h-1zM25 73h1v1h-1zM5 75h1v1h-1zM7 75h1v1h-1zM6 76h1v1h-1zM8 76h1v1h-1zM24 76h1v1h-1zM9 77h2v1h-2zM22 77h2v1h-2zM13 78h3v1h-3zM22 78h2v1h-2zM6 79h1v1h-1zM8 79h3v1h-3zM24 79h1v1h-1zM26 80h1v1h-1zM41 81h1v1h-1z"/>
<path fill="#8f0000" d="M7 6h1v1h-1zM23 6h1v1h-1zM6 7h1v1h-1zM9 7h13v1h-13zM23 7h20v1h-20zM23 8h3v1h-3zM41 8h2v1h-2zM7 9h1v1h-1zM23 9h1v1h-1zM7 10h1v1h-1zM23 10h1v1h-1zM7 11h1v1h-1zM23 11h1v1h-1zM7 12h1v1h-1zM23 12h1v1h-1zM7 13h1v1h-1zM23 13h1v1h-1zM7 14h1v1h-1zM23 14h1v1h-1zM7 15h1v1h-1zM23 15h1v1h-1zM7 16h1v1h-1zM23 16h1v1h-1zM7 17h1v1h-1zM23 17h1v1h-1zM7 18h1v1h-1zM23 18h1v1h-1zM7 19h1v1h-1zM23 19h1v1h-1zM7 20h1v1h-1zM23 20h1v1h-1zM7 21h1v1h-1zM24 21h2v1h-2zM25 22h1v1h-1zM6 23h15v1h-15zM7 24h2v1h-2zM21 24h1v1h-1zM7 25h2v1h-2zM21 25h2v1h-2zM26 25h18v1h-18zM7 26h1v1h-1zM25 26h1v1h-1zM7 27h1v1h-1zM25 27h1v1h-1zM44 27h1v1h-1zM7 28h1v1h-1zM25 28h1v1h-1zM44 28h1v1h-1zM7 29h1v1h-1zM25 29h1v1h-1zM44 29h1v1h-1zM7 30h1v1h-1zM25 30h1v1h-1zM44 30h1v1h-1zM7 31h1v1h-1zM25 31h1v1h-1zM44 31h1v1h-1zM7 32h1v1h-1zM25 32h1v1h-1zM44 32h1v1h-1zM7 33h1v1h-1zM25 33h1v1h-1zM44 33h1v1h-1zM7 34h1v1h-1zM25 34h1v1h-1zM44 34h1v1h-1zM7 35h1v1h-1zM25 35h1v1h-1zM44 35h1v1h-1zM7 36h1v1h-1zM25 36h1v1h-1zM44 36h1v1h-1zM7 37h1v1h-1zM25 37h1v1h-1zM44 37h1v1h-1zM7 38h1v1h-1zM25 38h1v1h-1zM44 38h1v1h-1zM7 39h1v1h-1zM25 39h1v1h-1zM44 39h1v1h-1zM7 40h1v1h-1zM25 40h1v1h-1zM44 40h1v1h-1zM7 41h2v1h-2zM25 41h1v1h-1zM7 42h2v1h-2zM25 42h1v1h-1zM25 43h1v1h-1zM27 44h14v1h-14zM58 51h3v1h-3zM60 52h1v1h-1zM60 53h1v1h-1zM60 54h3v1h-3zM62 55h1v1h-1zM62 56h2v1h-2zM51 58h1v1h-1zM64 58h1v1h-1zM51 59h1v1h-1zM65 59h2v1h-2zM51 60h4v1h-4zM67 60h3v1h-3zM54 61h1v1h-1zM69 61h1v1h-1zM54 62h3v1h-3zM69 62h3v1h-3zM56 63h1v1h-1zM71 63h1v1h-1zM58 64h1v1h-1zM71 64h3v1h-3zM59 65h1v1h-1zM59 66h1v1h-1zM74 66h3v1h-3zM60 67h1v1h-1zM76 67h1v1h-1zM60 68h1v1h-1zM76 68h1v1h-1zM60 69h3v1h-3zM62 70h1v1h-1zM77 70h1v1h-1zM62 71h3v1h-3zM77 71h1v1h-1zM64 72h1v1h-1zM77 72h1v1h-1zM64 73h1v1h-1zM77 73h1v1h-1zM66 74h1v1h-1zM77 74h1v1h-1zM66 75h1v1h-1zM78 75h1v1h-1zM66 76h3v1h-3zM70 77h5v1h-5zM75 78h1v1h-1zM81 79h1v1h-1zM79 81h1v1h-1z"/>
<path fill="#9f0000" d="M8 6h6v1h-6zM24 6h13v1h-13zM6 8h1v1h-1zM26 8h15v1h-15zM6 9h1v1h-1zM24 9h2v1h-2zM29 9h14v1h-14zM6 10h1v1h-1zM24 10h2v1h-2zM6 11h1v1h-1zM24 11h2v1h-2zM6 12h1v1h-1zM24 12h2v1h-2zM6 13h1v1h-1zM24 13h2v1h-2zM24 14h2v1h-2zM24 15h2v1h-2zM24 16h2v1h-2zM24 17h2v1h-2zM24 18h2v1h-2zM24 19h2v1h-2zM24 20h2v1h-2zM26 23h17v1h-17zM6 24h1v1h-1zM9 24h12v1h-12zM26 24h17v1h-17zM6 25h1v1h-1zM9 25h12v1h-12zM6 26h1v1h-1zM8 26h1v1h-1zM23 26h2v1h-2zM6 27h1v1h-1zM8 27h1v1h-1zM23 27h2v1h-2zM6 28h1v1h-1zM8 28h1v1h-1zM23 28h2v1h-2zM6 29h1v1h-1zM8 29h2v1h-2zM23 29h2v1h-2zM6 30h1v1h-1zM8 30h2v1h-2zM23 30h2v1h-2zM6 31h1v1h-1zM8 31h2v1h-2zM23 31h2v1h-2zM6 32h1v1h-1zM8 32h2v1h-2zM23 32h2v1h-2zM6 33h1v1h-1zM8 33h2v1h-2zM23 33h2v1h-2zM6 34h1v1h-1zM8 34h2v1h-2zM23 34h2v1h-2zM6 35h1v1h-1zM8 35h2v1h-2zM23 35h2v1h-2zM6 36h1v1h-1zM8 36h2v1h-2zM23 36h2v1h-2zM8 37h2v1h-2zM23 37h2v1h-2zM8 38h2v1h-2zM23 38h2v1h-2zM8 39h2v1h-2zM23 39h2v1h-2zM8 40h2v1h-2zM23 40h2v1h-2zM9 41h1v1h-1zM23 41h2v1h-2zM45 41h1v1h-1zM9 42h1v1h-1zM23 42h2v1h-2zM46 42h1v1h-1zM41 45h1v1h-1zM42 46h1v1h-1zM73 47h3v1h-3zM50 48h1v1h-1zM48 50h1v1h-1zM54 50h5v1h-5zM61 52h2v1h-2zM61 53h2v1h-2zM50 54h1v1h-1zM50 55h1v1h-1zM63 55h1v1h-1zM50 56h1v1h-1zM50 57h1v1h-1zM64 57h1v1h-1zM50 58h1v1h-1zM65 58h3v1h-3zM67 59h1v1h-1zM52 61h2v1h-2zM70 61h2v1h-2zM52 62h2v1h-2zM55 63h1v1h-1zM72 63h2v1h-2zM57 64h1v1h-1zM58 65h1v1h-1zM74 65h3v1h-3zM58 66h1v1h-1zM58 67h2v1h-2zM77 69h1v1h-1zM61 70h1v1h-1zM61 71h1v1h-1zM63 72h1v1h-1zM47 73h1v1h-1zM63 73h1v1h-1zM47 74h1v1h-1zM65 74h1v1h-1zM47 75h1v1h-1zM65 75h1v1h-1zM65 76h1v1h-1zM79 76h2v1h-2zM69 77h1v1h-1zM81 78h1v1h-1zM76 79h1v1h-1zM76 80h1v1h-1zM78 81h1v1h-1z"/>
<path fill="#af0000" d="M14 6h9v1h-9zM37 6h6v1h-6zM43 7h1v1h-1zM26 9h3v1h-3zM28 10h15v1h-15zM28 11h15v1h-15zM28 12h15v1h-15zM28 13h11v1h-11zM6 14h1v1h-1zM28 14h9v1h-9zM6 15h1v1h-1zM28 15h7v1h-7zM6 16h1v1h-1zM6 17h1v1h-1zM6 18h1v1h-1zM6 19h1v1h-1zM6 20h1v1h-1zM6 21h1v1h-1zM28 21h14v1h-14zM6 22h1v1h-1zM26 22h17v1h-17zM44 25h2v1h-2zM9 26h1v1h-1zM22 26h1v1h-1zM46 26h1v1h-1zM9 27h1v1h-1zM22 27h1v1h-1zM9 28h7v1h-7zM21 28h2v1h-2zM10 29h6v1h-6zM21 29h2v1h-2zM10 30h6v1h-6zM21 30h2v1h-2zM10 31h6v1h-6zM21 31h2v1h-2zM10 32h6v1h-6zM21 32h2v1h-2zM10 33h6v1h-6zM21 33h2v1h-2zM10 34h6v1h-6zM21 34h2v1h-2zM10 35h5v1h-5zM21 35h2v1h-2zM10 36h5v1h-5zM21 36h2v1h-2zM6 37h1v1h-1zM10 37h4v1h-4zM21 37h2v1h-2zM6 38h1v1h-1zM10 38h4v1h-4zM21 38h2v1h-2zM6 39h1v1h-1zM10 39h3v1h-3zM21 39h2v1h-2zM6 40h1v1h-1zM10 40h3v1h-3zM21 40h2v1h-2zM6 41h1v1h-1zM10 41h3v1h-3zM21 41h2v1h-2zM6 42h1v1h-1zM10 42h3v1h-3zM22 42h1v1h-1zM7 43h1v1h-1zM47 43h1v1h-1zM25 44h1v1h-1zM25 45h1v1h-1zM26 46h1v1h-1zM49 46h1v1h-1zM73 46h4v1h-4zM43 47h1v1h-1zM67 48h9v1h-9zM46 49h1v1h-1zM51 49h1v1h-1zM66 49h10v1h-10zM59 50h10v1h-10zM49 51h1v1h-1zM61 51h3v1h-3zM63 53h3v1h-3zM63 54h3v1h-3zM64 55h2v1h-2zM64 56h3v1h-3zM65 57h3v1h-3zM50 59h1v1h-1zM68 59h3v1h-3zM50 60h1v1h-1zM70 60h3v1h-3zM50 61h2v1h-2zM72 61h1v1h-1zM50 62h2v1h-2zM72 62h3v1h-3zM50 63h2v1h-2zM53 63h2v1h-2zM74 63h3v1h-3zM50 64h1v1h-1zM53 64h4v1h-4zM74 64h3v1h-3zM50 65h1v1h-1zM53 65h5v1h-5zM49 66h2v1h-2zM56 66h2v1h-2zM48 67h3v1h-3zM57 67h1v1h-1zM77 67h1v1h-1zM48 68h3v1h-3zM59 68h1v1h-1zM77 68h1v1h-1zM48 69h2v1h-2zM59 69h1v1h-1zM78 69h3v1h-3zM48 70h2v1h-2zM59 70h2v1h-2zM78 70h3v1h-3zM48 71h2v1h-2zM60 71h1v1h-1zM78 71h3v1h-3zM48 72h2v1h-2zM60 72h3v1h-3zM78 72h3v1h-3zM46 73h1v1h-1zM48 73h2v1h-2zM62 73h1v1h-1zM78 73h3v1h-3zM46 74h1v1h-1zM48 74h2v1h-2zM62 74h3v1h-3zM78 74h3v1h-3zM46 75h1v1h-1zM48 75h2v1h-2zM63 75h2v1h-2zM79 75h2v1h-2zM46 76h1v1h-1zM63 76h2v1h-2zM67 77h2v1h-2zM81 77h1v1h-1zM69 78h6v1h-6zM69 79h7v1h-7zM69 80h7v1h-7zM77 81h1v1h-1z"/>
<path fill="#cf0000" d="M44 6h1v1h-1zM44 7h1v1h-1zM43 14h1v1h-1zM43 15h1v1h-1zM43 16h1v1h-1zM43 17h1v1h-1zM43 18h1v1h-1zM43 19h1v1h-1zM43 20h1v1h-1zM43 21h1v1h-1zM14 43h8v1h-8zM48 43h1v1h-1zM6 44h2v1h-2zM49 45h1v1h-1zM78 45h1v1h-1zM50 47h1v1h-1zM43 48h1v1h-1zM63 48h4v1h-4zM45 49h1v1h-1zM52 49h9v1h-9zM76 49h1v1h-1zM47 50h1v1h-1zM49 52h1v1h-1zM66 52h3v1h-3zM49 53h1v1h-1zM66 53h3v1h-3zM49 54h1v1h-1zM49 55h1v1h-1zM69 55h1v1h-1zM49 56h1v1h-1zM49 57h1v1h-1zM70 57h4v1h-4zM49 58h1v1h-1zM71 58h4v1h-4zM49 59h1v1h-1zM73 59h4v1h-4zM49 60h1v1h-1zM80 62h1v1h-1zM48 63h1v1h-1zM77 63h1v1h-1zM79 63h3v1h-3zM48 64h1v1h-1zM77 64h1v1h-1zM79 64h3v1h-3zM48 65h1v1h-1zM79 65h3v1h-3zM48 66h1v1h-1zM52 66h2v1h-2zM78 66h1v1h-1zM52 67h2v1h-2zM81 67h1v1h-1zM52 68h2v1h-2zM81 68h1v1h-1zM55 69h1v1h-1zM81 69h1v1h-1zM57 70h1v1h-1zM57 71h2v1h-2zM57 72h2v1h-2zM57 73h3v1h-3zM58 74h2v1h-2zM59 75h1v1h-1zM49 76h1v1h-1zM59 76h1v1h-1zM63 77h2v1h-2zM45 78h1v1h-1zM66 78h1v1h-1zM63 79h3v1h-3zM62 80h4v1h-4zM63 81h3v1h-3zM67 81h3v1h-3z"/>
<path fill="#40ffbf" d="M52 6h1v1h-1zM58 6h2v1h-2zM60 7h1v1h-1zM51 8h1v1h-1zM61 8h1v1h-1zM62 9h1v1h-1zM62 10h1v1h-1zM63 12h1v1h-1zM63 13h1v1h-1zM63 14h1v1h-1zM63 15h1v1h-1zM63 16h1v1h-1zM63 17h1v1h-1zM63 18h1v1h-1zM63 19h1v1h-1zM63 20h1v1h-1zM63 21h1v1h-1zM62 23h1v1h-1zM61 24h1v1h-1zM8 51h1v1h-1zM6 52h1v1h-1zM6 58h1v1h-1zM6 59h1v1h-1zM7 60h1v1h-1zM8 61h1v1h-1zM24 61h1v1h-1zM9 62h2v1h-2zM23 62h1v1h-1zM12 63h10v1h-10z"/>
<path fill="#60ff9f" d="M61 6h1v1h-1zM63 8h1v1h-1zM63 9h2v1h-2zM64 10h2v1h-2zM65 11h1v1h-1zM65 12h1v1h-1zM65 13h3v1h-3zM65 14h3v1h-3zM65 15h3v1h-3zM50 16h1v1h-1zM65 16h1v1h-1zM65 17h1v1h-1zM50 18h1v1h-1zM65 18h1v1h-1zM50 19h1v1h-1zM65 19h1v1h-1zM50 20h1v1h-1zM65 20h1v1h-1zM64 21h1v1h-1zM64 22h1v1h-1zM62 24h1v1h-1zM58 25h1v1h-1zM16 50h1v1h-1zM18 50h3v1h-3zM25 58h1v1h-1zM6 61h1v1h-1zM24 62h1v1h-1zM8 63h2v1h-2zM9 64h2v1h-2zM21 64h2v1h-2zM10 65h11v1h-11zM13 66h3v1h-3zM13 67h3v1h-3z"/>
<path fill="#ff2000" d="M46 7h1v1h-1zM45 10h1v1h-1zM45 11h1v1h-1zM45 12h1v1h-1zM45 13h1v1h-1zM45 14h1v1h-1zM45 15h1v1h-1zM45 16h1v1h-1zM45 17h1v1h-1zM45 18h1v1h-1zM45 19h1v1h-1zM45 20h1v1h-1zM45 21h1v1h-1zM76 26h1v1h-1zM78 27h2v1h-2zM77 28h1v1h-1zM79 28h1v1h-1zM77 29h1v1h-1zM79 29h1v1h-1zM79 30h1v1h-1zM79 31h1v1h-1zM79 32h1v1h-1zM79 33h1v1h-1zM79 34h1v1h-1zM77 35h3v1h-3zM76 37h1v1h-1zM76 38h1v1h-1zM75 40h1v1h-1zM72 41h2v1h-2zM80 41h1v1h-1zM70 42h4v1h-4zM80 42h1v1h-1zM66 43h3v1h-3zM63 44h2v1h-2zM10 45h12v1h-12zM50 45h1v1h-1zM62 45h2v1h-2zM7 46h1v1h-1zM51 46h1v1h-1zM52 47h7v1h-7zM81 47h1v1h-1zM81 48h1v1h-1zM81 49h1v1h-1zM45 50h1v1h-1zM81 50h1v1h-1zM46 51h1v1h-1zM77 51h1v1h-1zM79 51h2v1h-2zM47 52h1v1h-1zM80 52h1v1h-1zM47 53h1v1h-1zM80 53h1v1h-1zM47 54h1v1h-1zM80 54h1v1h-1zM47 55h1v1h-1zM80 55h2v1h-2zM47 56h1v1h-1zM77 56h1v1h-1zM79 56h1v1h-1zM81 56h1v1h-1zM47 57h1v1h-1zM47 58h1v1h-1zM78 58h1v1h-1zM45 62h1v1h-1zM44 63h2v1h-2zM44 64h1v1h-1zM43 66h1v1h-1zM43 67h1v1h-1zM43 68h1v1h-1zM42 70h1v1h-1zM42 71h1v1h-1zM41 72h2v1h-2zM41 73h2v1h-2zM40 75h1v1h-1zM26 76h1v1h-1zM37 76h2v1h-2zM28 77h2v1h-2zM35 77h1v1h-1zM51 77h1v1h-1zM56 77h1v1h-1zM27 78h1v1h-1zM35 78h1v1h-1zM58 78h1v1h-1zM27 79h9v1h-9zM51 79h1v1h-1zM56 79h1v1h-1zM41 80h2v1h-2zM51 80h5v1h-5zM47 81h4v1h-4zM55 81h2v1h-2z"/>
<path fill="#ff6000" d="M47 7h1v1h-1zM77 7h2v1h-2zM78 8h1v1h-1zM78 9h1v1h-1zM46 14h1v1h-1zM46 15h1v1h-1zM46 16h1v1h-1zM46 17h1v1h-1zM46 18h1v1h-1zM46 19h1v1h-1zM46 20h1v1h-1zM76 25h1v1h-1zM49 26h1v1h-1zM70 26h2v1h-2zM71 27h1v1h-1zM71 28h1v1h-1zM71 29h1v1h-1zM71 30h1v1h-1zM71 31h1v1h-1zM71 32h2v1h-2zM71 33h2v1h-2zM72 34h2v1h-2zM72 35h2v1h-2zM72 36h1v1h-1zM71 37h2v1h-2zM71 38h1v1h-1zM69 39h2v1h-2zM68 40h1v1h-1zM66 41h1v1h-1zM81 43h1v1h-1zM59 45h1v1h-1zM14 46h7v1h-7zM7 47h1v1h-1zM26 49h1v1h-1zM78 55h1v1h-1zM45 59h1v1h-1zM41 66h1v1h-1zM40 68h1v1h-1zM39 69h1v1h-1zM26 70h1v1h-1zM39 70h1v1h-1zM26 71h8v1h-8zM37 71h2v1h-2zM32 72h6v1h-6zM34 73h2v1h-2zM25 76h1v1h-1zM7 77h1v1h-1zM7 78h3v1h-3zM55 78h1v1h-1zM43 81h1v1h-1z"/>
<path fill="#ff8000" d="M76 7h1v1h-1zM79 7h1v1h-1zM47 8h1v1h-1zM77 8h1v1h-1zM47 9h1v1h-1zM78 12h1v1h-1zM74 25h1v1h-1zM66 26h2v1h-2zM68 27h1v1h-1zM68 28h1v1h-1zM68 29h1v1h-1zM68 30h1v1h-1zM68 31h1v1h-1zM68 32h2v1h-2zM69 33h1v1h-1zM49 34h1v1h-1zM69 34h1v1h-1zM49 35h1v1h-1zM69 35h2v1h-2zM49 36h1v1h-1zM69 36h1v1h-1zM49 37h1v1h-1zM68 37h2v1h-2zM49 38h1v1h-1zM68 38h1v1h-1zM49 39h1v1h-1zM67 39h1v1h-1zM66 40h1v1h-1zM64 41h1v1h-1zM51 44h1v1h-1zM8 47h2v1h-2zM34 49h6v1h-6zM44 51h1v1h-1zM41 64h1v1h-1zM26 66h1v1h-1zM40 66h1v1h-1zM26 67h1v1h-1zM39 67h1v1h-1zM27 68h6v1h-6zM37 68h2v1h-2zM32 69h6v1h-6zM35 70h1v1h-1zM25 74h1v1h-1zM7 76h1v1h-1zM8 77h1v1h-1zM12 78h1v1h-1zM7 79h1v1h-1z"/>
<path fill="#0080ff" d="M54 15h1v1h-1zM53 16h4v1h-4zM53 17h1v1h-1zM56 17h1v1h-1zM53 18h1v1h-1zM55 18h2v1h-2zM53 19h4v1h-4zM16 53h4v1h-4zM15 54h2v1h-2zM19 54h1v1h-1zM16 55h1v1h-1zM18 55h2v1h-2zM16 56h4v1h-4z"/>
</g>
<path d="M300.3 123.1V1548.2H1703.1" fill="none" stroke="#3a3a3a" stroke-width="2" stroke-opacity="0.8"/>
<path d="M300.3 123.1H1703.1V1548.2" fill="none" stroke="#3a3a3a" stroke-width="2" stroke-opacity="0.6"/>
<path d="M308.8 1548.2v-16.0M308.8 123.1v16.0M300.3 132.5h16.0M1703.1 132.5h-16.0" stroke="#262626" stroke-opacity="0.65" stroke-width="2.2" fill="none"/>
<text x="306.8" y="1629.5" font-size="52.3" text-anchor="middle">900</text>
<text x="274.5" y="157.1" font-size="52.3" text-anchor="end">900</text>
<path d="M482.0 1548.2v-16.0M482.0 123.1v16.0M300.3 308.1h16.0M1703.1 308.1h-16.0" stroke="#262626" stroke-opacity="0.65" stroke-width="2.2" fill="none"/>
<text x="480.0" y="1629.5" font-size="52.3" text-anchor="middle">1000</text>
<text x="274.5" y="332.7" font-size="52.3" text-anchor="end">1000</text>
<path d="M655.1 1548.2v-16.0M655.1 123.1v16.0M300.3 483.7h16.0M1703.1 483.7h-16.0" stroke="#262626" stroke-opacity="0.65" stroke-width="2.2" fill="none"/>
<text x="653.1" y="1629.5" font-size="52.3" text-anchor="middle">1100</text>
<text x="274.5" y="508.3" font-size="52.3" text-anchor="end">1100</text>
<path d="M828.2 1548.2v-16.0M828.2 123.1v16.0M300.3 659.3h16.0M1703.1 659.3h-16.0" stroke="#262626" stroke-opacity="0.65" stroke-width="2.2" fill="none"/>
<text x="826.2" y="1629.5" font-size="52.3" text-anchor="middle">1200</text>
<text x="274.5" y="683.9" font-size="52.3" text-anchor="end">1200</text>
<path d="M1001.4 1548.2v-16.0M1001.4 123.1v16.0M300.3 834.9h16.0M1703.1 834.9h-16.0" stroke="#262626" stroke-opacity="0.65" stroke-width="2.2" fill="none"/>
<text x="999.4" y="1629.5" font-size="52.3" text-anchor="middle">1300</text>
<text x="274.5" y="859.5" font-size="52.3" text-anchor="end">1300</text>
<path d="M1174.5 1548.2v-16.0M1174.5 123.1v16.0M300.3 1010.5h16.0M1703.1 1010.5h-16.0" stroke="#262626" stroke-opacity="0.65" stroke-width="2.2" fill="none"/>
<text x="1172.5" y="1629.5" font-size="52.3" text-anchor="middle">1400</text>
<text x="274.5" y="1035.1" font-size="52.3" text-anchor="end">1400</text>
<path d="M1347.7 1548.2v-16.0M1347.7 123.1v16.0M300.3 1186.1h16.0M1703.1 1186.1h-16.0" stroke="#262626" stroke-opacity="0.65" stroke-width="2.2" fill="none"/>
<text x="1345.7" y="1629.5" font-size="52.3" text-anchor="middle">1500</text>
<text x="274.5" y="1210.7" font-size="52.3" text-anchor="end">1500</text>
<path d="M1520.8 1548.2v-16.0M1520.8 123.1v16.0M300.3 1361.7h16.0M1703.1 1361.7h-16.0" stroke="#262626" stroke-opacity="0.65" stroke-width="2.2" fill="none"/>
<text x="1518.8" y="1629.5" font-size="52.3" text-anchor="middle">1600</text>
<text x="274.5" y="1386.3" font-size="52.3" text-anchor="end">1600</text>
<path d="M1694.0 1548.2v-16.0M1694.0 123.1v16.0M300.3 1537.3h16.0M1703.1 1537.3h-16.0" stroke="#262626" stroke-opacity="0.65" stroke-width="2.2" fill="none"/>
<text x="1692.0" y="1629.5" font-size="52.3" text-anchor="middle">1700</text>
<text x="274.5" y="1561.9" font-size="52.3" text-anchor="end">1700</text>
<text x="1061.5" y="92.2" font-size="64.0" text-anchor="middle">λ1</text>
<text transform="translate(120.0 836.5) rotate(-90)" font-size="64.0" text-anchor="middle">λ2</text>
<rect x="1808.30" y="1526.22" width="108.30" height="22.88" fill="#00008f"/>
<rect x="1808.30" y="1503.94" width="108.30" height="22.88" fill="#00009f"/>
<rect x="1808.30" y="1481.66" width="108.30" height="22.88" fill="#0000af"/>
<rect x="1808.30" y="1459.38" width="108.30" height="22.88" fill="#0000bf"/>
<rect x="1808.30" y="1437.10" width="108.30" height="22.88" fill="#0000cf"/>
<rect x="1808.30" y="1414.82" width="108.30" height="22.88" fill="#0000df"/>
<rect x="1808.30" y="1392.54" width="108.30" height="22.88" fill="#0000ef"/>
<rect x="1808.30" y="1370.26" width="108.30" height="22.88" fill="#0000ff"/>
<rect x="1808.30" y="1347.98" width="108.30" height="22.88" fill="#0010ff"/>
<rect x="1808.30" y="1325.70" width="108.30" height="22.88" fill="#0020ff"/>
<rect x="1808.30" y="1303.42" width="108.30" height="22.88" fill="#0030ff"/>
<rect x="1808.30" y="1281.14" width="108.30" height="22.88" fill="#0040ff"/>
<rect x="1808.30" y="1258.86" width="108.30" height="22.88" fill="#0050ff"/>
<rect x="1808.30" y="1236.58" width="108.30" height="22.88" fill="#0060ff"/>
<rect x="1808.30" y="1214.30" width="108.30" height="22.88" fill="#0070ff"/>
<rect x="1808.30" y="1192.03" width="108.30" height="22.88" fill="#0080ff"/>
<rect x="1808.30" y="1169.75" width="108.30" height="22.88" fill="#008fff"/>
<rect x="1808.30" y="1147.47" width="108.30" height="22.88" fill="#009fff"/>
<rect x="1808.30" y="1125.19" width="108.30" height="22.88" fill="#00afff"/>
<rect x="1808.30" y="1102.91" width="108.30" height="22.88" fill="#00bfff"/>
<rect x="1808.30" y="1080.63" width="108.30" height="22.88" fill="#00cfff"/>
<rect x="1808.30" y="1058.35" width="108.30" height="22.88" fill="#00dfff"/>
<rect x="1808.30" y="1036.07" width="108.30" height="22.88" fill="#00efff"/>
<rect x="1808.30" y="1013.79" width="108.30" height="22.88" fill="#00ffff"/>
<rect x="1808.30" y="991.51" width="108.30" height="22.88" fill="#10ffef"/>
<rect x="1808.30" y="969.23" width="108.30" height="22.88" fill="#20ffdf"/>
<rect x="1808.30" y="946.95" width="108.30" height="22.88" fill="#30ffcf"/>
<rect x="1808.30" y="924.67" width="108.30" height="22.88" fill="#40ffbf"/>
<rect x="1808.30" y="902.39" width="108.30" height="22.88" fill="#50ffaf"/>
<rect x="1808.30" y="880.11" width="108.30" height="22.88" fill="#60ff9f"/>
<rect x="1808.30" y="857.83" width="108.30" height="22.88" fill="#70ff8f"/>
<rect x="1808.30" y="835.55" width="108.30" height="22.88" fill="#80ff80"/>
<rect x="1808.30" y="813.27" width="108.30" height="22.88" fill="#8fff70"/>
<rect x="1808.30" y="790.99" width="108.30" height="22.88" fill="#9fff60"/>
<rect x="1808.30" y="768.71" width="108.30" height="22.88" fill="#afff50"/>
<rect x="1808.30" y="746.43" width="108.30" height="22.88" fill="#bfff40"/>
<rect x="1808.30" y="724.15" width="108.30" height="22.88" fill="#cfff30"/>
<rect x="1808.30" y="701.87" width="108.30" height="22.88" fill="#dfff20"/>
<rect x="1808.30" y="679.59" width="108.30" height="22.88" fill="#efff10"/>
<rect x="1808.30" y="657.31" width="108.30" height="22.88" fill="#ffff00"/>
<rect x="1808.30" y="635.03" width="108.30" height="22.88" fill="#ffef00"/>
<rect x="1808.30" y="612.75" width="108.30" height="22.88" fill="#ffdf00"/>
<rect x="1808.30" y="590.47" width="108.30" height="22.88" fill="#ffcf00"/>
<rect x="1808.30" y="568.19" width="108.30" height="22.88" fill="#ffbf00"/>
<rect x="1808.30" y="545.91" width="108.30" height="22.88" fill="#ffaf00"/>
<rect x="1808.30" y="523.63" width="108.30" height="22.88" fill="#ff9f00"/>
<rect x="1808.30" y="501.35" width="108.30" height="22.88" fill="#ff8f00"/>
<rect x="1808.30" y="479.08" width="108.30" height="22.88" fill="#ff8000"/>
<rect x="1808.30" y="456.80" width="108.30" height="22.88" fill="#ff7000"/>
<rect x="1808.30" y="434.52" width="108.30" height="22.88" fill="#ff6000"/>
<rect x="1808.30" y="412.24" width="108.30" height="22.88" fill="#ff5000"/>
<rect x="1808.30" y="389.96" width="108.30" height="22.88" fill="#ff4000"/>
<rect x="1808.30" y="367.68" width="108.30" height="22.88" fill="#ff3000"/>
<rect x="1808.30" y="345.40" width="108.30" height="22.88" fill="#ff2000"/>
<rect x="1808.30" y="323.12" width="108.30" height="22.88" fill="#ff1000"/>
<rect x="1808.30" y="300.84" width="108.30" height="22.88" fill="#ff0000"/>
<rect x="1808.30" y="278.56" width="108.30" height="22.88" fill="#ef0000"/>
<rect x="1808.30" y="256.28" width="108.30" height="22.88" fill="#df0000"/>
<rect x="1808.30" y="234.00" width="108.30" height="22.88" fill="#cf0000"/>
<rect x="1808.30" y="211.72" width="108.30" height="22.88" fill="#bf0000"/>
<rect x="1808.30" y="189.44" width="108.30" height="22.88" fill="#af0000"/>
<rect x="1808.30" y="167.16" width="108.30" height="22.88" fill="#9f0000"/>
<rect x="1808.30" y="144.88" width="108.30" height="22.88" fill="#8f0000"/>
<rect x="1808.30" y="122.60" width="108.30" height="22.88" fill="#800000"/>
<rect x="1808.30" y="122.60" width="108.30" height="1425.90" fill="none" stroke="#262626" stroke-width="1.6"/>
<text x="1934.5" y="1563.9" font-size="47.3">0</text>
<path d="M1916.6 1405.9h-16.0" stroke="#262626" stroke-opacity="0.75" stroke-width="2"/>
<text x="1934.5" y="1421.7" font-size="47.3">0.1</text>
<path d="M1916.6 1263.3h-16.0" stroke="#262626" stroke-opacity="0.75" stroke-width="2"/>
<text x="1934.5" y="1279.5" font-size="47.3">0.2</text>
<path d="M1916.6 1120.7h-16.0" stroke="#262626" stroke-opacity="0.75" stroke-width="2"/>
<text x="1934.5" y="1137.3" font-size="47.3">0.3</text>
<path d="M1916.6 978.1h-16.0" stroke="#262626" stroke-opacity="0.75" stroke-width="2"/>
<text x="1934.5" y="995.1" font-size="47.3">0.4</text>
<path d="M1916.6 835.5h-16.0" stroke="#262626" stroke-opacity="0.75" stroke-width="2"/>
<text x="1934.5" y="852.9" font-size="47.3">0.5</text>
<path d="M1916.6 693.0h-16.0" stroke="#262626" stroke-opacity="0.75" stroke-width="2"/>
<text x="1934.5" y="710.8" font-size="47.3">0.6</text>
<path d="M1916.6 550.4h-16.0" stroke="#262626" stroke-opacity="0.75" stroke-width="2"/>
<text x="1934.5" y="568.6" font-size="47.3">0.7</text>
<path d="M1916.6 407.8h-16.0" stroke="#262626" stroke-opacity="0.75" stroke-width="2"/>
<text x="1934.5" y="426.4" font-size="47.3">0.8</text>
<path d="M1916.6 265.2h-16.0" stroke="#262626" stroke-opacity="0.75" stroke-width="2"/>
<text x="1934.5" y="284.2" font-size="47.3">0.9</text>
<text x="1934.5" y="142.0" font-size="47.3">1</text>
<text class="cap" x="1040.0" y="1762.8" font-size="82.0" text-anchor="middle">(<tspan font-weight="bold">a</tspan>)</text>
<g transform="translate(270.30 1944.50) scale(17.85488 18.13659)" shape-rendering="crispEdges">
<path fill="#00008f" d="M0 0h82v1h-82zM0 1h1v1h-1zM0 2h1v1h-1zM0 3h1v1h-1zM0 4h1v1h-1zM0 5h1v1h-1zM0 6h1v1h-1zM0 7h1v1h-1zM0 8h1v1h-1zM0 9h1v1h-1zM0 10h1v1h-1zM0 11h1v1h-1zM0 12h1v1h-1zM0 13h1v1h-1zM0 14h1v1h-1zM0 15h1v1h-1zM0 16h1v1h-1zM0 17h1v1h-1zM0 18h1v1h-1zM0 19h1v1h-1zM0 20h1v1h-1zM0 21h1v1h-1zM0 22h1v1h-1zM0 23h1v1h-1zM0 24h1v1h-1zM0 25h1v1h-1zM0 26h1v1h-1zM0 27h1v1h-1zM0 28h1v1h-1zM0 29h1v1h-1zM0 30h1v1h-1zM0 31h1v1h-1zM0 32h1v1h-1zM0 33h1v1h-1zM0 34h1v1h-1zM0 35h1v1h-1zM0 36h1v1h-1zM0 37h1v1h-1zM0 38h1v1h-1zM0 39h1v1h-1zM0 40h1v1h-1zM0 41h1v1h-1zM0 42h1v1h-1zM0 43h1v1h-1zM0 44h1v1h-1zM0 45h1v1h-1zM0 46h1v1h-1zM0 47h1v1h-1zM0 48h1v1h-1zM0 49h1v1h-1zM0 50h1v1h-1zM0 51h1v1h-1zM0 52h1v1h-1zM0 53h1v1h-1zM0 54h1v1h-1zM0 55h1v1h-1zM0 56h1v1h-1zM0 57h1v1h-1zM0 58h1v1h-1zM0 59h1v1h-1zM0 60h1v1h-1zM0 61h1v1h-1zM0 62h1v1h-1zM0 63h1v1h-1zM0 64h1v1h-1zM0 65h1v1h-1zM0 66h1v1h-1zM0 67h1v1h-1zM0 68h1v1h-1zM0 69h1v1h-1zM0 70h1v1h-1zM0 71h1v1h-1zM0 72h1v1h-1zM0 73h1v1h-1zM0 74h1v1h-1zM0 75h1v1h-1zM0 76h1v1h-1zM0 77h1v1h-1zM0 78h1v1h-1zM0 79h1v1h-1zM0 80h1v1h-1zM0 81h1v1h-1z"/>
<path fill="#800000" d="M1 1h1v1h-1zM2 2h1v1h-1zM3 3h1v1h-1zM4 4h1v1h-1zM5 5h1v1h-1zM6 6h1v1h-1zM7 7h5v1h-5zM7 8h19v1h-19zM7 9h19v1h-19zM7 10h19v1h-19zM7 11h19v1h-19zM8 12h18v1h-18zM8 13h18v1h-18zM8 14h18v1h-18zM8 15h18v1h-18zM8 16h18v1h-18zM8 17h18v1h-18zM8 18h18v1h-18zM8 19h18v1h-18zM8 20h18v1h-18zM8 21h18v1h-18zM8 22h18v1h-18zM8 23h18v1h-18zM8 24h19v1h-19zM8 25h23v1h-23zM24 26h22v1h-22zM25 27h19v1h-19zM25 28h19v1h-19zM25 29h19v1h-19zM25 30h19v1h-19zM26 31h18v1h-18zM26 32h18v1h-18zM26 33h18v1h-18zM26 34h18v1h-18zM26 35h18v1h-18zM26 36h18v1h-18zM26 37h18v1h-18zM26 38h18v1h-18zM26 39h18v1h-18zM26 40h18v1h-18zM26 41h20v1h-20zM26 42h19v1h-19zM26 43h20v1h-20zM26 44h1v1h-1zM41 44h7v1h-7zM26 45h1v1h-1zM41 45h1v1h-1zM43 45h6v1h-6zM44 46h5v1h-5zM44 47h6v1h-6zM45 48h5v1h-5zM47 49h4v1h-4zM49 50h4v1h-4zM50 51h6v1h-6zM50 52h9v1h-9zM51 53h9v1h-9zM51 54h11v1h-11zM51 55h11v1h-11zM52 56h11v1h-11zM52 57h11v1h-11zM52 58h12v1h-12zM53 59h11v1h-11zM54 60h12v1h-12zM54 61h12v1h-12zM56 62h11v1h-11zM58 63h11v1h-11zM60 64h10v1h-10zM60 65h13v1h-13zM62 66h11v1h-11zM63 67h14v1h-14zM63 68h14v1h-14zM64 69h13v1h-13zM65 70h12v1h-12zM65 71h12v1h-12zM65 72h12v1h-12zM67 73h10v1h-10zM67 74h10v1h-10zM67 75h10v1h-10zM67 76h10v1h-10zM77 77h3v1h-3zM77 78h4v1h-4zM77 79h4v1h-4zM78 80h3v1h-3zM81 81h1v1h-1z"/>
<path fill="#ff0000" d="M2 1h2v1h-2zM1 2h1v1h-1zM1 3h1v1h-1zM6 4h1v1h-1zM7 5h1v1h-1zM4 6h1v1h-1zM41 6h2v1h-2zM5 7h1v1h-1zM47 7h1v1h-1zM47 8h1v1h-1zM47 9h1v1h-1zM47 10h1v1h-1zM46 12h1v1h-1zM46 13h1v1h-1zM46 14h1v1h-1zM46 15h1v1h-1zM46 16h1v1h-1zM46 17h1v1h-1zM46 18h1v1h-1zM46 19h1v1h-1zM46 20h1v1h-1zM46 21h1v1h-1zM46 22h1v1h-1zM47 23h1v1h-1zM47 24h1v1h-1zM48 25h1v1h-1zM49 26h1v1h-1zM74 26h4v1h-4zM49 27h1v1h-1zM49 28h1v1h-1zM49 29h1v1h-1zM49 30h1v1h-1zM49 31h1v1h-1zM74 31h4v1h-4zM49 32h1v1h-1zM74 32h5v1h-5zM49 33h1v1h-1zM49 34h1v1h-1zM49 35h1v1h-1zM49 36h1v1h-1zM49 37h1v1h-1zM49 38h1v1h-1zM49 39h1v1h-1zM49 40h1v1h-1zM6 41h1v1h-1zM49 41h1v1h-1zM75 41h4v1h-4zM6 42h1v1h-1zM49 42h1v1h-1zM72 42h8v1h-8zM69 43h3v1h-3zM80 43h1v1h-1zM80 44h1v1h-1zM50 45h1v1h-1zM12 46h11v1h-11zM63 46h2v1h-2zM7 47h4v1h-4zM23 47h2v1h-2zM62 47h2v1h-2zM81 47h1v1h-1zM25 48h1v1h-1zM60 48h3v1h-3zM81 48h1v1h-1zM26 49h17v1h-17zM53 49h6v1h-6zM81 49h1v1h-1zM45 50h1v1h-1zM81 50h1v1h-1zM77 51h4v1h-4zM49 53h1v1h-1zM73 53h4v1h-4zM49 54h1v1h-1zM73 54h4v1h-4zM49 55h1v1h-1zM73 55h4v1h-4zM49 56h1v1h-1zM73 56h4v1h-4zM49 57h1v1h-1zM72 57h5v1h-5zM49 58h1v1h-1zM48 60h1v1h-1zM77 60h1v1h-1zM48 61h1v1h-1zM78 61h3v1h-3zM47 62h2v1h-2zM81 62h1v1h-1zM46 63h2v1h-2zM81 63h1v1h-1zM46 64h1v1h-1zM43 69h1v1h-1zM43 70h1v1h-1zM43 71h1v1h-1zM42 72h1v1h-1zM57 72h1v1h-1zM42 73h1v1h-1zM53 73h5v1h-5zM26 74h1v1h-1zM31 74h2v1h-2zM42 74h1v1h-1zM53 74h5v1h-5zM26 75h1v1h-1zM31 75h2v1h-2zM41 75h2v1h-2zM53 75h5v1h-5zM26 76h1v1h-1zM31 76h2v1h-2zM41 76h2v1h-2zM53 76h5v1h-5zM26 77h1v1h-1zM31 77h2v1h-2zM41 77h2v1h-2zM51 77h1v1h-1zM60 77h1v1h-1zM32 78h1v1h-1zM41 78h2v1h-2zM51 78h1v1h-1zM61 78h1v1h-1zM42 79h1v1h-1zM51 79h1v1h-1zM61 79h1v1h-1zM43 80h2v1h-2zM51 80h1v1h-1zM61 80h1v1h-1zM47 81h4v1h-4zM62 81h2v1h-2z"/>
<path fill="#ffaf00" d="M4 1h1v1h-1zM4 2h1v1h-1zM1 4h2v1h-2zM8 4h2v1h-2zM22 5h2v1h-2zM30 5h9v1h-9zM68 6h1v1h-1zM67 7h2v1h-2zM4 8h1v1h-1zM69 8h1v1h-1zM80 8h1v1h-1zM4 9h1v1h-1zM69 9h1v1h-1zM80 9h1v1h-1zM69 10h1v1h-1zM80 10h1v1h-1zM69 11h1v1h-1zM80 11h1v1h-1zM69 12h1v1h-1zM49 13h1v1h-1zM49 14h1v1h-1zM70 14h1v1h-1zM49 15h1v1h-1zM70 15h1v1h-1zM49 16h1v1h-1zM49 17h1v1h-1zM71 17h1v1h-1zM49 18h1v1h-1zM71 18h1v1h-1zM49 19h1v1h-1zM71 19h1v1h-1zM49 20h1v1h-1zM71 20h1v1h-1zM49 21h1v1h-1zM71 21h1v1h-1zM5 22h1v1h-1zM49 22h1v1h-1zM70 22h1v1h-1zM5 23h1v1h-1zM69 23h1v1h-1zM80 23h1v1h-1zM68 24h1v1h-1zM80 24h1v1h-1zM66 25h1v1h-1zM63 26h1v1h-1zM81 26h1v1h-1zM63 27h1v1h-1zM63 28h1v1h-1zM63 29h1v1h-1zM5 30h1v1h-1zM63 30h1v1h-1zM5 31h1v1h-1zM63 31h1v1h-1zM5 32h1v1h-1zM50 32h1v1h-1zM63 32h1v1h-1zM5 33h1v1h-1zM50 33h1v1h-1zM63 33h1v1h-1zM5 34h1v1h-1zM50 34h1v1h-1zM5 35h1v1h-1zM50 35h1v1h-1zM64 35h1v1h-1zM5 36h1v1h-1zM50 36h1v1h-1zM64 36h1v1h-1zM5 37h1v1h-1zM50 37h1v1h-1zM64 37h1v1h-1zM5 38h1v1h-1zM50 38h1v1h-1zM64 38h1v1h-1zM64 39h1v1h-1zM62 42h1v1h-1zM51 43h1v1h-1zM61 43h1v1h-1zM59 44h1v1h-1zM53 45h6v1h-6zM13 49h10v1h-10zM32 50h7v1h-7zM43 51h1v1h-1zM45 53h1v1h-1zM45 54h1v1h-1zM45 55h1v1h-1zM45 56h1v1h-1zM45 57h1v1h-1zM45 58h1v1h-1zM44 59h1v1h-1zM43 61h1v1h-1zM42 62h1v1h-1zM26 63h8v1h-8zM35 64h5v1h-5zM25 66h1v1h-1zM7 67h1v1h-1zM6 68h2v1h-2zM24 68h1v1h-1zM8 69h5v1h-5zM23 69h1v1h-1zM14 70h2v1h-2zM22 70h1v1h-1zM17 71h5v1h-5zM8 80h4v1h-4zM23 80h2v1h-2zM26 81h1v1h-1z"/>
<path fill="#dfff20" d="M5 1h1v1h-1zM7 1h1v1h-1zM44 1h5v1h-5zM8 3h8v1h-8zM31 4h7v1h-7zM74 4h3v1h-3zM1 5h1v1h-1zM68 5h2v1h-2zM80 6h1v1h-1zM1 7h1v1h-1zM3 8h1v1h-1zM3 9h1v1h-1zM3 10h1v1h-1zM3 11h1v1h-1zM3 12h1v1h-1zM50 12h1v1h-1zM64 12h1v1h-1zM3 13h1v1h-1zM3 14h1v1h-1zM3 15h1v1h-1zM65 16h1v1h-1zM65 17h1v1h-1zM65 18h1v1h-1zM65 19h1v1h-1zM65 20h1v1h-1zM50 22h1v1h-1zM50 23h1v1h-1zM64 24h1v1h-1zM62 25h1v1h-1zM52 26h2v1h-2zM57 26h1v1h-1zM59 27h1v1h-1zM59 28h1v1h-1zM59 29h1v1h-1zM59 30h1v1h-1zM4 31h1v1h-1zM59 31h1v1h-1zM4 32h1v1h-1zM59 32h1v1h-1zM4 33h1v1h-1zM4 34h1v1h-1zM60 34h1v1h-1zM4 35h1v1h-1zM60 35h1v1h-1zM4 36h1v1h-1zM4 37h1v1h-1zM60 40h1v1h-1zM59 41h1v1h-1zM52 42h1v1h-1zM59 42h1v1h-1zM1 44h1v1h-1zM1 45h1v1h-1zM1 46h1v1h-1zM1 47h1v1h-1zM1 48h1v1h-1zM12 50h1v1h-1zM22 50h2v1h-2zM26 52h1v1h-1zM42 52h1v1h-1zM26 53h1v1h-1zM26 57h1v1h-1zM27 59h6v1h-6zM41 59h2v1h-2zM34 60h2v1h-2zM40 60h1v1h-1zM25 62h1v1h-1zM12 64h1v1h-1zM24 64h1v1h-1zM16 65h5v1h-5zM5 68h1v1h-1zM5 69h1v1h-1zM4 74h1v1h-1zM4 75h1v1h-1zM4 76h1v1h-1zM6 80h1v1h-1z"/>
<path fill="#ffff00" d="M6 1h1v1h-1zM7 3h1v1h-1zM17 4h7v1h-7zM29 4h1v1h-1zM38 4h1v1h-1zM72 5h1v1h-1zM76 5h1v1h-1zM1 6h1v1h-1zM64 6h1v1h-1zM3 7h1v1h-1zM64 7h1v1h-1zM50 8h1v1h-1zM64 8h1v1h-1zM50 9h1v1h-1zM64 9h1v1h-1zM50 10h1v1h-1zM64 10h1v1h-1zM65 12h1v1h-1zM65 13h1v1h-1zM66 14h1v1h-1zM66 15h1v1h-1zM67 16h1v1h-1zM81 16h1v1h-1zM4 17h1v1h-1zM67 17h1v1h-1zM81 17h1v1h-1zM4 18h1v1h-1zM67 18h1v1h-1zM81 18h1v1h-1zM4 19h1v1h-1zM67 19h1v1h-1zM4 20h1v1h-1zM67 20h1v1h-1zM4 21h1v1h-1zM67 21h1v1h-1zM4 22h1v1h-1zM66 22h1v1h-1zM4 23h1v1h-1zM65 23h1v1h-1zM50 24h1v1h-1zM63 25h1v1h-1zM59 26h1v1h-1zM51 27h1v1h-1zM60 27h1v1h-1zM51 28h1v1h-1zM60 28h1v1h-1zM4 29h1v1h-1zM51 29h1v1h-1zM60 29h1v1h-1zM51 30h1v1h-1zM60 30h1v1h-1zM51 31h1v1h-1zM60 31h1v1h-1zM51 32h1v1h-1zM60 32h1v1h-1zM51 33h1v1h-1zM51 34h1v1h-1zM51 35h1v1h-1zM61 35h1v1h-1zM51 36h1v1h-1zM61 36h1v1h-1zM51 37h1v1h-1zM4 38h1v1h-1zM51 38h1v1h-1zM61 40h1v1h-1zM52 41h1v1h-1zM60 41h1v1h-1zM60 42h1v1h-1zM58 43h1v1h-1zM8 50h3v1h-3zM24 50h1v1h-1zM27 51h12v1h-12zM41 52h1v1h-1zM43 58h1v1h-1zM26 59h1v1h-1zM27 60h6v1h-6zM41 60h2v1h-2zM35 61h2v1h-2zM40 61h1v1h-1zM25 63h1v1h-1zM6 64h5v1h-5zM12 65h2v1h-2zM23 65h1v1h-1zM14 66h2v1h-2zM22 66h1v1h-1zM16 67h6v1h-6zM5 72h1v1h-1zM5 76h1v1h-1zM16 81h3v1h-3z"/>
<path fill="#bfff40" d="M8 1h11v1h-11zM24 1h15v1h-15zM49 1h1v1h-1zM70 1h3v1h-3zM5 2h2v1h-2zM17 3h23v1h-23zM72 3h5v1h-5zM39 4h10v1h-10zM68 4h3v1h-3zM2 5h1v1h-1zM49 5h1v1h-1zM64 5h2v1h-2zM2 6h1v1h-1zM81 6h1v1h-1zM63 7h1v1h-1zM1 8h1v1h-1zM63 8h1v1h-1zM1 9h1v1h-1zM63 9h1v1h-1zM1 10h1v1h-1zM63 10h1v1h-1zM1 11h1v1h-1zM63 11h1v1h-1zM1 12h1v1h-1zM1 13h1v1h-1zM1 14h1v1h-1zM1 15h1v1h-1zM64 15h1v1h-1zM1 16h1v1h-1zM64 16h1v1h-1zM1 17h1v1h-1zM3 17h1v1h-1zM64 17h1v1h-1zM1 18h1v1h-1zM3 18h1v1h-1zM64 18h1v1h-1zM3 19h1v1h-1zM64 19h1v1h-1zM3 20h1v1h-1zM64 20h1v1h-1zM3 21h1v1h-1zM64 21h1v1h-1zM3 22h1v1h-1zM64 22h1v1h-1zM3 23h1v1h-1zM64 23h1v1h-1zM1 24h1v1h-1zM3 24h1v1h-1zM1 25h1v1h-1zM3 25h1v1h-1zM51 25h1v1h-1zM60 25h1v1h-1zM1 26h1v1h-1zM3 26h1v1h-1zM1 27h1v1h-1zM3 27h1v1h-1zM52 27h7v1h-7zM1 28h1v1h-1zM3 28h1v1h-1zM52 28h7v1h-7zM1 29h1v1h-1zM3 29h1v1h-1zM52 29h1v1h-1zM58 29h1v1h-1zM1 30h1v1h-1zM3 30h1v1h-1zM52 30h1v1h-1zM58 30h1v1h-1zM1 31h1v1h-1zM3 31h1v1h-1zM52 31h1v1h-1zM58 31h1v1h-1zM1 32h1v1h-1zM3 32h1v1h-1zM52 32h1v1h-1zM58 32h1v1h-1zM1 33h1v1h-1zM3 33h1v1h-1zM52 33h1v1h-1zM1 34h1v1h-1zM3 34h1v1h-1zM52 34h1v1h-1zM1 35h1v1h-1zM3 35h1v1h-1zM52 35h1v1h-1zM59 35h1v1h-1zM1 36h1v1h-1zM3 36h1v1h-1zM52 36h1v1h-1zM59 36h1v1h-1zM1 37h1v1h-1zM3 37h1v1h-1zM52 37h1v1h-1zM60 37h1v1h-1zM1 38h1v1h-1zM3 38h1v1h-1zM52 38h1v1h-1zM3 39h2v1h-2zM59 39h1v1h-1zM4 40h1v1h-1zM59 40h1v1h-1zM4 41h1v1h-1zM55 41h3v1h-3zM4 42h1v1h-1zM53 42h6v1h-6zM4 43h1v1h-1zM4 44h1v1h-1zM4 45h1v1h-1zM4 46h1v1h-1zM4 47h1v1h-1zM4 48h1v1h-1zM1 49h1v1h-1zM5 49h1v1h-1zM25 51h1v1h-1zM27 52h12v1h-12zM27 53h2v1h-2zM42 53h1v1h-1zM27 54h2v1h-2zM42 54h1v1h-1zM27 55h2v1h-2zM41 55h2v1h-2zM27 56h2v1h-2zM41 56h2v1h-2zM27 57h2v1h-2zM41 57h2v1h-2zM27 58h6v1h-6zM42 58h1v1h-1zM35 59h2v1h-2zM39 59h2v1h-2zM25 60h1v1h-1zM37 60h1v1h-1zM7 63h5v1h-5zM5 64h1v1h-1zM15 64h9v1h-9zM5 65h1v1h-1zM4 68h1v1h-1zM4 69h1v1h-1zM1 70h1v1h-1zM4 70h1v1h-1zM1 71h1v1h-1zM1 72h1v1h-1zM3 72h1v1h-1zM3 73h1v1h-1zM3 74h1v1h-1zM3 75h1v1h-1zM3 76h1v1h-1zM6 81h1v1h-1z"/>
<path fill="#afff50" d="M19 1h5v1h-5zM67 1h3v1h-3zM40 3h9v1h-9zM69 3h3v1h-3zM66 4h2v1h-2zM63 5h1v1h-1zM62 6h1v1h-1zM62 7h1v1h-1zM62 8h1v1h-1zM62 9h1v1h-1zM62 10h1v1h-1zM63 12h1v1h-1zM63 13h1v1h-1zM1 19h1v1h-1zM1 20h1v1h-1zM1 21h1v1h-1zM1 22h1v1h-1zM1 23h1v1h-1zM63 24h1v1h-1zM59 25h1v1h-1zM53 29h5v1h-5zM53 30h5v1h-5zM53 31h5v1h-5zM53 32h5v1h-5zM58 33h1v1h-1zM58 34h1v1h-1zM58 35h1v1h-1zM59 37h1v1h-1zM59 38h1v1h-1zM58 39h1v1h-1zM3 40h1v1h-1zM53 40h1v1h-1zM58 40h1v1h-1zM3 41h1v1h-1zM3 42h1v1h-1zM3 43h1v1h-1zM3 44h1v1h-1zM3 45h1v1h-1zM3 46h1v1h-1zM3 47h1v1h-1zM3 48h1v1h-1zM29 53h4v1h-4zM40 53h1v1h-1zM29 54h4v1h-4zM29 55h4v1h-4zM29 56h4v1h-4zM29 57h4v1h-4zM33 58h3v1h-3zM39 58h2v1h-2zM25 59h1v1h-1zM37 59h2v1h-2zM6 62h5v1h-5zM5 63h1v1h-1zM12 63h2v1h-2zM24 63h1v1h-1zM4 66h1v1h-1zM1 67h1v1h-1zM4 67h1v1h-1zM1 68h1v1h-1zM1 69h1v1h-1zM3 69h1v1h-1zM3 70h1v1h-1zM3 71h1v1h-1z"/>
<path fill="#cfff30" d="M39 1h5v1h-5zM73 1h4v1h-4zM16 3h1v1h-1zM71 4h3v1h-3zM66 5h2v1h-2zM50 6h1v1h-1zM63 6h1v1h-1zM50 13h1v1h-1zM64 13h1v1h-1zM50 14h1v1h-1zM64 14h1v1h-1zM50 15h1v1h-1zM3 16h1v1h-1zM50 16h1v1h-1zM50 17h1v1h-1zM50 18h1v1h-1zM50 19h1v1h-1zM50 20h1v1h-1zM50 21h1v1h-1zM65 21h1v1h-1zM61 25h1v1h-1zM54 26h3v1h-3zM59 33h1v1h-1zM59 34h1v1h-1zM60 36h1v1h-1zM60 38h1v1h-1zM1 39h1v1h-1zM52 39h1v1h-1zM60 39h1v1h-1zM1 40h1v1h-1zM52 40h1v1h-1zM1 41h1v1h-1zM53 41h2v1h-2zM58 41h1v1h-1zM1 42h1v1h-1zM1 43h1v1h-1zM6 50h1v1h-1zM13 50h9v1h-9zM39 52h2v1h-2zM41 53h1v1h-1zM26 54h1v1h-1zM41 54h1v1h-1zM26 55h1v1h-1zM26 56h1v1h-1zM41 58h1v1h-1zM33 59h2v1h-2zM36 60h1v1h-1zM38 60h2v1h-2zM25 61h1v1h-1zM6 63h1v1h-1zM13 64h2v1h-2zM21 65h1v1h-1zM5 66h1v1h-1zM5 67h1v1h-1zM4 71h1v1h-1zM4 72h1v1h-1zM1 73h1v1h-1zM4 73h1v1h-1zM1 74h1v1h-1zM1 75h1v1h-1zM1 76h1v1h-1z"/>
<path fill="#8fff70" d="M50 1h1v1h-1zM63 1h2v1h-2zM7 2h6v1h-6zM69 2h4v1h-4zM65 3h2v1h-2zM63 4h2v1h-2zM61 5h1v1h-1zM61 6h1v1h-1zM2 7h1v1h-1zM51 7h1v1h-1zM2 8h1v1h-1zM51 8h1v1h-1zM2 9h1v1h-1zM51 9h1v1h-1zM2 10h1v1h-1zM51 10h1v1h-1zM2 11h1v1h-1zM2 12h1v1h-1zM62 12h1v1h-1zM63 17h1v1h-1zM63 18h1v1h-1zM63 19h1v1h-1zM63 20h1v1h-1zM63 21h1v1h-1zM63 22h1v1h-1zM63 23h1v1h-1zM52 25h2v1h-2zM57 25h1v1h-1zM53 35h4v1h-4zM53 36h5v1h-5zM53 37h1v1h-1zM57 37h1v1h-1zM53 38h5v1h-5zM56 39h1v1h-1zM1 50h1v1h-1zM7 51h4v1h-4zM25 52h1v1h-1zM25 53h1v1h-1zM35 53h4v1h-4zM35 54h2v1h-2zM38 54h1v1h-1zM35 55h2v1h-2zM38 55h1v1h-1zM35 56h2v1h-2zM38 56h2v1h-2zM25 57h1v1h-1zM36 57h3v1h-3zM5 61h2v1h-2zM12 62h1v1h-1zM1 63h1v1h-1zM4 63h1v1h-1zM17 63h7v1h-7zM1 64h1v1h-1zM4 64h1v1h-1zM3 65h1v1h-1zM3 66h1v1h-1zM2 69h1v1h-1zM2 70h1v1h-1zM2 71h1v1h-1zM2 72h1v1h-1z"/>
<path fill="#60ff9f" d="M51 1h8v1h-8zM77 1h2v1h-2zM37 2h5v1h-5zM62 2h2v1h-2zM61 3h1v1h-1zM50 4h1v1h-1zM60 4h1v1h-1zM58 5h1v1h-1zM52 6h7v1h-7zM58 7h1v1h-1zM59 8h1v1h-1zM59 9h1v1h-1zM59 10h1v1h-1zM51 12h1v1h-1zM60 12h1v1h-1zM61 14h1v1h-1zM61 15h1v1h-1zM61 16h1v1h-1zM51 22h1v1h-1zM61 22h1v1h-1zM61 23h1v1h-1zM2 37h1v1h-1zM2 38h1v1h-1zM2 39h1v1h-1zM2 40h1v1h-1zM2 41h1v1h-1zM4 50h1v1h-1zM1 51h1v1h-1zM12 51h1v1h-1zM22 51h1v1h-1zM1 52h1v1h-1zM6 52h1v1h-1zM1 53h1v1h-1zM6 53h1v1h-1zM1 54h1v1h-1zM6 54h1v1h-1zM1 55h1v1h-1zM6 55h1v1h-1zM1 56h1v1h-1zM6 56h1v1h-1zM1 57h1v1h-1zM6 57h1v1h-1zM1 58h1v1h-1zM5 58h3v1h-3zM8 59h3v1h-3zM4 60h1v1h-1zM12 60h1v1h-1zM3 61h1v1h-1zM14 61h3v1h-3zM22 61h2v1h-2zM2 62h1v1h-1zM2 63h1v1h-1zM1 77h1v1h-1zM1 78h1v1h-1z"/>
<path fill="#70ff8f" d="M59 1h2v1h-2zM64 2h3v1h-3zM49 3h1v1h-1zM62 3h2v1h-2zM61 4h1v1h-1zM59 5h1v1h-1zM59 6h1v1h-1zM59 7h1v1h-1zM60 8h1v1h-1zM60 9h1v1h-1zM60 10h1v1h-1zM60 11h1v1h-1zM61 12h1v1h-1zM61 13h1v1h-1zM62 15h1v1h-1zM62 16h1v1h-1zM62 17h1v1h-1zM62 18h1v1h-1zM62 19h1v1h-1zM62 20h1v1h-1zM62 21h1v1h-1zM62 22h1v1h-1zM51 23h1v1h-1zM60 24h1v1h-1zM3 49h1v1h-1zM23 51h1v1h-1zM1 59h1v1h-1zM5 59h3v1h-3zM1 60h1v1h-1zM8 60h4v1h-4zM24 60h1v1h-1zM4 61h1v1h-1zM12 61h2v1h-2zM3 62h1v1h-1zM15 62h8v1h-8zM3 63h1v1h-1zM2 64h1v1h-1zM2 65h1v1h-1zM2 66h1v1h-1z"/>
<path fill="#80ff80" d="M61 1h2v1h-2zM79 1h3v1h-3zM24 2h13v1h-13zM42 2h7v1h-7zM67 2h2v1h-2zM64 3h1v1h-1zM49 4h1v1h-1zM62 4h1v1h-1zM50 5h1v1h-1zM60 5h1v1h-1zM51 6h1v1h-1zM60 6h1v1h-1zM60 7h1v1h-1zM61 8h1v1h-1zM61 9h1v1h-1zM61 10h1v1h-1zM51 11h1v1h-1zM61 11h1v1h-1zM62 13h1v1h-1zM62 14h1v1h-1zM62 23h1v1h-1zM2 24h1v1h-1zM51 24h1v1h-1zM61 24h1v1h-1zM2 25h1v1h-1zM54 25h3v1h-3zM2 26h1v1h-1zM2 27h1v1h-1zM2 28h1v1h-1zM2 29h1v1h-1zM2 30h1v1h-1zM2 31h1v1h-1zM2 32h1v1h-1zM2 33h1v1h-1zM2 34h1v1h-1zM2 35h1v1h-1zM2 36h1v1h-1zM54 37h3v1h-3zM2 42h1v1h-1zM2 43h1v1h-1zM2 44h1v1h-1zM2 45h1v1h-1zM2 46h1v1h-1zM2 47h1v1h-1zM2 48h1v1h-1zM4 49h1v1h-1zM5 50h1v1h-1zM6 51h1v1h-1zM11 51h1v1h-1zM24 51h1v1h-1zM25 54h1v1h-1zM37 54h1v1h-1zM25 55h1v1h-1zM37 55h1v1h-1zM25 56h1v1h-1zM37 56h1v1h-1zM5 60h3v1h-3zM1 61h1v1h-1zM8 61h4v1h-4zM24 61h1v1h-1zM1 62h1v1h-1zM4 62h1v1h-1zM13 62h2v1h-2zM23 62h1v1h-1zM3 64h1v1h-1zM2 67h1v1h-1zM2 68h1v1h-1zM1 79h1v1h-1zM1 80h1v1h-1zM1 81h1v1h-1z"/>
<path fill="#9fff60" d="M65 1h2v1h-2zM73 2h4v1h-4zM67 3h2v1h-2zM65 4h1v1h-1zM62 5h1v1h-1zM61 7h1v1h-1zM62 11h1v1h-1zM63 14h1v1h-1zM63 15h1v1h-1zM63 16h1v1h-1zM62 24h1v1h-1zM58 25h1v1h-1zM53 33h5v1h-5zM53 34h5v1h-5zM57 35h1v1h-1zM58 36h1v1h-1zM58 37h1v1h-1zM58 38h1v1h-1zM53 39h3v1h-3zM57 39h1v1h-1zM54 40h4v1h-4zM33 53h2v1h-2zM39 53h1v1h-1zM33 54h2v1h-2zM39 54h2v1h-2zM33 55h2v1h-2zM39 55h2v1h-2zM33 56h2v1h-2zM40 56h1v1h-1zM33 57h3v1h-3zM39 57h2v1h-2zM25 58h1v1h-1zM36 58h3v1h-3zM7 61h1v1h-1zM5 62h1v1h-1zM11 62h1v1h-1zM24 62h1v1h-1zM14 63h3v1h-3zM1 65h1v1h-1zM4 65h1v1h-1zM1 66h1v1h-1zM3 67h1v1h-1zM3 68h1v1h-1zM2 73h1v1h-1zM2 74h1v1h-1zM2 75h1v1h-1zM2 76h1v1h-1z"/>
<path fill="#ff1000" d="M3 2h1v1h-1zM2 3h1v1h-1zM43 6h1v1h-1zM47 11h1v1h-1zM47 12h1v1h-1zM47 22h1v1h-1zM73 26h1v1h-1zM73 27h5v1h-5zM73 28h6v1h-6zM73 29h6v1h-6zM74 30h5v1h-5zM78 31h1v1h-1zM74 33h5v1h-5zM74 34h5v1h-5zM75 35h4v1h-4zM76 36h3v1h-3zM76 38h3v1h-3zM75 39h4v1h-4zM74 40h5v1h-5zM73 41h2v1h-2zM6 43h1v1h-1zM65 44h2v1h-2zM64 45h1v1h-1zM81 46h1v1h-1zM11 47h2v1h-2zM22 47h1v1h-1zM51 47h1v1h-1zM52 48h1v1h-1zM47 51h1v1h-1zM48 52h1v1h-1zM77 59h1v1h-1zM80 60h1v1h-1zM45 64h1v1h-1zM44 65h1v1h-1zM44 66h1v1h-1zM26 73h4v1h-4zM41 73h1v1h-1zM27 74h4v1h-4zM33 74h2v1h-2zM40 74h2v1h-2zM27 75h4v1h-4zM33 75h3v1h-3zM39 75h2v1h-2zM27 76h4v1h-4zM33 76h4v1h-4zM38 76h3v1h-3zM27 77h4v1h-4zM33 77h4v1h-4zM38 77h3v1h-3zM59 77h1v1h-1zM28 78h4v1h-4zM33 78h4v1h-4zM38 78h3v1h-3zM60 80h1v1h-1zM46 81h1v1h-1z"/>
<path fill="#50ffaf" d="M13 2h11v1h-11zM49 2h2v1h-2zM60 2h2v1h-2zM80 2h2v1h-2zM50 3h1v1h-1zM60 3h1v1h-1zM79 3h3v1h-3zM59 4h1v1h-1zM51 5h7v1h-7zM77 5h2v1h-2zM52 7h6v1h-6zM58 8h1v1h-1zM58 9h1v1h-1zM58 10h1v1h-1zM59 11h1v1h-1zM59 12h1v1h-1zM2 13h1v1h-1zM51 13h1v1h-1zM60 13h1v1h-1zM2 14h1v1h-1zM51 14h1v1h-1zM60 14h1v1h-1zM2 15h1v1h-1zM51 15h1v1h-1zM2 16h1v1h-1zM51 16h1v1h-1zM2 17h1v1h-1zM51 17h1v1h-1zM61 17h1v1h-1zM2 18h1v1h-1zM51 18h1v1h-1zM61 18h1v1h-1zM2 19h1v1h-1zM51 19h1v1h-1zM61 19h1v1h-1zM2 20h1v1h-1zM51 20h1v1h-1zM61 20h1v1h-1zM2 21h1v1h-1zM51 21h1v1h-1zM61 21h1v1h-1zM2 22h1v1h-1zM2 23h1v1h-1zM52 24h1v1h-1zM59 24h1v1h-1zM2 49h1v1h-1zM2 50h2v1h-2zM5 51h1v1h-1zM13 51h9v1h-9zM5 52h1v1h-1zM7 52h1v1h-1zM24 52h1v1h-1zM5 53h1v1h-1zM7 53h1v1h-1zM5 54h1v1h-1zM7 54h1v1h-1zM5 55h1v1h-1zM7 55h1v1h-1zM5 56h1v1h-1zM7 56h1v1h-1zM5 57h1v1h-1zM7 57h1v1h-1zM8 58h3v1h-3zM4 59h1v1h-1zM11 59h2v1h-2zM24 59h1v1h-1zM2 60h2v1h-2zM13 60h2v1h-2zM2 61h1v1h-1zM17 61h5v1h-5zM5 77h1v1h-1zM5 78h1v1h-1zM3 79h1v1h-1zM2 80h2v1h-2zM2 81h2v1h-2z"/>
<path fill="#30ffcf" d="M51 2h6v1h-6zM77 2h3v1h-3zM51 3h7v1h-7zM77 4h1v1h-1zM81 4h1v1h-1zM52 11h5v1h-5zM57 12h1v1h-1zM58 13h1v1h-1zM59 15h1v1h-1zM59 16h1v1h-1zM59 22h1v1h-1zM52 23h1v1h-1zM59 23h1v1h-1zM2 51h2v1h-2zM2 52h2v1h-2zM11 52h1v1h-1zM23 52h1v1h-1zM2 53h2v1h-2zM11 53h1v1h-1zM2 54h2v1h-2zM11 54h1v1h-1zM2 55h2v1h-2zM11 55h1v1h-1zM2 56h2v1h-2zM11 56h1v1h-1zM3 57h1v1h-1zM12 57h1v1h-1zM13 58h1v1h-1zM15 59h2v1h-2zM22 59h2v1h-2zM2 77h1v1h-1zM4 77h1v1h-1zM2 78h1v1h-1zM2 79h1v1h-1zM4 81h1v1h-1z"/>
<path fill="#40ffbf" d="M57 2h3v1h-3zM58 3h2v1h-2zM77 3h2v1h-2zM51 4h8v1h-8zM79 5h3v1h-3zM52 8h6v1h-6zM52 9h6v1h-6zM52 10h6v1h-6zM57 11h2v1h-2zM58 12h1v1h-1zM59 13h1v1h-1zM59 14h1v1h-1zM60 15h1v1h-1zM60 16h1v1h-1zM60 17h1v1h-1zM60 18h1v1h-1zM60 19h1v1h-1zM60 20h1v1h-1zM60 21h1v1h-1zM60 22h1v1h-1zM60 23h1v1h-1zM53 24h6v1h-6zM4 51h1v1h-1zM4 52h1v1h-1zM8 52h3v1h-3zM4 53h1v1h-1zM8 53h3v1h-3zM24 53h1v1h-1zM4 54h1v1h-1zM8 54h3v1h-3zM24 54h1v1h-1zM4 55h1v1h-1zM8 55h3v1h-3zM24 55h1v1h-1zM4 56h1v1h-1zM8 56h3v1h-3zM24 56h1v1h-1zM2 57h1v1h-1zM4 57h1v1h-1zM8 57h4v1h-4zM24 57h1v1h-1zM2 58h3v1h-3zM11 58h2v1h-2zM24 58h1v1h-1zM2 59h2v1h-2zM13 59h2v1h-2zM15 60h9v1h-9zM3 77h1v1h-1zM3 78h1v1h-1zM5 79h1v1h-1zM5 80h1v1h-1zM5 81h1v1h-1z"/>
<path fill="#ff6000" d="M4 3h1v1h-1zM3 4h1v1h-1zM73 8h1v1h-1zM73 9h1v1h-1zM73 10h1v1h-1zM73 11h1v1h-1zM73 12h4v1h-4zM73 24h1v1h-1zM49 25h1v1h-1zM70 25h1v1h-1zM66 27h2v1h-2zM66 28h2v1h-2zM67 29h2v1h-2zM67 30h2v1h-2zM67 31h2v1h-2zM68 32h1v1h-1zM68 33h2v1h-2zM68 34h2v1h-2zM68 35h2v1h-2zM69 36h1v1h-1zM69 37h1v1h-1zM68 38h2v1h-2zM68 39h1v1h-1zM67 40h1v1h-1zM50 41h1v1h-1zM66 41h1v1h-1zM51 45h1v1h-1zM25 49h1v1h-1zM41 50h1v1h-1zM45 51h1v1h-1zM81 52h1v1h-1zM78 53h2v1h-2zM78 54h2v1h-2zM78 55h2v1h-2zM78 56h2v1h-2zM81 56h1v1h-1zM27 66h2v1h-2zM41 66h1v1h-1zM27 67h5v1h-5zM40 67h1v1h-1zM29 68h7v1h-7zM38 68h2v1h-2zM33 69h6v1h-6zM25 70h1v1h-1zM8 73h5v1h-5zM24 73h1v1h-1zM12 74h1v1h-1zM12 75h1v1h-1zM12 76h1v1h-1zM53 78h4v1h-4zM53 79h4v1h-4zM52 81h1v1h-1zM56 81h1v1h-1z"/>
<path fill="#ffef00" d="M5 3h1v1h-1zM16 4h1v1h-1zM28 4h1v1h-1zM3 5h1v1h-1zM47 5h1v1h-1zM73 5h1v1h-1zM78 6h2v1h-2zM50 7h1v1h-1zM81 7h1v1h-1zM65 11h1v1h-1zM66 12h1v1h-1zM81 12h1v1h-1zM66 13h1v1h-1zM81 13h1v1h-1zM81 14h1v1h-1zM67 15h1v1h-1zM81 15h1v1h-1zM4 16h1v1h-1zM68 17h1v1h-1zM68 18h1v1h-1zM68 19h1v1h-1zM81 19h1v1h-1zM68 20h1v1h-1zM81 20h1v1h-1zM81 21h1v1h-1zM67 22h1v1h-1zM81 22h1v1h-1zM66 23h1v1h-1zM51 26h1v1h-1zM60 26h1v1h-1zM4 28h1v1h-1zM61 33h1v1h-1zM61 34h1v1h-1zM62 37h1v1h-1zM62 38h1v1h-1zM51 39h1v1h-1zM62 39h1v1h-1zM51 40h1v1h-1zM52 43h1v1h-1zM5 47h1v1h-1zM7 50h1v1h-1zM26 51h1v1h-1zM39 51h2v1h-2zM43 52h1v1h-1zM26 60h1v1h-1zM33 61h2v1h-2zM37 62h3v1h-3zM11 65h1v1h-1zM12 66h2v1h-2zM23 66h1v1h-1zM15 67h1v1h-1zM22 67h1v1h-1zM17 68h4v1h-4zM5 73h1v1h-1zM6 78h1v1h-1zM6 79h1v1h-1zM7 81h1v1h-1zM12 81h4v1h-4zM19 81h4v1h-4z"/>
<path fill="#ffdf00" d="M6 3h1v1h-1zM11 4h5v1h-5zM25 4h3v1h-3zM39 5h8v1h-8zM48 5h1v1h-1zM74 5h2v1h-2zM3 6h1v1h-1zM65 6h1v1h-1zM65 8h1v1h-1zM81 8h1v1h-1zM65 9h1v1h-1zM81 9h1v1h-1zM65 10h1v1h-1zM81 10h1v1h-1zM4 11h1v1h-1zM66 11h1v1h-1zM81 11h1v1h-1zM4 12h1v1h-1zM4 13h1v1h-1zM67 13h1v1h-1zM4 14h1v1h-1zM67 14h1v1h-1zM4 15h1v1h-1zM68 15h1v1h-1zM68 16h1v1h-1zM69 17h1v1h-1zM69 18h1v1h-1zM68 21h1v1h-1zM67 23h1v1h-1zM81 23h1v1h-1zM65 24h1v1h-1zM81 24h1v1h-1zM4 25h1v1h-1zM4 26h1v1h-1zM61 26h1v1h-1zM4 27h1v1h-1zM61 27h1v1h-1zM61 28h1v1h-1zM61 29h1v1h-1zM61 30h1v1h-1zM61 31h1v1h-1zM61 32h1v1h-1zM62 35h1v1h-1zM62 36h1v1h-1zM5 39h1v1h-1zM5 40h1v1h-1zM62 40h1v1h-1zM5 41h1v1h-1zM61 41h1v1h-1zM5 42h1v1h-1zM51 42h1v1h-1zM61 42h1v1h-1zM5 43h1v1h-1zM59 43h1v1h-1zM5 44h1v1h-1zM53 44h5v1h-5zM5 45h1v1h-1zM5 46h1v1h-1zM5 48h1v1h-1zM42 51h1v1h-1zM44 53h1v1h-1zM44 54h1v1h-1zM44 55h1v1h-1zM44 56h1v1h-1zM44 57h1v1h-1zM43 59h1v1h-1zM26 61h7v1h-7zM41 61h2v1h-2zM35 62h2v1h-2zM40 62h1v1h-1zM6 65h1v1h-1zM8 65h3v1h-3zM24 65h1v1h-1zM11 66h1v1h-1zM13 67h2v1h-2zM23 67h1v1h-1zM15 68h2v1h-2zM21 68h1v1h-1zM17 69h2v1h-2zM5 74h1v1h-1zM5 75h1v1h-1zM8 81h4v1h-4zM23 81h2v1h-2z"/>
<path fill="#af0000" d="M5 4h1v1h-1zM4 5h1v1h-1zM6 5h1v1h-1zM5 6h1v1h-1zM24 6h1v1h-1zM33 7h8v1h-8zM40 8h3v1h-3zM40 9h3v1h-3zM40 10h3v1h-3zM40 11h3v1h-3zM40 12h3v1h-3zM40 13h3v1h-3zM40 14h3v1h-3zM40 15h3v1h-3zM40 16h3v1h-3zM40 17h3v1h-3zM40 18h3v1h-3zM40 19h3v1h-3zM40 20h3v1h-3zM40 21h3v1h-3zM41 22h2v1h-2zM42 23h1v1h-1zM6 24h1v1h-1zM47 26h1v1h-1zM7 33h1v1h-1zM7 34h1v1h-1zM7 35h1v1h-1zM7 36h1v1h-1zM7 37h1v1h-1zM7 38h1v1h-1zM7 39h1v1h-1zM7 40h15v1h-15zM8 41h15v1h-15zM47 41h1v1h-1zM8 42h16v1h-16zM46 42h1v1h-1zM42 46h1v1h-1zM73 46h5v1h-5zM26 47h1v1h-1zM41 47h1v1h-1zM76 47h2v1h-2zM50 48h1v1h-1zM76 48h2v1h-2zM68 49h10v1h-10zM48 50h1v1h-1zM53 50h3v1h-3zM63 50h8v1h-8zM59 51h2v1h-2zM64 52h3v1h-3zM50 53h1v1h-1zM50 54h1v1h-1zM50 55h1v1h-1zM66 56h1v1h-1zM51 59h1v1h-1zM67 59h2v1h-2zM51 60h1v1h-1zM68 60h1v1h-1zM68 61h3v1h-3zM69 62h3v1h-3zM50 63h1v1h-1zM72 63h1v1h-1zM50 64h1v1h-1zM52 64h1v1h-1zM73 64h4v1h-4zM50 65h1v1h-1zM52 65h1v1h-1zM50 66h1v1h-1zM52 66h1v1h-1zM56 66h1v1h-1zM50 67h1v1h-1zM59 67h1v1h-1zM77 67h1v1h-1zM49 68h2v1h-2zM59 68h3v1h-3zM77 68h1v1h-1zM49 69h2v1h-2zM61 69h2v1h-2zM49 70h2v1h-2zM61 70h2v1h-2zM49 71h1v1h-1zM62 71h1v1h-1zM49 72h1v1h-1zM63 72h1v1h-1zM46 73h1v1h-1zM49 73h1v1h-1zM64 73h1v1h-1zM46 74h1v1h-1zM49 74h1v1h-1zM64 74h1v1h-1zM46 75h1v1h-1zM49 75h1v1h-1zM64 75h1v1h-1zM46 76h4v1h-4zM64 76h1v1h-1zM46 77h4v1h-4zM67 77h2v1h-2zM81 78h1v1h-1zM78 81h1v1h-1z"/>
<path fill="#ff7000" d="M7 4h1v1h-1zM9 5h3v1h-3zM4 7h1v1h-1zM73 7h4v1h-4zM72 8h1v1h-1zM77 8h2v1h-2zM5 9h1v1h-1zM72 9h1v1h-1zM77 9h2v1h-2zM5 10h1v1h-1zM72 10h1v1h-1zM77 10h2v1h-2zM5 11h1v1h-1zM72 11h1v1h-1zM77 11h2v1h-2zM72 12h1v1h-1zM77 12h2v1h-2zM73 13h6v1h-6zM73 14h6v1h-6zM73 15h6v1h-6zM74 21h5v1h-5zM74 22h5v1h-5zM73 23h6v1h-6zM71 24h2v1h-2zM78 24h1v1h-1zM69 25h1v1h-1zM79 25h1v1h-1zM50 26h1v1h-1zM66 26h1v1h-1zM80 26h1v1h-1zM50 27h1v1h-1zM65 27h1v1h-1zM66 29h1v1h-1zM66 30h1v1h-1zM66 31h1v1h-1zM81 31h1v1h-1zM66 32h2v1h-2zM81 32h1v1h-1zM67 33h1v1h-1zM81 33h1v1h-1zM67 34h1v1h-1zM81 34h1v1h-1zM67 35h1v1h-1zM81 35h1v1h-1zM67 36h2v1h-2zM81 36h1v1h-1zM67 37h2v1h-2zM81 37h1v1h-1zM67 38h1v1h-1zM81 38h1v1h-1zM67 39h1v1h-1zM81 39h1v1h-1zM66 40h1v1h-1zM81 40h1v1h-1zM65 41h1v1h-1zM81 41h1v1h-1zM50 42h1v1h-1zM64 42h1v1h-1zM63 43h1v1h-1zM62 44h1v1h-1zM60 45h1v1h-1zM52 46h1v1h-1zM59 46h1v1h-1zM53 47h6v1h-6zM26 50h2v1h-2zM42 50h1v1h-1zM46 52h1v1h-1zM47 53h1v1h-1zM81 53h1v1h-1zM47 54h1v1h-1zM81 54h1v1h-1zM47 55h1v1h-1zM81 55h1v1h-1zM47 56h1v1h-1zM47 57h1v1h-1zM47 58h1v1h-1zM46 59h1v1h-1zM45 60h1v1h-1zM44 62h1v1h-1zM43 63h1v1h-1zM42 64h1v1h-1zM27 65h1v1h-1zM41 65h1v1h-1zM26 66h1v1h-1zM29 66h4v1h-4zM40 66h1v1h-1zM32 67h8v1h-8zM36 68h2v1h-2zM25 69h1v1h-1zM24 71h1v1h-1zM8 72h5v1h-5zM24 72h1v1h-1zM7 73h1v1h-1zM13 73h3v1h-3zM23 73h1v1h-1zM7 74h1v1h-1zM13 74h3v1h-3zM21 74h3v1h-3zM7 75h1v1h-1zM13 75h3v1h-3zM21 75h3v1h-3zM7 76h1v1h-1zM13 76h3v1h-3zM21 76h3v1h-3zM8 77h8v1h-8zM21 77h3v1h-3zM8 78h8v1h-8zM21 78h4v1h-4zM25 79h1v1h-1zM26 80h1v1h-1zM31 81h11v1h-11zM53 81h3v1h-3z"/>
<path fill="#ffcf00" d="M10 4h1v1h-1zM24 4h1v1h-1zM66 8h1v1h-1zM66 9h1v1h-1zM4 10h1v1h-1zM66 10h1v1h-1zM67 11h1v1h-1zM67 12h1v1h-1zM68 13h1v1h-1zM68 14h1v1h-1zM69 15h1v1h-1zM69 16h1v1h-1zM69 19h1v1h-1zM69 20h1v1h-1zM69 21h1v1h-1zM68 22h1v1h-1zM4 24h1v1h-1zM66 24h1v1h-1zM64 25h1v1h-1zM62 34h1v1h-1zM58 44h1v1h-1zM44 58h1v1h-1zM34 62h1v1h-1zM25 64h1v1h-1zM8 66h3v1h-3zM24 66h1v1h-1zM11 67h2v1h-2zM13 68h2v1h-2zM22 68h1v1h-1zM15 69h2v1h-2zM19 69h3v1h-3z"/>
<path fill="#efff10" d="M30 4h1v1h-1zM70 5h2v1h-2zM50 11h1v1h-1zM64 11h1v1h-1zM65 14h1v1h-1zM65 15h1v1h-1zM66 16h1v1h-1zM66 17h1v1h-1zM66 18h1v1h-1zM66 19h1v1h-1zM66 20h1v1h-1zM66 21h1v1h-1zM65 22h1v1h-1zM58 26h1v1h-1zM4 30h1v1h-1zM60 33h1v1h-1zM61 37h1v1h-1zM61 38h1v1h-1zM61 39h1v1h-1zM53 43h5v1h-5zM11 50h1v1h-1zM43 53h1v1h-1zM43 54h1v1h-1zM43 55h1v1h-1zM43 56h1v1h-1zM43 57h1v1h-1zM26 58h1v1h-1zM33 60h1v1h-1zM37 61h3v1h-3zM11 64h1v1h-1zM14 65h2v1h-2zM22 65h1v1h-1zM16 66h6v1h-6zM5 70h1v1h-1zM5 71h1v1h-1z"/>
<path fill="#00ffff" d="M78 4h3v1h-3zM55 14h1v1h-1zM53 15h2v1h-2zM56 15h1v1h-1zM52 16h1v1h-1zM57 16h1v1h-1zM52 17h1v1h-1zM52 18h1v1h-1zM52 19h1v1h-1zM57 19h1v1h-1zM57 20h1v1h-1zM57 21h1v1h-1zM53 22h5v1h-5zM53 23h5v1h-5zM16 52h4v1h-4zM15 53h1v1h-1zM22 53h2v1h-2zM15 54h1v1h-1zM22 54h2v1h-2zM14 55h1v1h-1zM22 55h2v1h-2zM15 56h1v1h-1zM22 56h2v1h-2zM16 57h1v1h-1zM19 57h5v1h-5zM4 78h1v1h-1zM4 79h1v1h-1zM4 80h1v1h-1z"/>
<path fill="#ff4000" d="M8 5h1v1h-1zM46 6h2v1h-2zM5 8h1v1h-1zM48 11h1v1h-1zM48 23h1v1h-1zM73 25h5v1h-5zM69 26h2v1h-2zM79 26h1v1h-1zM70 27h1v1h-1zM70 28h1v1h-1zM70 29h2v1h-2zM71 30h1v1h-1zM80 30h1v1h-1zM71 31h1v1h-1zM80 31h1v1h-1zM71 32h2v1h-2zM80 32h1v1h-1zM71 33h2v1h-2zM80 33h1v1h-1zM71 34h2v1h-2zM80 34h1v1h-1zM72 35h1v1h-1zM72 36h1v1h-1zM72 37h2v1h-2zM71 38h2v1h-2zM70 39h2v1h-2zM80 39h1v1h-1zM69 40h2v1h-2zM80 40h1v1h-1zM68 41h2v1h-2zM80 41h1v1h-1zM67 42h2v1h-2zM65 43h2v1h-2zM81 43h1v1h-1zM62 45h1v1h-1zM6 46h1v1h-1zM51 46h1v1h-1zM61 46h1v1h-1zM6 47h1v1h-1zM52 47h1v1h-1zM11 48h1v1h-1zM23 48h1v1h-1zM53 48h6v1h-6zM46 51h1v1h-1zM47 52h1v1h-1zM48 53h1v1h-1zM77 53h1v1h-1zM80 53h1v1h-1zM48 54h1v1h-1zM77 54h1v1h-1zM80 54h1v1h-1zM48 55h1v1h-1zM77 55h1v1h-1zM80 55h1v1h-1zM48 56h1v1h-1zM48 57h1v1h-1zM48 58h1v1h-1zM78 58h2v1h-2zM81 58h1v1h-1zM81 59h1v1h-1zM46 61h1v1h-1zM45 62h1v1h-1zM43 65h1v1h-1zM43 66h1v1h-1zM42 67h1v1h-1zM41 68h2v1h-2zM26 69h1v1h-1zM40 69h2v1h-2zM26 70h4v1h-4zM39 70h2v1h-2zM29 71h6v1h-6zM38 71h2v1h-2zM32 72h7v1h-7zM25 73h1v1h-1zM37 73h1v1h-1zM25 74h1v1h-1zM25 75h1v1h-1zM25 76h1v1h-1zM25 77h1v1h-1zM53 77h3v1h-3zM58 78h1v1h-1zM26 79h1v1h-1zM58 79h1v1h-1zM30 80h5v1h-5zM39 80h3v1h-3zM53 80h3v1h-3zM43 81h1v1h-1zM58 81h2v1h-2z"/>
<path fill="#ff8000" d="M12 5h5v1h-5zM24 5h3v1h-3zM72 6h5v1h-5zM49 7h1v1h-1zM72 7h1v1h-1zM77 7h2v1h-2zM49 8h1v1h-1zM71 8h1v1h-1zM49 9h1v1h-1zM71 9h1v1h-1zM49 10h1v1h-1zM71 10h1v1h-1zM71 11h1v1h-1zM5 12h1v1h-1zM71 12h1v1h-1zM5 13h1v1h-1zM72 13h1v1h-1zM5 14h1v1h-1zM72 14h1v1h-1zM5 15h1v1h-1zM72 15h1v1h-1zM5 16h1v1h-1zM73 16h6v1h-6zM73 17h6v1h-6zM73 18h6v1h-6zM73 19h6v1h-6zM73 20h6v1h-6zM73 21h1v1h-1zM73 22h1v1h-1zM72 23h1v1h-1zM5 24h1v1h-1zM70 24h1v1h-1zM79 24h1v1h-1zM5 25h1v1h-1zM68 25h1v1h-1zM5 26h1v1h-1zM65 26h1v1h-1zM81 27h1v1h-1zM50 28h1v1h-1zM65 28h1v1h-1zM81 28h1v1h-1zM65 29h1v1h-1zM81 29h1v1h-1zM65 30h1v1h-1zM81 30h1v1h-1zM65 31h1v1h-1zM66 33h1v1h-1zM66 34h1v1h-1zM66 35h1v1h-1zM66 36h1v1h-1zM66 38h1v1h-1zM66 39h1v1h-1zM64 41h1v1h-1zM61 44h1v1h-1zM7 49h4v1h-4zM28 50h1v1h-1zM44 61h1v1h-1zM41 64h1v1h-1zM26 65h1v1h-1zM28 65h4v1h-4zM33 66h4v1h-4zM38 66h2v1h-2zM25 68h1v1h-1zM24 70h1v1h-1zM8 71h5v1h-5zM6 72h2v1h-2zM13 72h3v1h-3zM23 72h1v1h-1zM6 73h1v1h-1zM16 73h7v1h-7zM6 74h1v1h-1zM16 74h5v1h-5zM6 75h1v1h-1zM16 75h5v1h-5zM6 76h1v1h-1zM16 76h5v1h-5zM7 77h1v1h-1zM16 77h5v1h-5zM7 78h1v1h-1zM16 78h5v1h-5zM24 79h1v1h-1zM27 81h4v1h-4z"/>
<path fill="#ff8f00" d="M17 5h1v1h-1zM27 5h2v1h-2zM70 6h2v1h-2zM70 7h2v1h-2zM70 8h1v1h-1zM79 8h1v1h-1zM70 9h1v1h-1zM79 9h1v1h-1zM70 10h1v1h-1zM79 10h1v1h-1zM49 11h1v1h-1zM79 11h1v1h-1zM79 12h1v1h-1zM71 13h1v1h-1zM79 13h1v1h-1zM71 14h1v1h-1zM79 14h1v1h-1zM79 15h1v1h-1zM72 16h1v1h-1zM5 17h1v1h-1zM72 17h1v1h-1zM72 18h1v1h-1zM72 19h1v1h-1zM72 20h1v1h-1zM79 20h1v1h-1zM72 21h1v1h-1zM79 21h1v1h-1zM72 22h1v1h-1zM79 22h1v1h-1zM71 23h1v1h-1zM79 23h1v1h-1zM49 24h1v1h-1zM69 24h1v1h-1zM67 25h1v1h-1zM80 25h1v1h-1zM64 26h1v1h-1zM5 27h1v1h-1zM64 27h1v1h-1zM5 28h1v1h-1zM64 28h1v1h-1zM50 29h1v1h-1zM64 29h1v1h-1zM50 30h1v1h-1zM64 30h1v1h-1zM65 32h1v1h-1zM65 33h1v1h-1zM65 34h1v1h-1zM65 35h1v1h-1zM66 37h1v1h-1zM65 38h1v1h-1zM65 39h1v1h-1zM65 40h1v1h-1zM63 42h1v1h-1zM62 43h1v1h-1zM51 44h1v1h-1zM60 44h1v1h-1zM59 45h1v1h-1zM53 46h6v1h-6zM11 49h1v1h-1zM24 49h1v1h-1zM29 50h2v1h-2zM44 51h1v1h-1zM46 53h1v1h-1zM46 54h1v1h-1zM46 55h1v1h-1zM46 56h1v1h-1zM46 57h1v1h-1zM46 58h1v1h-1zM45 59h1v1h-1zM44 60h1v1h-1zM43 62h1v1h-1zM42 63h1v1h-1zM26 64h5v1h-5zM32 65h4v1h-4zM38 65h3v1h-3zM37 66h1v1h-1zM25 67h1v1h-1zM24 69h1v1h-1zM6 70h5v1h-5zM6 71h2v1h-2zM13 71h2v1h-2zM23 71h1v1h-1zM16 72h7v1h-7zM8 79h8v1h-8zM20 79h4v1h-4zM25 80h1v1h-1z"/>
<path fill="#ff9f00" d="M18 5h4v1h-4zM29 5h1v1h-1zM69 6h1v1h-1zM69 7h1v1h-1zM79 7h1v1h-1zM70 11h1v1h-1zM49 12h1v1h-1zM70 12h1v1h-1zM70 13h1v1h-1zM71 15h1v1h-1zM71 16h1v1h-1zM79 16h1v1h-1zM79 17h1v1h-1zM5 18h1v1h-1zM79 18h1v1h-1zM5 19h1v1h-1zM79 19h1v1h-1zM5 20h1v1h-1zM5 21h1v1h-1zM71 22h1v1h-1zM49 23h1v1h-1zM70 23h1v1h-1zM5 29h1v1h-1zM50 31h1v1h-1zM64 31h1v1h-1zM64 32h1v1h-1zM64 33h1v1h-1zM64 34h1v1h-1zM65 36h1v1h-1zM65 37h1v1h-1zM50 39h1v1h-1zM50 40h1v1h-1zM64 40h1v1h-1zM63 41h1v1h-1zM52 45h1v1h-1zM12 49h1v1h-1zM23 49h1v1h-1zM31 50h1v1h-1zM39 50h2v1h-2zM45 52h1v1h-1zM41 63h1v1h-1zM31 64h4v1h-4zM40 64h1v1h-1zM36 65h2v1h-2zM6 69h2v1h-2zM11 70h3v1h-3zM23 70h1v1h-1zM15 71h2v1h-2zM22 71h1v1h-1zM7 79h1v1h-1zM16 79h4v1h-4z"/>
<path fill="#8f0000" d="M7 6h3v1h-3zM6 7h1v1h-1zM12 7h9v1h-9zM6 8h1v1h-1zM26 8h13v1h-13zM6 9h1v1h-1zM26 9h13v1h-13zM26 10h13v1h-13zM26 11h13v1h-13zM7 12h1v1h-1zM26 12h13v1h-13zM7 13h1v1h-1zM26 13h13v1h-13zM7 14h1v1h-1zM26 14h13v1h-13zM7 15h1v1h-1zM26 15h13v1h-13zM7 16h1v1h-1zM26 16h13v1h-13zM7 17h1v1h-1zM26 17h13v1h-13zM7 18h1v1h-1zM26 18h13v1h-13zM7 19h1v1h-1zM26 19h13v1h-13zM7 20h1v1h-1zM26 20h13v1h-13zM26 21h13v1h-13zM26 22h13v1h-13zM26 23h15v1h-15zM27 24h14v1h-14zM31 25h10v1h-10zM8 26h16v1h-16zM46 26h1v1h-1zM8 27h17v1h-17zM44 27h2v1h-2zM8 28h17v1h-17zM44 28h2v1h-2zM8 29h17v1h-17zM44 29h2v1h-2zM8 30h17v1h-17zM44 30h2v1h-2zM8 31h18v1h-18zM44 31h2v1h-2zM8 32h18v1h-18zM44 32h2v1h-2zM8 33h18v1h-18zM44 33h2v1h-2zM8 34h18v1h-18zM44 34h2v1h-2zM8 35h18v1h-18zM44 35h2v1h-2zM8 36h18v1h-18zM44 36h2v1h-2zM8 37h18v1h-18zM44 37h2v1h-2zM8 38h18v1h-18zM44 38h2v1h-2zM23 39h3v1h-3zM44 39h2v1h-2zM23 40h3v1h-3zM44 40h3v1h-3zM46 41h1v1h-1zM45 42h1v1h-1zM27 44h14v1h-14zM27 45h14v1h-14zM42 45h1v1h-1zM26 46h1v1h-1zM40 46h2v1h-2zM56 51h3v1h-3zM59 52h5v1h-5zM60 53h4v1h-4zM62 54h2v1h-2zM62 55h2v1h-2zM51 56h1v1h-1zM63 56h2v1h-2zM51 57h1v1h-1zM63 57h2v1h-2zM51 58h1v1h-1zM64 58h1v1h-1zM52 59h1v1h-1zM64 59h3v1h-3zM52 60h2v1h-2zM66 60h1v1h-1zM52 61h2v1h-2zM66 61h2v1h-2zM52 62h4v1h-4zM67 62h2v1h-2zM52 63h6v1h-6zM69 63h1v1h-1zM56 64h4v1h-4zM70 64h3v1h-3zM59 65h1v1h-1zM59 66h3v1h-3zM73 66h4v1h-4zM61 67h2v1h-2zM62 68h1v1h-1zM63 69h1v1h-1zM64 70h1v1h-1zM77 70h1v1h-1zM64 71h1v1h-1zM77 71h1v1h-1zM64 72h1v1h-1zM77 72h1v1h-1zM66 73h1v1h-1zM77 73h1v1h-1zM66 74h1v1h-1zM77 74h1v1h-1zM66 75h1v1h-1zM77 75h1v1h-1zM66 76h1v1h-1zM77 76h1v1h-1zM70 77h7v1h-7zM80 77h1v1h-1zM77 80h1v1h-1zM81 80h1v1h-1zM80 81h1v1h-1z"/>
<path fill="#bf0000" d="M10 6h9v1h-9zM25 6h2v1h-2zM41 7h2v1h-2zM43 8h1v1h-1zM43 9h1v1h-1zM6 10h1v1h-1zM43 10h1v1h-1zM6 11h1v1h-1zM43 11h1v1h-1zM6 12h1v1h-1zM43 12h1v1h-1zM6 13h1v1h-1zM43 13h1v1h-1zM6 14h1v1h-1zM43 14h1v1h-1zM6 15h1v1h-1zM43 15h1v1h-1zM6 16h1v1h-1zM43 16h1v1h-1zM6 17h1v1h-1zM43 17h1v1h-1zM6 18h1v1h-1zM43 18h1v1h-1zM43 19h1v1h-1zM43 20h1v1h-1zM43 21h1v1h-1zM43 22h1v1h-1zM43 23h1v1h-1zM44 24h1v1h-1zM6 25h1v1h-1zM46 25h1v1h-1zM6 26h1v1h-1zM47 27h1v1h-1zM47 28h1v1h-1zM47 29h1v1h-1zM47 30h1v1h-1zM47 31h1v1h-1zM47 32h1v1h-1zM47 33h1v1h-1zM47 34h1v1h-1zM47 35h1v1h-1zM47 36h1v1h-1zM47 37h1v1h-1zM47 38h1v1h-1zM47 39h1v1h-1zM47 40h1v1h-1zM7 41h1v1h-1zM7 42h1v1h-1zM47 42h1v1h-1zM8 43h16v1h-16zM47 43h2v1h-2zM24 44h1v1h-1zM49 45h1v1h-1zM73 45h5v1h-5zM25 46h1v1h-1zM68 46h5v1h-5zM27 47h14v1h-14zM42 47h2v1h-2zM50 47h1v1h-1zM67 47h6v1h-6zM78 47h1v1h-1zM43 48h1v1h-1zM66 48h7v1h-7zM45 49h1v1h-1zM51 49h1v1h-1zM64 49h4v1h-4zM47 50h1v1h-1zM56 50h7v1h-7zM71 50h6v1h-6zM49 51h1v1h-1zM65 51h4v1h-4zM67 52h2v1h-2zM66 53h2v1h-2zM66 54h2v1h-2zM66 55h2v1h-2zM50 56h1v1h-1zM67 56h1v1h-1zM50 57h1v1h-1zM67 57h2v1h-2zM50 58h1v1h-1zM67 58h2v1h-2zM50 59h1v1h-1zM50 60h1v1h-1zM69 60h2v1h-2zM50 61h1v1h-1zM50 62h1v1h-1zM72 62h5v1h-5zM73 63h4v1h-4zM49 64h1v1h-1zM49 65h1v1h-1zM51 65h1v1h-1zM77 65h1v1h-1zM48 66h2v1h-2zM51 66h1v1h-1zM53 66h3v1h-3zM77 66h4v1h-4zM47 67h3v1h-3zM51 67h8v1h-8zM78 67h3v1h-3zM46 68h3v1h-3zM51 68h2v1h-2zM57 68h2v1h-2zM78 68h3v1h-3zM46 69h3v1h-3zM60 69h1v1h-1zM78 69h3v1h-3zM46 70h3v1h-3zM60 70h1v1h-1zM78 70h3v1h-3zM46 71h3v1h-3zM50 71h1v1h-1zM78 71h3v1h-3zM46 72h3v1h-3zM50 72h1v1h-1zM62 72h1v1h-1zM78 72h3v1h-3zM45 73h1v1h-1zM50 73h1v1h-1zM62 73h2v1h-2zM78 73h3v1h-3zM45 74h1v1h-1zM50 74h1v1h-1zM62 74h2v1h-2zM78 74h3v1h-3zM45 75h1v1h-1zM50 75h1v1h-1zM62 75h2v1h-2zM78 75h3v1h-3zM45 76h1v1h-1zM50 76h1v1h-1zM62 76h2v1h-2zM78 76h3v1h-3zM45 77h1v1h-1zM65 77h2v1h-2zM81 77h1v1h-1zM47 78h1v1h-1zM66 78h11v1h-11zM66 79h11v1h-11zM66 80h11v1h-11zM77 81h1v1h-1z"/>
<path fill="#cf0000" d="M19 6h5v1h-5zM27 6h7v1h-7zM43 7h1v1h-1zM44 8h1v1h-1zM44 9h1v1h-1zM44 10h1v1h-1zM44 11h1v1h-1zM6 19h1v1h-1zM6 20h1v1h-1zM6 21h1v1h-1zM6 22h1v1h-1zM44 22h1v1h-1zM6 23h1v1h-1zM44 23h1v1h-1zM45 24h1v1h-1zM48 26h1v1h-1zM6 27h1v1h-1zM6 28h1v1h-1zM6 29h1v1h-1zM6 30h1v1h-1zM6 31h1v1h-1zM6 32h1v1h-1zM6 33h1v1h-1zM48 41h1v1h-1zM48 42h1v1h-1zM7 43h1v1h-1zM8 44h4v1h-4zM22 44h2v1h-2zM49 44h1v1h-1zM24 45h1v1h-1zM68 45h5v1h-5zM78 45h2v1h-2zM78 46h2v1h-2zM26 48h1v1h-1zM41 48h2v1h-2zM78 48h2v1h-2zM44 49h1v1h-1zM78 49h2v1h-2zM69 51h8v1h-8zM68 56h1v1h-1zM69 59h3v1h-3zM71 60h1v1h-1zM71 61h6v1h-6zM79 63h1v1h-1zM77 64h4v1h-4zM78 65h3v1h-3zM45 68h1v1h-1zM56 68h1v1h-1zM45 69h1v1h-1zM51 69h1v1h-1zM59 69h1v1h-1zM81 69h1v1h-1zM45 70h1v1h-1zM51 70h1v1h-1zM59 70h1v1h-1zM81 70h1v1h-1zM45 71h1v1h-1zM51 71h1v1h-1zM59 71h3v1h-3zM81 71h1v1h-1zM45 72h1v1h-1zM51 72h1v1h-1zM61 72h1v1h-1zM81 72h1v1h-1zM51 73h1v1h-1zM61 73h1v1h-1zM81 73h1v1h-1zM51 74h1v1h-1zM61 74h1v1h-1zM81 74h1v1h-1zM51 75h1v1h-1zM61 75h1v1h-1zM81 75h1v1h-1zM51 76h1v1h-1zM61 76h1v1h-1zM81 76h1v1h-1zM64 77h1v1h-1zM45 78h2v1h-2zM48 78h2v1h-2zM64 78h2v1h-2zM45 79h2v1h-2zM48 79h2v1h-2zM63 79h3v1h-3zM64 80h2v1h-2zM69 81h8v1h-8z"/>
<path fill="#df0000" d="M34 6h1v1h-1zM44 7h2v1h-2zM45 8h1v1h-1zM45 9h1v1h-1zM45 10h1v1h-1zM45 11h1v1h-1zM44 12h1v1h-1zM44 13h1v1h-1zM44 14h1v1h-1zM44 15h1v1h-1zM44 16h1v1h-1zM44 17h1v1h-1zM44 18h1v1h-1zM44 19h1v1h-1zM44 20h1v1h-1zM44 21h1v1h-1zM45 22h1v1h-1zM45 23h1v1h-1zM46 24h1v1h-1zM47 25h1v1h-1zM48 27h1v1h-1zM48 28h1v1h-1zM48 29h1v1h-1zM48 30h1v1h-1zM48 31h1v1h-1zM48 32h1v1h-1zM48 33h1v1h-1zM6 34h1v1h-1zM48 34h1v1h-1zM48 35h1v1h-1zM48 36h1v1h-1zM48 37h1v1h-1zM48 38h1v1h-1zM48 39h1v1h-1zM48 40h1v1h-1zM49 43h1v1h-1zM72 43h8v1h-8zM7 44h1v1h-1zM12 44h10v1h-10zM70 44h10v1h-10zM7 45h5v1h-5zM22 45h2v1h-2zM24 46h1v1h-1zM50 46h1v1h-1zM65 46h3v1h-3zM80 46h1v1h-1zM25 47h1v1h-1zM64 47h3v1h-3zM79 47h2v1h-2zM27 48h14v1h-14zM51 48h1v1h-1zM63 48h3v1h-3zM80 48h1v1h-1zM43 49h1v1h-1zM52 49h1v1h-1zM61 49h3v1h-3zM80 49h1v1h-1zM46 50h1v1h-1zM77 50h4v1h-4zM48 51h1v1h-1zM49 52h1v1h-1zM69 52h3v1h-3zM68 53h2v1h-2zM68 54h2v1h-2zM68 55h2v1h-2zM69 56h1v1h-1zM69 57h3v1h-3zM69 58h3v1h-3zM72 59h5v1h-5zM72 60h5v1h-5zM49 61h1v1h-1zM49 62h1v1h-1zM77 62h4v1h-4zM48 63h2v1h-2zM77 63h2v1h-2zM80 63h1v1h-1zM47 64h2v1h-2zM46 65h3v1h-3zM46 66h2v1h-2zM81 66h1v1h-1zM46 67h1v1h-1zM81 67h1v1h-1zM53 68h3v1h-3zM81 68h1v1h-1zM52 69h7v1h-7zM44 70h1v1h-1zM52 70h1v1h-1zM57 70h2v1h-2zM44 71h1v1h-1zM52 71h1v1h-1zM57 71h2v1h-2zM43 72h2v1h-2zM59 72h2v1h-2zM43 73h2v1h-2zM59 73h2v1h-2zM43 74h2v1h-2zM59 74h2v1h-2zM43 75h2v1h-2zM59 75h2v1h-2zM43 76h2v1h-2zM59 76h2v1h-2zM43 77h2v1h-2zM50 77h1v1h-1zM62 77h2v1h-2zM43 78h2v1h-2zM50 78h1v1h-1zM62 78h2v1h-2zM43 79h2v1h-2zM47 79h1v1h-1zM50 79h1v1h-1zM62 79h1v1h-1zM46 80h5v1h-5zM62 80h2v1h-2zM66 81h3v1h-3z"/>
<path fill="#ef0000" d="M35 6h6v1h-6zM46 7h1v1h-1zM46 8h1v1h-1zM46 9h1v1h-1zM46 10h1v1h-1zM46 11h1v1h-1zM45 12h1v1h-1zM45 13h1v1h-1zM45 14h1v1h-1zM45 15h1v1h-1zM45 16h1v1h-1zM45 17h1v1h-1zM45 18h1v1h-1zM45 19h1v1h-1zM45 20h1v1h-1zM45 21h1v1h-1zM46 23h1v1h-1zM6 35h1v1h-1zM6 36h1v1h-1zM6 37h1v1h-1zM6 38h1v1h-1zM6 39h1v1h-1zM6 40h1v1h-1zM67 44h3v1h-3zM12 45h10v1h-10zM65 45h3v1h-3zM80 45h1v1h-1zM7 46h5v1h-5zM23 46h1v1h-1zM59 49h2v1h-2zM72 52h5v1h-5zM70 53h3v1h-3zM70 54h3v1h-3zM70 55h3v1h-3zM70 56h3v1h-3zM72 58h5v1h-5zM49 59h1v1h-1zM49 60h1v1h-1zM77 61h1v1h-1zM81 64h1v1h-1zM45 65h1v1h-1zM81 65h1v1h-1zM45 66h1v1h-1zM44 67h2v1h-2zM44 68h1v1h-1zM44 69h1v1h-1zM53 70h4v1h-4zM53 71h4v1h-4zM52 72h5v1h-5zM58 72h1v1h-1zM52 73h1v1h-1zM58 73h1v1h-1zM52 74h1v1h-1zM58 74h1v1h-1zM52 75h1v1h-1zM58 75h1v1h-1zM52 76h1v1h-1zM58 76h1v1h-1zM61 77h1v1h-1zM45 80h1v1h-1zM64 81h2v1h-2z"/>
<path fill="#ff2000" d="M44 6h1v1h-1zM48 7h1v1h-1zM47 13h1v1h-1zM47 14h1v1h-1zM47 15h1v1h-1zM47 16h1v1h-1zM47 17h1v1h-1zM47 18h1v1h-1zM47 19h1v1h-1zM47 20h1v1h-1zM47 21h1v1h-1zM72 26h1v1h-1zM78 26h1v1h-1zM72 27h1v1h-1zM78 27h2v1h-2zM72 28h1v1h-1zM79 28h1v1h-1zM79 29h1v1h-1zM73 30h1v1h-1zM79 30h1v1h-1zM73 31h1v1h-1zM79 31h1v1h-1zM73 32h1v1h-1zM79 32h1v1h-1zM73 33h1v1h-1zM79 33h1v1h-1zM79 34h1v1h-1zM74 35h1v1h-1zM74 36h2v1h-2zM75 37h4v1h-4zM74 38h2v1h-2zM73 39h2v1h-2zM79 39h1v1h-1zM72 40h2v1h-2zM79 40h1v1h-1zM71 41h2v1h-2zM79 41h1v1h-1zM69 42h3v1h-3zM80 42h1v1h-1zM67 43h2v1h-2zM6 44h1v1h-1zM50 44h1v1h-1zM63 45h1v1h-1zM81 45h1v1h-1zM62 46h1v1h-1zM13 47h9v1h-9zM61 47h1v1h-1zM7 48h1v1h-1zM59 48h1v1h-1zM44 50h1v1h-1zM81 51h1v1h-1zM77 58h1v1h-1zM80 58h1v1h-1zM48 59h1v1h-1zM80 59h1v1h-1zM78 60h2v1h-2zM47 61h1v1h-1zM81 61h1v1h-1zM46 62h1v1h-1zM45 63h1v1h-1zM43 67h1v1h-1zM43 68h1v1h-1zM42 69h1v1h-1zM42 70h1v1h-1zM41 71h2v1h-2zM26 72h3v1h-3zM40 72h2v1h-2zM30 73h4v1h-4zM39 73h2v1h-2zM35 74h2v1h-2zM38 74h2v1h-2zM36 75h3v1h-3zM37 76h1v1h-1zM37 77h1v1h-1zM58 77h1v1h-1zM26 78h2v1h-2zM37 78h1v1h-1zM60 78h1v1h-1zM27 79h8v1h-8zM39 79h3v1h-3zM60 79h1v1h-1zM42 80h1v1h-1zM58 80h2v1h-2zM45 81h1v1h-1zM51 81h1v1h-1zM61 81h1v1h-1z"/>
<path fill="#ff3000" d="M45 6h1v1h-1zM48 8h1v1h-1zM48 9h1v1h-1zM48 10h1v1h-1zM48 24h1v1h-1zM71 26h1v1h-1zM71 27h1v1h-1zM71 28h1v1h-1zM72 29h1v1h-1zM72 30h1v1h-1zM72 31h1v1h-1zM73 34h1v1h-1zM73 35h1v1h-1zM79 35h1v1h-1zM73 36h1v1h-1zM79 36h1v1h-1zM74 37h1v1h-1zM79 37h1v1h-1zM73 38h1v1h-1zM79 38h1v1h-1zM72 39h1v1h-1zM71 40h1v1h-1zM70 41h1v1h-1zM64 44h1v1h-1zM81 44h1v1h-1zM6 45h1v1h-1zM60 47h1v1h-1zM8 48h3v1h-3zM24 48h1v1h-1zM77 52h1v1h-1zM80 52h1v1h-1zM77 56h1v1h-1zM80 56h1v1h-1zM77 57h1v1h-1zM80 57h1v1h-1zM78 59h2v1h-2zM47 60h1v1h-1zM81 60h1v1h-1zM44 64h1v1h-1zM41 70h1v1h-1zM26 71h3v1h-3zM40 71h1v1h-1zM29 72h3v1h-3zM39 72h1v1h-1zM34 73h3v1h-3zM38 73h1v1h-1zM37 74h1v1h-1zM52 77h1v1h-1zM56 77h2v1h-2zM59 78h1v1h-1zM35 79h4v1h-4zM59 79h1v1h-1zM52 80h1v1h-1zM56 80h2v1h-2zM44 81h1v1h-1zM60 81h1v1h-1z"/>
<path fill="#ff5000" d="M48 6h1v1h-1zM74 8h3v1h-3zM74 9h3v1h-3zM74 10h3v1h-3zM74 11h3v1h-3zM48 12h1v1h-1zM48 13h1v1h-1zM48 14h1v1h-1zM48 15h1v1h-1zM48 16h1v1h-1zM48 17h1v1h-1zM48 18h1v1h-1zM48 19h1v1h-1zM48 20h1v1h-1zM48 21h1v1h-1zM48 22h1v1h-1zM74 24h4v1h-4zM71 25h2v1h-2zM78 25h1v1h-1zM67 26h2v1h-2zM68 27h2v1h-2zM80 27h1v1h-1zM68 28h2v1h-2zM80 28h1v1h-1zM69 29h1v1h-1zM80 29h1v1h-1zM69 30h2v1h-2zM69 31h2v1h-2zM69 32h2v1h-2zM70 33h1v1h-1zM70 34h1v1h-1zM70 35h2v1h-2zM80 35h1v1h-1zM70 36h2v1h-2zM80 36h1v1h-1zM70 37h2v1h-2zM80 37h1v1h-1zM70 38h1v1h-1zM80 38h1v1h-1zM69 39h1v1h-1zM68 40h1v1h-1zM67 41h1v1h-1zM65 42h2v1h-2zM81 42h1v1h-1zM50 43h1v1h-1zM64 43h1v1h-1zM63 44h1v1h-1zM61 45h1v1h-1zM60 46h1v1h-1zM59 47h1v1h-1zM6 48h1v1h-1zM12 48h11v1h-11zM43 50h1v1h-1zM78 52h2v1h-2zM78 57h2v1h-2zM81 57h1v1h-1zM47 59h1v1h-1zM46 60h1v1h-1zM45 61h1v1h-1zM44 63h1v1h-1zM43 64h1v1h-1zM42 65h1v1h-1zM42 66h1v1h-1zM26 67h1v1h-1zM41 67h1v1h-1zM26 68h3v1h-3zM40 68h1v1h-1zM27 69h6v1h-6zM39 69h1v1h-1zM30 70h9v1h-9zM25 71h1v1h-1zM35 71h3v1h-3zM25 72h1v1h-1zM8 74h4v1h-4zM24 74h1v1h-1zM8 75h4v1h-4zM24 75h1v1h-1zM8 76h4v1h-4zM24 76h1v1h-1zM24 77h1v1h-1zM25 78h1v1h-1zM52 78h1v1h-1zM57 78h1v1h-1zM52 79h1v1h-1zM57 79h1v1h-1zM27 80h3v1h-3zM35 80h4v1h-4zM42 81h1v1h-1zM57 81h1v1h-1z"/>
<path fill="#ffbf00" d="M49 6h1v1h-1zM66 6h2v1h-2zM77 6h1v1h-1zM65 7h2v1h-2zM80 7h1v1h-1zM67 8h2v1h-2zM67 9h2v1h-2zM67 10h2v1h-2zM68 11h1v1h-1zM68 12h1v1h-1zM80 12h1v1h-1zM69 13h1v1h-1zM80 13h1v1h-1zM69 14h1v1h-1zM80 14h1v1h-1zM80 15h1v1h-1zM70 16h1v1h-1zM80 16h1v1h-1zM70 17h1v1h-1zM80 17h1v1h-1zM70 18h1v1h-1zM80 18h1v1h-1zM70 19h1v1h-1zM80 19h1v1h-1zM70 20h1v1h-1zM80 20h1v1h-1zM70 21h1v1h-1zM80 21h1v1h-1zM69 22h1v1h-1zM80 22h1v1h-1zM68 23h1v1h-1zM67 24h1v1h-1zM50 25h1v1h-1zM65 25h1v1h-1zM81 25h1v1h-1zM62 26h1v1h-1zM62 27h1v1h-1zM62 28h1v1h-1zM62 29h1v1h-1zM62 30h1v1h-1zM62 31h1v1h-1zM62 32h1v1h-1zM62 33h1v1h-1zM63 34h1v1h-1zM63 35h1v1h-1zM63 36h1v1h-1zM63 37h1v1h-1zM63 38h1v1h-1zM63 39h1v1h-1zM63 40h1v1h-1zM51 41h1v1h-1zM62 41h1v1h-1zM60 43h1v1h-1zM52 44h1v1h-1zM6 49h1v1h-1zM25 50h1v1h-1zM41 51h1v1h-1zM44 52h1v1h-1zM43 60h1v1h-1zM26 62h8v1h-8zM41 62h1v1h-1zM34 63h7v1h-7zM7 65h1v1h-1zM25 65h1v1h-1zM6 66h2v1h-2zM6 67h1v1h-1zM8 67h3v1h-3zM24 67h1v1h-1zM8 68h5v1h-5zM23 68h1v1h-1zM13 69h2v1h-2zM22 69h1v1h-1zM16 70h6v1h-6zM6 77h1v1h-1zM7 80h1v1h-1zM12 80h11v1h-11zM25 81h1v1h-1z"/>
<path fill="#9f0000" d="M21 7h12v1h-12zM39 8h1v1h-1zM39 9h1v1h-1zM39 10h1v1h-1zM39 11h1v1h-1zM39 12h1v1h-1zM39 13h1v1h-1zM39 14h1v1h-1zM39 15h1v1h-1zM39 16h1v1h-1zM39 17h1v1h-1zM39 18h1v1h-1zM39 19h1v1h-1zM39 20h1v1h-1zM7 21h1v1h-1zM39 21h1v1h-1zM7 22h1v1h-1zM39 22h2v1h-2zM7 23h1v1h-1zM41 23h1v1h-1zM7 24h1v1h-1zM41 24h3v1h-3zM7 25h1v1h-1zM41 25h5v1h-5zM7 26h1v1h-1zM7 27h1v1h-1zM46 27h1v1h-1zM7 28h1v1h-1zM46 28h1v1h-1zM7 29h1v1h-1zM46 29h1v1h-1zM7 30h1v1h-1zM46 30h1v1h-1zM7 31h1v1h-1zM46 31h1v1h-1zM7 32h1v1h-1zM46 32h1v1h-1zM46 33h1v1h-1zM46 34h1v1h-1zM46 35h1v1h-1zM46 36h1v1h-1zM46 37h1v1h-1zM46 38h1v1h-1zM8 39h15v1h-15zM46 39h1v1h-1zM22 40h1v1h-1zM23 41h3v1h-3zM24 42h2v1h-2zM24 43h2v1h-2zM46 43h1v1h-1zM25 44h1v1h-1zM48 44h1v1h-1zM25 45h1v1h-1zM27 46h13v1h-13zM43 46h1v1h-1zM49 46h1v1h-1zM73 47h3v1h-3zM44 48h1v1h-1zM73 48h3v1h-3zM46 49h1v1h-1zM61 51h4v1h-4zM64 53h2v1h-2zM64 54h2v1h-2zM64 55h2v1h-2zM65 56h1v1h-1zM65 57h2v1h-2zM65 58h2v1h-2zM67 60h1v1h-1zM51 61h1v1h-1zM51 62h1v1h-1zM51 63h1v1h-1zM70 63h2v1h-2zM51 64h1v1h-1zM53 64h3v1h-3zM53 65h6v1h-6zM73 65h4v1h-4zM57 66h2v1h-2zM60 67h1v1h-1zM77 69h1v1h-1zM63 70h1v1h-1zM63 71h1v1h-1zM47 73h2v1h-2zM65 73h1v1h-1zM47 74h2v1h-2zM65 74h1v1h-1zM47 75h2v1h-2zM65 75h1v1h-1zM65 76h1v1h-1zM69 77h1v1h-1zM81 79h1v1h-1zM79 81h1v1h-1z"/>
<path fill="#20ffdf" d="M52 12h5v1h-5zM52 13h6v1h-6zM58 14h1v1h-1zM58 15h1v1h-1zM59 17h1v1h-1zM59 18h1v1h-1zM59 19h1v1h-1zM59 20h1v1h-1zM59 21h1v1h-1zM52 22h1v1h-1zM58 23h1v1h-1zM12 52h2v1h-2zM22 52h1v1h-1zM12 53h2v1h-2zM12 54h2v1h-2zM12 55h2v1h-2zM12 56h2v1h-2zM13 57h1v1h-1zM14 58h2v1h-2zM23 58h1v1h-1zM17 59h5v1h-5z"/>
<path fill="#10ffef" d="M52 14h3v1h-3zM56 14h2v1h-2zM52 15h1v1h-1zM57 15h1v1h-1zM58 16h1v1h-1zM58 17h1v1h-1zM58 18h1v1h-1zM58 19h1v1h-1zM52 20h1v1h-1zM58 20h1v1h-1zM52 21h1v1h-1zM58 21h1v1h-1zM58 22h1v1h-1zM14 52h2v1h-2zM20 52h2v1h-2zM14 53h1v1h-1zM14 54h1v1h-1zM14 56h1v1h-1zM14 57h2v1h-2zM16 58h7v1h-7z"/>
<path fill="#00efff" d="M55 15h1v1h-1zM53 16h1v1h-1zM56 16h1v1h-1zM57 17h1v1h-1zM57 18h1v1h-1zM56 19h1v1h-1zM53 20h4v1h-4zM53 21h4v1h-4zM16 53h1v1h-1zM20 53h2v1h-2zM20 54h2v1h-2zM15 55h1v1h-1zM20 55h2v1h-2zM16 56h1v1h-1zM19 56h3v1h-3zM17 57h2v1h-2z"/>
<path fill="#00dfff" d="M54 16h2v1h-2zM53 17h1v1h-1zM56 17h1v1h-1zM53 18h4v1h-4zM53 19h3v1h-3zM17 53h3v1h-3zM16 54h1v1h-1zM18 54h2v1h-2zM16 55h1v1h-1zM18 55h2v1h-2zM17 56h2v1h-2z"/>
<path fill="#00cfff" d="M54 17h2v1h-2zM17 54h1v1h-1zM17 55h1v1h-1z"/>
</g>
<path d="M270.3 1944.5V3431.7H1734.4" fill="none" stroke="#3a3a3a" stroke-width="2" stroke-opacity="0.8"/>
<path d="M270.3 1944.5H1734.4V3431.7" fill="none" stroke="#3a3a3a" stroke-width="2" stroke-opacity="0.6"/>
<path d="M279.0 3431.7v-16.0M279.0 1944.5v16.0M270.3 1954.0h16.0M1734.4 1954.0h-16.0" stroke="#262626" stroke-opacity="0.65" stroke-width="2.2" fill="none"/>
<text x="277.0" y="3515.2" font-size="56.0" text-anchor="middle">900</text>
<text x="244.5" y="1978.0" font-size="56.0" text-anchor="end">900</text>
<path d="M459.8 3431.7v-16.0M459.8 1944.5v16.0M270.3 2137.6h16.0M1734.4 2137.6h-16.0" stroke="#262626" stroke-opacity="0.65" stroke-width="2.2" fill="none"/>
<text x="457.8" y="3515.2" font-size="56.0" text-anchor="middle">1000</text>
<text x="244.5" y="2161.6" font-size="56.0" text-anchor="end">1000</text>
<path d="M640.6 3431.7v-16.0M640.6 1944.5v16.0M270.3 2321.1h16.0M1734.4 2321.1h-16.0" stroke="#262626" stroke-opacity="0.65" stroke-width="2.2" fill="none"/>
<text x="638.6" y="3515.2" font-size="56.0" text-anchor="middle">1100</text>
<text x="244.5" y="2345.1" font-size="56.0" text-anchor="end">1100</text>
<path d="M821.4 3431.7v-16.0M821.4 1944.5v16.0M270.3 2504.7h16.0M1734.4 2504.7h-16.0" stroke="#262626" stroke-opacity="0.65" stroke-width="2.2" fill="none"/>
<text x="819.4" y="3515.2" font-size="56.0" text-anchor="middle">1200</text>
<text x="244.5" y="2528.7" font-size="56.0" text-anchor="end">1200</text>
<path d="M1002.2 3431.7v-16.0M1002.2 1944.5v16.0M270.3 2688.2h16.0M1734.4 2688.2h-16.0" stroke="#262626" stroke-opacity="0.65" stroke-width="2.2" fill="none"/>
<text x="1000.2" y="3515.2" font-size="56.0" text-anchor="middle">1300</text>
<text x="244.5" y="2712.2" font-size="56.0" text-anchor="end">1300</text>
<path d="M1183.0 3431.7v-16.0M1183.0 1944.5v16.0M270.3 2871.8h16.0M1734.4 2871.8h-16.0" stroke="#262626" stroke-opacity="0.65" stroke-width="2.2" fill="none"/>
<text x="1181.0" y="3515.2" font-size="56.0" text-anchor="middle">1400</text>
<text x="244.5" y="2895.8" font-size="56.0" text-anchor="end">1400</text>
<path d="M1363.8 3431.7v-16.0M1363.8 1944.5v16.0M270.3 3055.3h16.0M1734.4 3055.3h-16.0" stroke="#262626" stroke-opacity="0.65" stroke-width="2.2" fill="none"/>
<text x="1361.8" y="3515.2" font-size="56.0" text-anchor="middle">1500</text>
<text x="244.5" y="3079.3" font-size="56.0" text-anchor="end">1500</text>
<path d="M1544.6 3431.7v-16.0M1544.6 1944.5v16.0M270.3 3238.9h16.0M1734.4 3238.9h-16.0" stroke="#262626" stroke-opacity="0.65" stroke-width="2.2" fill="none"/>
<text x="1542.6" y="3515.2" font-size="56.0" text-anchor="middle">1600</text>
<text x="244.5" y="3262.9" font-size="56.0" text-anchor="end">1600</text>
<path d="M1725.4 3431.7v-16.0M1725.4 1944.5v16.0M270.3 3422.4h16.0M1734.4 3422.4h-16.0" stroke="#262626" stroke-opacity="0.65" stroke-width="2.2" fill="none"/>
<text x="1723.4" y="3515.2" font-size="56.0" text-anchor="middle">1700</text>
<text x="244.5" y="3446.4" font-size="56.0" text-anchor="end">1700</text>
<text x="1061.5" y="1916.8" font-size="66.0" text-anchor="middle">λ1</text>
<text transform="translate(82.0 2688.0) rotate(-90)" font-size="66.0" text-anchor="middle">λ2</text>
<rect x="1844.00" y="3408.46" width="112.00" height="23.84" fill="#00008f"/>
<rect x="1844.00" y="3385.22" width="112.00" height="23.84" fill="#00009f"/>
<rect x="1844.00" y="3361.99" width="112.00" height="23.84" fill="#0000af"/>
<rect x="1844.00" y="3338.75" width="112.00" height="23.84" fill="#0000bf"/>
<rect x="1844.00" y="3315.51" width="112.00" height="23.84" fill="#0000cf"/>
<rect x="1844.00" y="3292.27" width="112.00" height="23.84" fill="#0000df"/>
<rect x="1844.00" y="3269.04" width="112.00" height="23.84" fill="#0000ef"/>
<rect x="1844.00" y="3245.80" width="112.00" height="23.84" fill="#0000ff"/>
<rect x="1844.00" y="3222.56" width="112.00" height="23.84" fill="#0010ff"/>
<rect x="1844.00" y="3199.32" width="112.00" height="23.84" fill="#0020ff"/>
<rect x="1844.00" y="3176.09" width="112.00" height="23.84" fill="#0030ff"/>
<rect x="1844.00" y="3152.85" width="112.00" height="23.84" fill="#0040ff"/>
<rect x="1844.00" y="3129.61" width="112.00" height="23.84" fill="#0050ff"/>
<rect x="1844.00" y="3106.38" width="112.00" height="23.84" fill="#0060ff"/>
<rect x="1844.00" y="3083.14" width="112.00" height="23.84" fill="#0070ff"/>
<rect x="1844.00" y="3059.90" width="112.00" height="23.84" fill="#0080ff"/>
<rect x="1844.00" y="3036.66" width="112.00" height="23.84" fill="#008fff"/>
<rect x="1844.00" y="3013.43" width="112.00" height="23.84" fill="#009fff"/>
<rect x="1844.00" y="2990.19" width="112.00" height="23.84" fill="#00afff"/>
<rect x="1844.00" y="2966.95" width="112.00" height="23.84" fill="#00bfff"/>
<rect x="1844.00" y="2943.71" width="112.00" height="23.84" fill="#00cfff"/>
<rect x="1844.00" y="2920.47" width="112.00" height="23.84" fill="#00dfff"/>
<rect x="1844.00" y="2897.24" width="112.00" height="23.84" fill="#00efff"/>
<rect x="1844.00" y="2874.00" width="112.00" height="23.84" fill="#00ffff"/>
<rect x="1844.00" y="2850.76" width="112.00" height="23.84" fill="#10ffef"/>
<rect x="1844.00" y="2827.52" width="112.00" height="23.84" fill="#20ffdf"/>
<rect x="1844.00" y="2804.29" width="112.00" height="23.84" fill="#30ffcf"/>
<rect x="1844.00" y="2781.05" width="112.00" height="23.84" fill="#40ffbf"/>
<rect x="1844.00" y="2757.81" width="112.00" height="23.84" fill="#50ffaf"/>
<rect x="1844.00" y="2734.57" width="112.00" height="23.84" fill="#60ff9f"/>
<rect x="1844.00" y="2711.34" width="112.00" height="23.84" fill="#70ff8f"/>
<rect x="1844.00" y="2688.10" width="112.00" height="23.84" fill="#80ff80"/>
<rect x="1844.00" y="2664.86" width="112.00" height="23.84" fill="#8fff70"/>
<rect x="1844.00" y="2641.62" width="112.00" height="23.84" fill="#9fff60"/>
<rect x="1844.00" y="2618.39" width="112.00" height="23.84" fill="#afff50"/>
<rect x="1844.00" y="2595.15" width="112.00" height="23.84" fill="#bfff40"/>
<rect x="1844.00" y="2571.91" width="112.00" height="23.84" fill="#cfff30"/>
<rect x="1844.00" y="2548.68" width="112.00" height="23.84" fill="#dfff20"/>
<rect x="1844.00" y="2525.44" width="112.00" height="23.84" fill="#efff10"/>
<rect x="1844.00" y="2502.20" width="112.00" height="23.84" fill="#ffff00"/>
<rect x="1844.00" y="2478.96" width="112.00" height="23.84" fill="#ffef00"/>
<rect x="1844.00" y="2455.72" width="112.00" height="23.84" fill="#ffdf00"/>
<rect x="1844.00" y="2432.49" width="112.00" height="23.84" fill="#ffcf00"/>
<rect x="1844.00" y="2409.25" width="112.00" height="23.84" fill="#ffbf00"/>
<rect x="1844.00" y="2386.01" width="112.00" height="23.84" fill="#ffaf00"/>
<rect x="1844.00" y="2362.78" width="112.00" height="23.84" fill="#ff9f00"/>
<rect x="1844.00" y="2339.54" width="112.00" height="23.84" fill="#ff8f00"/>
<rect x="1844.00" y="2316.30" width="112.00" height="23.84" fill="#ff8000"/>
<rect x="1844.00" y="2293.06" width="112.00" height="23.84" fill="#ff7000"/>
<rect x="1844.00" y="2269.82" width="112.00" height="23.84" fill="#ff6000"/>
<rect x="1844.00" y="2246.59" width="112.00" height="23.84" fill="#ff5000"/>
<rect x="1844.00" y="2223.35" width="112.00" height="23.84" fill="#ff4000"/>
<rect x="1844.00" y="2200.11" width="112.00" height="23.84" fill="#ff3000"/>
<rect x="1844.00" y="2176.88" width="112.00" height="23.84" fill="#ff2000"/>
<rect x="1844.00" y="2153.64" width="112.00" height="23.84" fill="#ff1000"/>
<rect x="1844.00" y="2130.40" width="112.00" height="23.84" fill="#ff0000"/>
<rect x="1844.00" y="2107.16" width="112.00" height="23.84" fill="#ef0000"/>
<rect x="1844.00" y="2083.93" width="112.00" height="23.84" fill="#df0000"/>
<rect x="1844.00" y="2060.69" width="112.00" height="23.84" fill="#cf0000"/>
<rect x="1844.00" y="2037.45" width="112.00" height="23.84" fill="#bf0000"/>
<rect x="1844.00" y="2014.21" width="112.00" height="23.84" fill="#af0000"/>
<rect x="1844.00" y="1990.97" width="112.00" height="23.84" fill="#9f0000"/>
<rect x="1844.00" y="1967.74" width="112.00" height="23.84" fill="#8f0000"/>
<rect x="1844.00" y="1944.50" width="112.00" height="23.84" fill="#800000"/>
<rect x="1844.00" y="1944.50" width="112.00" height="1487.20" fill="none" stroke="#262626" stroke-width="1.6"/>
<text x="1976.0" y="3450.7" font-size="50.2">0</text>
<path d="M1956.0 3283.0h-16.0" stroke="#262626" stroke-opacity="0.75" stroke-width="2"/>
<text x="1976.0" y="3302.0" font-size="50.2">0.1</text>
<path d="M1956.0 3134.3h-16.0" stroke="#262626" stroke-opacity="0.75" stroke-width="2"/>
<text x="1976.0" y="3153.3" font-size="50.2">0.2</text>
<path d="M1956.0 2985.5h-16.0" stroke="#262626" stroke-opacity="0.75" stroke-width="2"/>
<text x="1976.0" y="3004.5" font-size="50.2">0.3</text>
<path d="M1956.0 2836.8h-16.0" stroke="#262626" stroke-opacity="0.75" stroke-width="2"/>
<text x="1976.0" y="2855.8" font-size="50.2">0.4</text>
<path d="M1956.0 2688.1h-16.0" stroke="#262626" stroke-opacity="0.75" stroke-width="2"/>
<text x="1976.0" y="2707.1" font-size="50.2">0.5</text>
<path d="M1956.0 2539.4h-16.0" stroke="#262626" stroke-opacity="0.75" stroke-width="2"/>
<text x="1976.0" y="2558.4" font-size="50.2">0.6</text>
<path d="M1956.0 2390.7h-16.0" stroke="#262626" stroke-opacity="0.75" stroke-width="2"/>
<text x="1976.0" y="2409.7" font-size="50.2">0.7</text>
<path d="M1956.0 2241.9h-16.0" stroke="#262626" stroke-opacity="0.75" stroke-width="2"/>
<text x="1976.0" y="2260.9" font-size="50.2">0.8</text>
<path d="M1956.0 2093.2h-16.0" stroke="#262626" stroke-opacity="0.75" stroke-width="2"/>
<text x="1976.0" y="2112.2" font-size="50.2">0.9</text>
<text x="1976.0" y="1963.5" font-size="50.2">1</text>
<text class="cap" x="1040.0" y="3672.0" font-size="83.0" text-anchor="middle">(<tspan font-weight="normal">b</tspan>)</text>
</svg>
</body></html>
